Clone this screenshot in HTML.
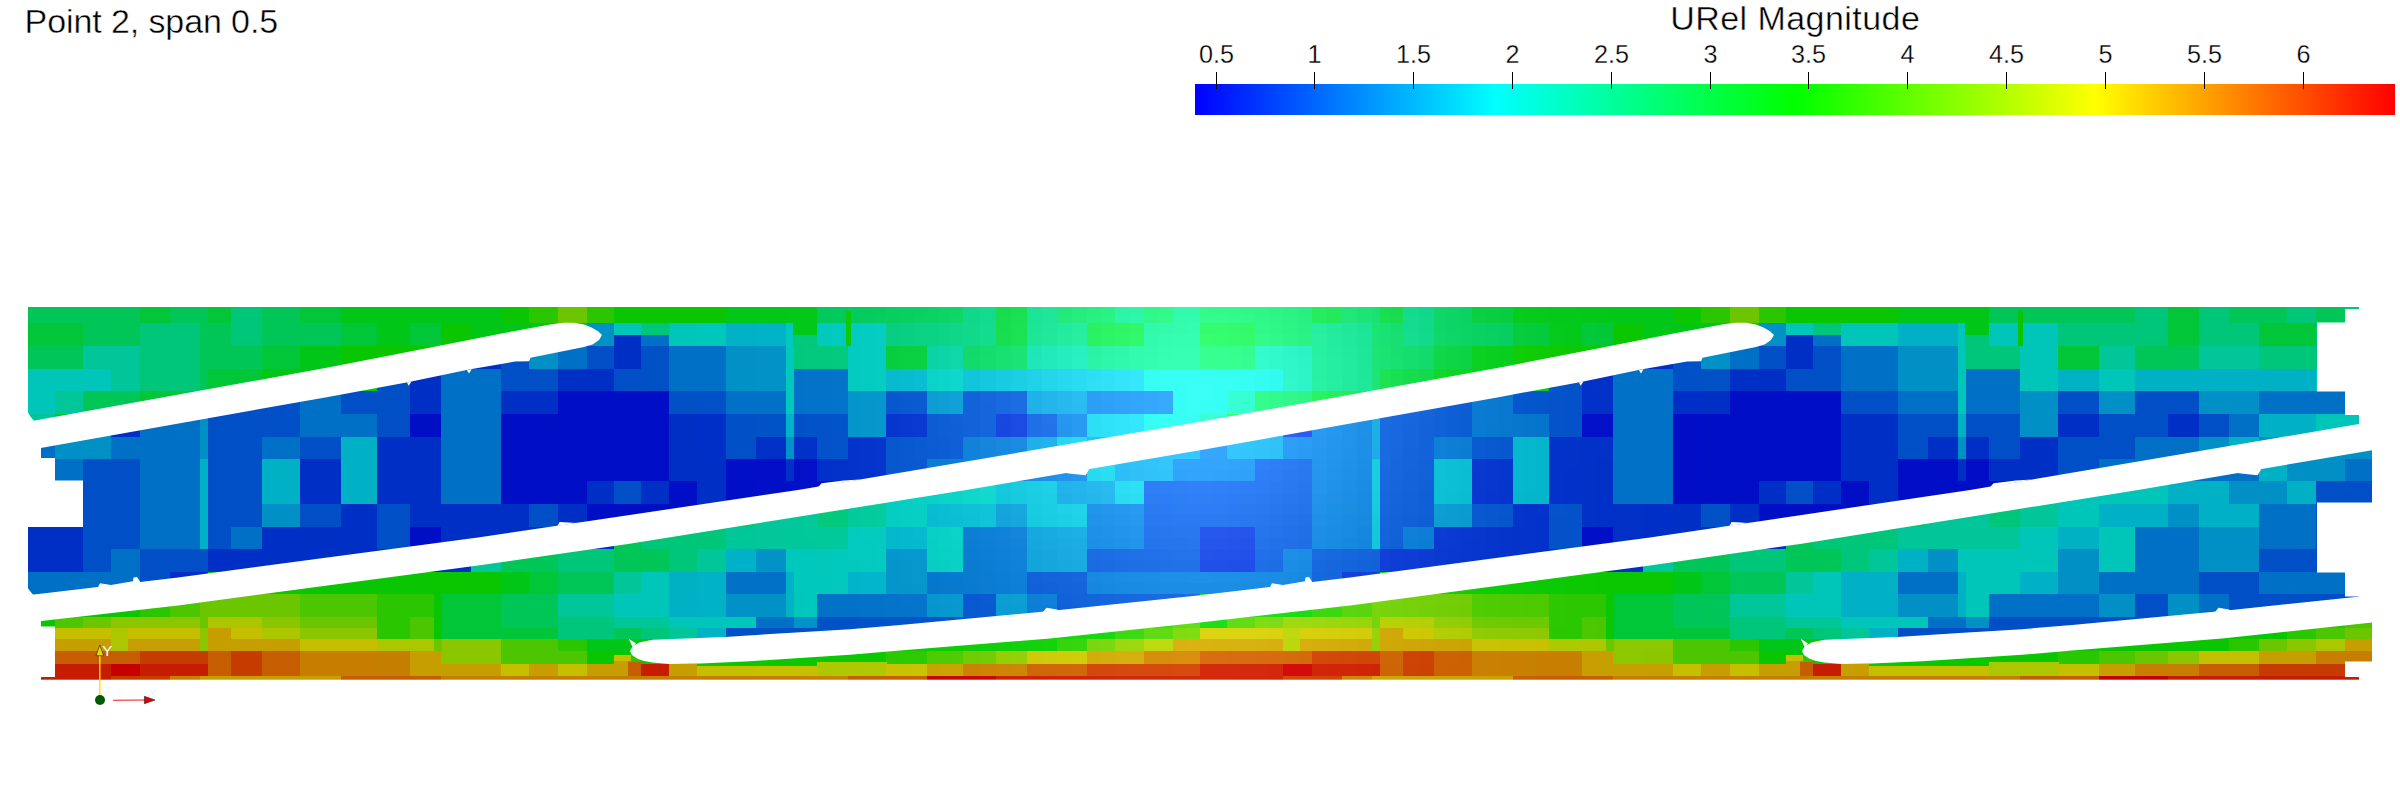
<!DOCTYPE html>
<html><head><meta charset="utf-8"><title>URel Magnitude</title>
<style>
html,body{margin:0;padding:0;background:#fff;}
body{width:2400px;height:800px;overflow:hidden;font-family:"Liberation Sans",sans-serif;}
svg{display:block;position:absolute;left:0;top:0;}
text{font-family:"Liberation Sans",sans-serif;}
.tk{font-size:25.2px;text-anchor:middle;fill:#000;stroke:#fff;stroke-width:0.3px;paint-order:fill stroke;}
.ttl{font-size:34px;fill:#000;letter-spacing:0.45px;stroke:#fff;stroke-width:0.45px;paint-order:fill stroke;}
.ax{font-family:"Liberation Sans",sans-serif;}
</style></head><body>
<svg width="2400" height="800" viewBox="0 0 2400 800">
<rect x="0" y="0" width="2400" height="800" fill="#fff"/>
<g shape-rendering="crispEdges">
<rect x="28.0" y="307.0" width="27.9" height="16.1" fill="#00c658"/>
<rect x="55.3" y="307.0" width="28.2" height="16.1" fill="#00c658"/>
<rect x="82.9" y="307.0" width="28.7" height="16.1" fill="#00c658"/>
<rect x="111.0" y="307.0" width="29.9" height="16.1" fill="#00c658"/>
<rect x="140.3" y="307.0" width="29.9" height="16.1" fill="#00c638"/>
<rect x="169.6" y="307.0" width="31.1" height="16.1" fill="#00c658"/>
<rect x="200.1" y="307.0" width="7.9" height="16.1" fill="#00c658"/>
<rect x="207.5" y="307.0" width="23.8" height="16.1" fill="#00c638"/>
<rect x="230.7" y="307.0" width="32.3" height="16.1" fill="#00c679"/>
<rect x="262.4" y="307.0" width="38.4" height="16.1" fill="#00c658"/>
<rect x="300.2" y="307.0" width="40.9" height="16.1" fill="#00c638"/>
<rect x="340.5" y="307.0" width="37.2" height="16.1" fill="#00c617"/>
<rect x="377.2" y="307.0" width="33.6" height="16.1" fill="#00c617"/>
<rect x="410.1" y="307.0" width="31.1" height="16.1" fill="#00c617"/>
<rect x="440.6" y="307.0" width="31.1" height="16.1" fill="#00c617"/>
<rect x="471.2" y="307.0" width="29.9" height="16.1" fill="#00c617"/>
<rect x="500.5" y="307.0" width="28.7" height="16.1" fill="#09c600"/>
<rect x="528.5" y="307.0" width="29.9" height="16.1" fill="#2ac600"/>
<rect x="557.8" y="307.0" width="29.9" height="16.1" fill="#6bc600"/>
<rect x="587.1" y="307.0" width="27.5" height="16.1" fill="#2ac600"/>
<rect x="614.0" y="307.0" width="27.9" height="16.1" fill="#09c600"/>
<rect x="641.3" y="307.0" width="28.2" height="16.1" fill="#0ac600"/>
<rect x="668.9" y="307.0" width="28.7" height="16.1" fill="#0ac600"/>
<rect x="697.0" y="307.0" width="29.9" height="16.1" fill="#0ac600"/>
<rect x="726.3" y="307.0" width="29.9" height="16.1" fill="#01c718"/>
<rect x="755.6" y="307.0" width="31.1" height="16.1" fill="#01c718"/>
<rect x="786.1" y="307.0" width="7.9" height="8.3" fill="#01c819"/>
<rect x="786.1" y="314.8" width="7.9" height="8.3" fill="#01c819"/>
<rect x="793.5" y="307.0" width="12.2" height="8.3" fill="#02c819"/>
<rect x="793.5" y="314.8" width="12.2" height="8.3" fill="#02c819"/>
<rect x="805.1" y="307.0" width="12.2" height="8.3" fill="#02c819"/>
<rect x="805.1" y="314.8" width="12.2" height="8.3" fill="#02c919"/>
<rect x="816.7" y="307.0" width="16.5" height="8.3" fill="#02c95b"/>
<rect x="816.7" y="314.8" width="16.5" height="8.3" fill="#02c95b"/>
<rect x="832.5" y="307.0" width="16.5" height="8.3" fill="#03ca5c"/>
<rect x="832.5" y="314.8" width="16.5" height="8.3" fill="#03ca5c"/>
<rect x="848.4" y="307.0" width="13.2" height="8.3" fill="#04cb5d"/>
<rect x="848.4" y="314.8" width="13.2" height="8.3" fill="#04cb5d"/>
<rect x="861.0" y="307.0" width="13.2" height="8.3" fill="#05cb5d"/>
<rect x="861.0" y="314.8" width="13.2" height="8.3" fill="#05cc5d"/>
<rect x="873.6" y="307.0" width="13.2" height="8.3" fill="#05cc5e"/>
<rect x="873.6" y="314.8" width="13.2" height="8.3" fill="#06cd5e"/>
<rect x="886.2" y="307.0" width="14.0" height="8.3" fill="#06ce5f"/>
<rect x="886.2" y="314.8" width="14.0" height="8.3" fill="#07ce5f"/>
<rect x="899.7" y="307.0" width="14.0" height="8.3" fill="#08cf61"/>
<rect x="899.7" y="314.8" width="14.0" height="8.3" fill="#08cf61"/>
<rect x="913.1" y="307.0" width="14.0" height="8.3" fill="#09d062"/>
<rect x="913.1" y="314.8" width="14.0" height="8.3" fill="#09d162"/>
<rect x="926.5" y="307.0" width="12.8" height="8.3" fill="#0bd264"/>
<rect x="926.5" y="314.8" width="12.8" height="8.3" fill="#0bd264"/>
<rect x="938.7" y="307.0" width="12.8" height="8.3" fill="#0cd465"/>
<rect x="938.7" y="314.8" width="12.8" height="8.3" fill="#0cd465"/>
<rect x="950.9" y="307.0" width="12.8" height="8.3" fill="#0ed567"/>
<rect x="950.9" y="314.8" width="12.8" height="8.3" fill="#0ed667"/>
<rect x="963.2" y="307.0" width="17.1" height="8.3" fill="#10d88a"/>
<rect x="963.2" y="314.8" width="17.1" height="8.3" fill="#10d88a"/>
<rect x="979.6" y="307.0" width="17.1" height="8.3" fill="#13da8d"/>
<rect x="979.6" y="314.8" width="17.1" height="8.3" fill="#13db8d"/>
<rect x="996.1" y="307.0" width="15.9" height="8.3" fill="#16dd4e"/>
<rect x="996.1" y="314.8" width="15.9" height="8.3" fill="#16de4e"/>
<rect x="1011.4" y="307.0" width="15.9" height="8.3" fill="#19e051"/>
<rect x="1011.4" y="314.8" width="15.9" height="8.3" fill="#19e151"/>
<rect x="1026.6" y="307.0" width="15.9" height="8.3" fill="#1ce396"/>
<rect x="1026.6" y="314.8" width="15.9" height="8.3" fill="#1ce496"/>
<rect x="1041.9" y="307.0" width="15.9" height="8.3" fill="#1fe699"/>
<rect x="1041.9" y="314.8" width="15.9" height="8.3" fill="#1fe799"/>
<rect x="1057.2" y="307.0" width="15.2" height="8.3" fill="#22e97b"/>
<rect x="1057.2" y="314.8" width="15.2" height="8.3" fill="#22ea7c"/>
<rect x="1071.8" y="307.0" width="15.2" height="8.3" fill="#24ec7e"/>
<rect x="1071.8" y="314.8" width="15.2" height="8.3" fill="#25ed7e"/>
<rect x="1086.5" y="307.0" width="14.6" height="8.3" fill="#27ef80"/>
<rect x="1086.5" y="314.8" width="14.6" height="8.3" fill="#28f081"/>
<rect x="1100.5" y="307.0" width="14.6" height="8.3" fill="#29f183"/>
<rect x="1100.5" y="314.8" width="14.6" height="8.3" fill="#2af284"/>
<rect x="1114.5" y="307.0" width="15.2" height="8.3" fill="#2cf4a6"/>
<rect x="1114.5" y="314.8" width="15.2" height="8.3" fill="#2df5a7"/>
<rect x="1129.2" y="307.0" width="15.2" height="8.3" fill="#2ef6a8"/>
<rect x="1129.2" y="314.8" width="15.2" height="8.3" fill="#2ff7a9"/>
<rect x="1143.8" y="307.0" width="15.2" height="8.3" fill="#2ff789"/>
<rect x="1143.8" y="314.8" width="15.2" height="8.3" fill="#30f98a"/>
<rect x="1158.5" y="307.0" width="15.2" height="8.3" fill="#31f98a"/>
<rect x="1158.5" y="314.8" width="15.2" height="8.3" fill="#32fa8b"/>
<rect x="1173.1" y="307.0" width="14.0" height="8.3" fill="#31faac"/>
<rect x="1173.1" y="314.8" width="14.0" height="8.3" fill="#33fbad"/>
<rect x="1186.6" y="307.0" width="14.0" height="8.3" fill="#32faac"/>
<rect x="1186.6" y="314.8" width="14.0" height="8.3" fill="#33fbad"/>
<rect x="28.0" y="322.5" width="27.9" height="24.1" fill="#00c638"/>
<rect x="55.3" y="322.5" width="28.2" height="24.1" fill="#00c638"/>
<rect x="82.9" y="322.5" width="28.7" height="24.1" fill="#00c658"/>
<rect x="111.0" y="322.5" width="29.9" height="24.1" fill="#00c658"/>
<rect x="140.3" y="322.5" width="29.9" height="24.1" fill="#00c679"/>
<rect x="169.6" y="322.5" width="31.1" height="24.1" fill="#00c679"/>
<rect x="200.1" y="322.5" width="7.9" height="24.1" fill="#00c658"/>
<rect x="207.5" y="322.5" width="23.8" height="24.1" fill="#00c658"/>
<rect x="230.7" y="322.5" width="32.3" height="24.1" fill="#00c679"/>
<rect x="262.4" y="322.5" width="38.4" height="24.1" fill="#00c658"/>
<rect x="300.2" y="322.5" width="40.9" height="24.1" fill="#00c658"/>
<rect x="340.5" y="322.5" width="37.2" height="24.1" fill="#00c638"/>
<rect x="377.2" y="322.5" width="33.6" height="24.1" fill="#00c617"/>
<rect x="410.1" y="322.5" width="31.1" height="24.1" fill="#00c638"/>
<rect x="440.6" y="322.5" width="31.1" height="24.1" fill="#09c600"/>
<rect x="471.2" y="322.5" width="29.9" height="24.1" fill="#00c617"/>
<rect x="500.5" y="322.5" width="28.7" height="24.1" fill="#00c617"/>
<rect x="528.5" y="322.5" width="29.9" height="24.1" fill="#00c617"/>
<rect x="557.8" y="322.5" width="29.9" height="24.1" fill="#00c617"/>
<rect x="587.1" y="322.5" width="27.5" height="24.1" fill="#0091c6"/>
<rect x="614.0" y="322.5" width="27.9" height="24.1" fill="#0091c6"/>
<rect x="641.3" y="322.5" width="28.2" height="24.1" fill="#0091c6"/>
<rect x="668.9" y="322.5" width="28.7" height="24.1" fill="#00c6ba"/>
<rect x="697.0" y="322.5" width="29.9" height="24.1" fill="#00c7bb"/>
<rect x="726.3" y="322.5" width="29.9" height="24.1" fill="#01b2c7"/>
<rect x="755.6" y="322.5" width="31.1" height="24.1" fill="#01b3c7"/>
<rect x="786.1" y="322.5" width="7.9" height="12.3" fill="#01c8bc"/>
<rect x="786.1" y="334.2" width="7.9" height="12.3" fill="#01c8bc"/>
<rect x="793.5" y="322.5" width="12.2" height="12.3" fill="#02c83a"/>
<rect x="793.5" y="334.2" width="12.2" height="12.3" fill="#02c83a"/>
<rect x="805.1" y="322.5" width="12.2" height="12.3" fill="#02c93a"/>
<rect x="805.1" y="334.2" width="12.2" height="12.3" fill="#02c93a"/>
<rect x="816.7" y="322.5" width="16.5" height="12.3" fill="#02c9bd"/>
<rect x="816.7" y="334.2" width="16.5" height="12.3" fill="#03c9bd"/>
<rect x="832.5" y="322.5" width="16.5" height="12.3" fill="#03cabe"/>
<rect x="832.5" y="334.2" width="16.5" height="12.3" fill="#03cabe"/>
<rect x="848.4" y="322.5" width="13.2" height="12.3" fill="#04cbbf"/>
<rect x="848.4" y="334.2" width="13.2" height="12.3" fill="#04cbbf"/>
<rect x="861.0" y="322.5" width="13.2" height="12.3" fill="#05ccc0"/>
<rect x="861.0" y="334.2" width="13.2" height="12.3" fill="#05ccc0"/>
<rect x="873.6" y="322.5" width="13.2" height="12.3" fill="#06cdc1"/>
<rect x="873.6" y="334.2" width="13.2" height="12.3" fill="#06cdc1"/>
<rect x="886.2" y="322.5" width="14.0" height="12.3" fill="#07ce80"/>
<rect x="886.2" y="334.2" width="14.0" height="12.3" fill="#07ce81"/>
<rect x="899.7" y="322.5" width="14.0" height="12.3" fill="#08cf82"/>
<rect x="899.7" y="334.2" width="14.0" height="12.3" fill="#08cf82"/>
<rect x="913.1" y="322.5" width="14.0" height="12.3" fill="#0ad183"/>
<rect x="913.1" y="334.2" width="14.0" height="12.3" fill="#0ad184"/>
<rect x="926.5" y="322.5" width="12.8" height="12.3" fill="#0bd285"/>
<rect x="926.5" y="334.2" width="12.8" height="12.3" fill="#0bd385"/>
<rect x="938.7" y="322.5" width="12.8" height="12.3" fill="#0dd487"/>
<rect x="938.7" y="334.2" width="12.8" height="12.3" fill="#0dd487"/>
<rect x="950.9" y="322.5" width="12.8" height="12.3" fill="#0fd688"/>
<rect x="950.9" y="334.2" width="12.8" height="12.3" fill="#0fd689"/>
<rect x="963.2" y="322.5" width="17.1" height="12.3" fill="#11d88b"/>
<rect x="963.2" y="334.2" width="17.1" height="12.3" fill="#11d98b"/>
<rect x="979.6" y="322.5" width="17.1" height="12.3" fill="#14db8e"/>
<rect x="979.6" y="334.2" width="17.1" height="12.3" fill="#14dc8e"/>
<rect x="996.1" y="322.5" width="15.9" height="12.3" fill="#17de4f"/>
<rect x="996.1" y="334.2" width="15.9" height="12.3" fill="#17df50"/>
<rect x="1011.4" y="322.5" width="15.9" height="12.3" fill="#1ae252"/>
<rect x="1011.4" y="334.2" width="15.9" height="12.3" fill="#1be253"/>
<rect x="1026.6" y="322.5" width="15.9" height="12.3" fill="#1de597"/>
<rect x="1026.6" y="334.2" width="15.9" height="12.3" fill="#1ee598"/>
<rect x="1041.9" y="322.5" width="15.9" height="12.3" fill="#20e89a"/>
<rect x="1041.9" y="334.2" width="15.9" height="12.3" fill="#21e99b"/>
<rect x="1057.2" y="322.5" width="15.2" height="12.3" fill="#23eb9d"/>
<rect x="1057.2" y="334.2" width="15.2" height="12.3" fill="#24ec9e"/>
<rect x="1071.8" y="322.5" width="15.2" height="12.3" fill="#26eea0"/>
<rect x="1071.8" y="334.2" width="15.2" height="12.3" fill="#27efa1"/>
<rect x="1086.5" y="322.5" width="14.6" height="12.3" fill="#29f161"/>
<rect x="1086.5" y="334.2" width="14.6" height="12.3" fill="#2af262"/>
<rect x="1100.5" y="322.5" width="14.6" height="12.3" fill="#2cf464"/>
<rect x="1100.5" y="334.2" width="14.6" height="12.3" fill="#2df565"/>
<rect x="1114.5" y="322.5" width="15.2" height="12.3" fill="#2ef666"/>
<rect x="1114.5" y="334.2" width="15.2" height="12.3" fill="#2ff768"/>
<rect x="1129.2" y="322.5" width="15.2" height="12.3" fill="#30f868"/>
<rect x="1129.2" y="334.2" width="15.2" height="12.3" fill="#31f96a"/>
<rect x="1143.8" y="322.5" width="15.2" height="12.3" fill="#32faac"/>
<rect x="1143.8" y="334.2" width="15.2" height="12.3" fill="#33fbad"/>
<rect x="1158.5" y="322.5" width="15.2" height="12.3" fill="#33fbad"/>
<rect x="1158.5" y="334.2" width="15.2" height="12.3" fill="#35fdaf"/>
<rect x="1173.1" y="322.5" width="14.0" height="12.3" fill="#34fcae"/>
<rect x="1173.1" y="334.2" width="14.0" height="12.3" fill="#35feb0"/>
<rect x="1186.6" y="322.5" width="14.0" height="12.3" fill="#34fdaf"/>
<rect x="1186.6" y="334.2" width="14.0" height="12.3" fill="#36feb0"/>
<rect x="28.0" y="346.0" width="27.9" height="23.6" fill="#00c658"/>
<rect x="55.3" y="346.0" width="28.2" height="23.6" fill="#00c658"/>
<rect x="82.9" y="346.0" width="28.7" height="23.6" fill="#00c699"/>
<rect x="111.0" y="346.0" width="29.9" height="23.6" fill="#00c699"/>
<rect x="140.3" y="346.0" width="29.9" height="23.6" fill="#00c679"/>
<rect x="169.6" y="346.0" width="31.1" height="23.6" fill="#00c679"/>
<rect x="200.1" y="346.0" width="7.9" height="23.6" fill="#00c658"/>
<rect x="207.5" y="346.0" width="23.8" height="23.6" fill="#00c658"/>
<rect x="230.7" y="346.0" width="32.3" height="23.6" fill="#00c658"/>
<rect x="262.4" y="346.0" width="38.4" height="23.6" fill="#00c638"/>
<rect x="300.2" y="346.0" width="40.9" height="23.6" fill="#00c617"/>
<rect x="340.5" y="346.0" width="37.2" height="23.6" fill="#09c600"/>
<rect x="377.2" y="346.0" width="33.6" height="23.6" fill="#09c600"/>
<rect x="410.1" y="346.0" width="31.1" height="23.6" fill="#09c600"/>
<rect x="440.6" y="346.0" width="31.1" height="23.6" fill="#09c600"/>
<rect x="471.2" y="346.0" width="29.9" height="23.6" fill="#002fc6"/>
<rect x="500.5" y="346.0" width="28.7" height="23.6" fill="#004fc6"/>
<rect x="528.5" y="346.0" width="29.9" height="23.6" fill="#0090c6"/>
<rect x="557.8" y="346.0" width="29.9" height="23.6" fill="#0070c6"/>
<rect x="587.1" y="346.0" width="27.5" height="23.6" fill="#004fc6"/>
<rect x="614.0" y="346.0" width="27.9" height="23.6" fill="#002fc6"/>
<rect x="641.3" y="346.0" width="28.2" height="23.6" fill="#0050c6"/>
<rect x="668.9" y="346.0" width="28.7" height="23.6" fill="#0070c6"/>
<rect x="697.0" y="346.0" width="29.9" height="23.6" fill="#0070c7"/>
<rect x="726.3" y="346.0" width="29.9" height="23.6" fill="#0191c7"/>
<rect x="755.6" y="346.0" width="31.1" height="23.6" fill="#0192c7"/>
<rect x="786.1" y="346.0" width="7.9" height="12.1" fill="#01c8bc"/>
<rect x="786.1" y="357.5" width="7.9" height="12.1" fill="#01c8bc"/>
<rect x="793.5" y="346.0" width="12.2" height="12.1" fill="#02c87b"/>
<rect x="793.5" y="357.5" width="12.2" height="12.1" fill="#02c87b"/>
<rect x="805.1" y="346.0" width="12.2" height="12.1" fill="#02c97b"/>
<rect x="805.1" y="357.5" width="12.2" height="12.1" fill="#02c97b"/>
<rect x="816.7" y="346.0" width="16.5" height="12.1" fill="#03c97c"/>
<rect x="816.7" y="357.5" width="16.5" height="12.1" fill="#03c97c"/>
<rect x="832.5" y="346.0" width="16.5" height="12.1" fill="#03ca7d"/>
<rect x="832.5" y="357.5" width="16.5" height="12.1" fill="#03ca7d"/>
<rect x="848.4" y="346.0" width="13.2" height="12.1" fill="#04cbbf"/>
<rect x="848.4" y="357.5" width="13.2" height="12.1" fill="#04cbbf"/>
<rect x="861.0" y="346.0" width="13.2" height="12.1" fill="#05ccc0"/>
<rect x="861.0" y="357.5" width="13.2" height="12.1" fill="#05ccc0"/>
<rect x="873.6" y="346.0" width="13.2" height="12.1" fill="#06cdc1"/>
<rect x="873.6" y="357.5" width="13.2" height="12.1" fill="#06cdc1"/>
<rect x="886.2" y="346.0" width="14.0" height="12.1" fill="#07ce3f"/>
<rect x="886.2" y="357.5" width="14.0" height="12.1" fill="#07ce3f"/>
<rect x="899.7" y="346.0" width="14.0" height="12.1" fill="#09d041"/>
<rect x="899.7" y="357.5" width="14.0" height="12.1" fill="#09d041"/>
<rect x="913.1" y="346.0" width="14.0" height="12.1" fill="#0ad142"/>
<rect x="913.1" y="357.5" width="14.0" height="12.1" fill="#0ad142"/>
<rect x="926.5" y="346.0" width="12.8" height="12.1" fill="#0cd3a6"/>
<rect x="926.5" y="357.5" width="12.8" height="12.1" fill="#0cd3a6"/>
<rect x="938.7" y="346.0" width="12.8" height="12.1" fill="#0dd5a8"/>
<rect x="938.7" y="357.5" width="12.8" height="12.1" fill="#0ed5a8"/>
<rect x="950.9" y="346.0" width="12.8" height="12.1" fill="#0fd7aa"/>
<rect x="950.9" y="357.5" width="12.8" height="12.1" fill="#10d7aa"/>
<rect x="963.2" y="346.0" width="17.1" height="12.1" fill="#12d96b"/>
<rect x="963.2" y="357.5" width="17.1" height="12.1" fill="#12da6b"/>
<rect x="979.6" y="346.0" width="17.1" height="12.1" fill="#15dc6e"/>
<rect x="979.6" y="357.5" width="17.1" height="12.1" fill="#15dd6e"/>
<rect x="996.1" y="346.0" width="15.9" height="12.1" fill="#18e071"/>
<rect x="996.1" y="357.5" width="15.9" height="12.1" fill="#18e071"/>
<rect x="1011.4" y="346.0" width="15.9" height="12.1" fill="#1be374"/>
<rect x="1011.4" y="357.5" width="15.9" height="12.1" fill="#1ce375"/>
<rect x="1026.6" y="346.0" width="15.9" height="12.1" fill="#1ee6b9"/>
<rect x="1026.6" y="357.5" width="15.9" height="12.1" fill="#1fe7ba"/>
<rect x="1041.9" y="346.0" width="15.9" height="12.1" fill="#22eabd"/>
<rect x="1041.9" y="357.5" width="15.9" height="12.1" fill="#22eabd"/>
<rect x="1057.2" y="346.0" width="15.2" height="12.1" fill="#25edc0"/>
<rect x="1057.2" y="357.5" width="15.2" height="12.1" fill="#26edc1"/>
<rect x="1071.8" y="346.0" width="15.2" height="12.1" fill="#28f0c3"/>
<rect x="1071.8" y="357.5" width="15.2" height="12.1" fill="#29f1c4"/>
<rect x="1086.5" y="346.0" width="14.6" height="12.1" fill="#2bf3a5"/>
<rect x="1086.5" y="357.5" width="14.6" height="12.1" fill="#2cf4a6"/>
<rect x="1100.5" y="346.0" width="14.6" height="12.1" fill="#2ef6a8"/>
<rect x="1100.5" y="357.5" width="14.6" height="12.1" fill="#2ef7a9"/>
<rect x="1114.5" y="346.0" width="15.2" height="12.1" fill="#30f8aa"/>
<rect x="1114.5" y="357.5" width="15.2" height="12.1" fill="#31f9ab"/>
<rect x="1129.2" y="346.0" width="15.2" height="12.1" fill="#32fbad"/>
<rect x="1129.2" y="357.5" width="15.2" height="12.1" fill="#33fbae"/>
<rect x="1143.8" y="346.0" width="15.2" height="12.1" fill="#34fcaf"/>
<rect x="1143.8" y="357.5" width="15.2" height="12.1" fill="#35fdaf"/>
<rect x="1158.5" y="346.0" width="15.2" height="12.1" fill="#36feb0"/>
<rect x="1158.5" y="357.5" width="15.2" height="12.1" fill="#37ffb1"/>
<rect x="1173.1" y="346.0" width="14.0" height="12.1" fill="#37ffb1"/>
<rect x="1173.1" y="357.5" width="14.0" height="12.1" fill="#37ffb2"/>
<rect x="1186.6" y="346.0" width="14.0" height="12.1" fill="#37ffb1"/>
<rect x="1186.6" y="357.5" width="14.0" height="12.1" fill="#38ffb2"/>
<rect x="28.0" y="369.0" width="27.9" height="22.6" fill="#00c6ba"/>
<rect x="55.3" y="369.0" width="28.2" height="22.6" fill="#00c6ba"/>
<rect x="82.9" y="369.0" width="28.7" height="22.6" fill="#00c6ba"/>
<rect x="111.0" y="369.0" width="29.9" height="22.6" fill="#00c699"/>
<rect x="140.3" y="369.0" width="29.9" height="22.6" fill="#00c679"/>
<rect x="169.6" y="369.0" width="31.1" height="22.6" fill="#00c679"/>
<rect x="200.1" y="369.0" width="7.9" height="22.6" fill="#00c658"/>
<rect x="207.5" y="369.0" width="23.8" height="22.6" fill="#00c638"/>
<rect x="230.7" y="369.0" width="32.3" height="22.6" fill="#00c638"/>
<rect x="262.4" y="369.0" width="38.4" height="22.6" fill="#00c617"/>
<rect x="300.2" y="369.0" width="40.9" height="22.6" fill="#00c617"/>
<rect x="340.5" y="369.0" width="37.2" height="22.6" fill="#00c617"/>
<rect x="377.2" y="369.0" width="33.6" height="22.6" fill="#004fc6"/>
<rect x="410.1" y="369.0" width="31.1" height="22.6" fill="#002fc6"/>
<rect x="440.6" y="369.0" width="31.1" height="22.6" fill="#0070c6"/>
<rect x="471.2" y="369.0" width="29.9" height="22.6" fill="#0070c6"/>
<rect x="500.5" y="369.0" width="28.7" height="22.6" fill="#004fc6"/>
<rect x="528.5" y="369.0" width="29.9" height="22.6" fill="#004fc6"/>
<rect x="557.8" y="369.0" width="29.9" height="22.6" fill="#002fc6"/>
<rect x="587.1" y="369.0" width="27.5" height="22.6" fill="#002fc6"/>
<rect x="614.0" y="369.0" width="27.9" height="22.6" fill="#004fc6"/>
<rect x="641.3" y="369.0" width="28.2" height="22.6" fill="#0050c6"/>
<rect x="668.9" y="369.0" width="28.7" height="22.6" fill="#0070c6"/>
<rect x="697.0" y="369.0" width="29.9" height="22.6" fill="#0070c7"/>
<rect x="726.3" y="369.0" width="29.9" height="22.6" fill="#0191c7"/>
<rect x="755.6" y="369.0" width="31.1" height="22.6" fill="#0192c7"/>
<rect x="786.1" y="369.0" width="7.9" height="11.6" fill="#01c8bc"/>
<rect x="786.1" y="380.0" width="7.9" height="11.6" fill="#01c8bc"/>
<rect x="793.5" y="369.0" width="12.2" height="11.6" fill="#0272c8"/>
<rect x="793.5" y="380.0" width="12.2" height="11.6" fill="#0272c8"/>
<rect x="805.1" y="369.0" width="12.2" height="11.6" fill="#0273c9"/>
<rect x="805.1" y="380.0" width="12.2" height="11.6" fill="#0273c9"/>
<rect x="816.7" y="369.0" width="16.5" height="11.6" fill="#0373c9"/>
<rect x="816.7" y="380.0" width="16.5" height="11.6" fill="#0373c9"/>
<rect x="832.5" y="369.0" width="16.5" height="11.6" fill="#0374ca"/>
<rect x="832.5" y="380.0" width="16.5" height="11.6" fill="#0374ca"/>
<rect x="848.4" y="369.0" width="13.2" height="11.6" fill="#04cbbf"/>
<rect x="848.4" y="380.0" width="13.2" height="11.6" fill="#04cbbf"/>
<rect x="861.0" y="369.0" width="13.2" height="11.6" fill="#05ccc0"/>
<rect x="861.0" y="380.0" width="13.2" height="11.6" fill="#05ccc0"/>
<rect x="873.6" y="369.0" width="13.2" height="11.6" fill="#06cdc1"/>
<rect x="873.6" y="380.0" width="13.2" height="11.6" fill="#06cdc1"/>
<rect x="886.2" y="369.0" width="14.0" height="11.6" fill="#07bace"/>
<rect x="886.2" y="380.0" width="14.0" height="11.6" fill="#07bace"/>
<rect x="899.7" y="369.0" width="14.0" height="11.6" fill="#09bbd0"/>
<rect x="899.7" y="380.0" width="14.0" height="11.6" fill="#09bbd0"/>
<rect x="913.1" y="369.0" width="14.0" height="11.6" fill="#0abdd2"/>
<rect x="913.1" y="380.0" width="14.0" height="11.6" fill="#0abdd2"/>
<rect x="926.5" y="369.0" width="12.8" height="11.6" fill="#0cd3c7"/>
<rect x="926.5" y="380.0" width="12.8" height="11.6" fill="#0cd3c7"/>
<rect x="938.7" y="369.0" width="12.8" height="11.6" fill="#0ed5c9"/>
<rect x="938.7" y="380.0" width="12.8" height="11.6" fill="#0ed5c9"/>
<rect x="950.9" y="369.0" width="12.8" height="11.6" fill="#10d7cb"/>
<rect x="950.9" y="380.0" width="12.8" height="11.6" fill="#10d7cb"/>
<rect x="963.2" y="369.0" width="17.1" height="11.6" fill="#12c5da"/>
<rect x="963.2" y="380.0" width="17.1" height="11.6" fill="#12c5da"/>
<rect x="979.6" y="369.0" width="17.1" height="11.6" fill="#15c8dd"/>
<rect x="979.6" y="380.0" width="17.1" height="11.6" fill="#15c8dd"/>
<rect x="996.1" y="369.0" width="15.9" height="11.6" fill="#19cbe0"/>
<rect x="996.1" y="380.0" width="15.9" height="11.6" fill="#19cbe0"/>
<rect x="1011.4" y="369.0" width="15.9" height="11.6" fill="#1ccfe4"/>
<rect x="1011.4" y="380.0" width="15.9" height="11.6" fill="#1ccfe4"/>
<rect x="1026.6" y="369.0" width="15.9" height="11.6" fill="#1fd2e7"/>
<rect x="1026.6" y="380.0" width="15.9" height="11.6" fill="#1fd2e7"/>
<rect x="1041.9" y="369.0" width="15.9" height="11.6" fill="#23d6ea"/>
<rect x="1041.9" y="380.0" width="15.9" height="11.6" fill="#23d6eb"/>
<rect x="1057.2" y="369.0" width="15.2" height="11.6" fill="#26d9ee"/>
<rect x="1057.2" y="380.0" width="15.2" height="11.6" fill="#26d9ee"/>
<rect x="1071.8" y="369.0" width="15.2" height="11.6" fill="#29dcf1"/>
<rect x="1071.8" y="380.0" width="15.2" height="11.6" fill="#29dcf1"/>
<rect x="1086.5" y="369.0" width="14.6" height="11.6" fill="#2cdff4"/>
<rect x="1086.5" y="380.0" width="14.6" height="11.6" fill="#2de0f5"/>
<rect x="1100.5" y="369.0" width="14.6" height="11.6" fill="#2fe2f7"/>
<rect x="1100.5" y="380.0" width="14.6" height="11.6" fill="#2fe2f7"/>
<rect x="1114.5" y="369.0" width="15.2" height="11.6" fill="#32e5fa"/>
<rect x="1114.5" y="380.0" width="15.2" height="11.6" fill="#32e5fa"/>
<rect x="1129.2" y="369.0" width="15.2" height="11.6" fill="#34e7fc"/>
<rect x="1129.2" y="380.0" width="15.2" height="11.6" fill="#34e7fc"/>
<rect x="1143.8" y="369.0" width="15.2" height="11.6" fill="#36fef2"/>
<rect x="1143.8" y="380.0" width="15.2" height="11.6" fill="#36fef2"/>
<rect x="1158.5" y="369.0" width="15.2" height="11.6" fill="#37fff3"/>
<rect x="1158.5" y="380.0" width="15.2" height="11.6" fill="#37fff4"/>
<rect x="1173.1" y="369.0" width="14.0" height="11.6" fill="#38fff4"/>
<rect x="1173.1" y="380.0" width="14.0" height="11.6" fill="#38fff5"/>
<rect x="1186.6" y="369.0" width="14.0" height="11.6" fill="#38fff5"/>
<rect x="1186.6" y="380.0" width="14.0" height="11.6" fill="#39fff5"/>
<rect x="28.0" y="391.0" width="27.9" height="23.6" fill="#00c6ba"/>
<rect x="55.3" y="391.0" width="28.2" height="23.6" fill="#00c699"/>
<rect x="82.9" y="391.0" width="28.7" height="23.6" fill="#00c658"/>
<rect x="111.0" y="391.0" width="29.9" height="23.6" fill="#00c658"/>
<rect x="140.3" y="391.0" width="29.9" height="23.6" fill="#00c638"/>
<rect x="169.6" y="391.0" width="31.1" height="23.6" fill="#00c638"/>
<rect x="200.1" y="391.0" width="7.9" height="23.6" fill="#00c638"/>
<rect x="207.5" y="391.0" width="23.8" height="23.6" fill="#00c638"/>
<rect x="230.7" y="391.0" width="32.3" height="23.6" fill="#004fc6"/>
<rect x="262.4" y="391.0" width="38.4" height="23.6" fill="#004fc6"/>
<rect x="300.2" y="391.0" width="40.9" height="23.6" fill="#0070c6"/>
<rect x="340.5" y="391.0" width="37.2" height="23.6" fill="#004fc6"/>
<rect x="377.2" y="391.0" width="33.6" height="23.6" fill="#004fc6"/>
<rect x="410.1" y="391.0" width="31.1" height="23.6" fill="#002fc6"/>
<rect x="440.6" y="391.0" width="31.1" height="23.6" fill="#0070c6"/>
<rect x="471.2" y="391.0" width="29.9" height="23.6" fill="#0070c6"/>
<rect x="500.5" y="391.0" width="28.7" height="23.6" fill="#002fc6"/>
<rect x="528.5" y="391.0" width="29.9" height="23.6" fill="#002fc6"/>
<rect x="557.8" y="391.0" width="29.9" height="23.6" fill="#000ec6"/>
<rect x="587.1" y="391.0" width="27.5" height="23.6" fill="#000ec6"/>
<rect x="614.0" y="391.0" width="27.9" height="23.6" fill="#000ec6"/>
<rect x="641.3" y="391.0" width="28.2" height="23.6" fill="#000ec6"/>
<rect x="668.9" y="391.0" width="28.7" height="23.6" fill="#0050c6"/>
<rect x="697.0" y="391.0" width="29.9" height="23.6" fill="#0050c7"/>
<rect x="726.3" y="391.0" width="29.9" height="23.6" fill="#0171c7"/>
<rect x="755.6" y="391.0" width="31.1" height="23.6" fill="#0171c7"/>
<rect x="786.1" y="391.0" width="7.9" height="12.1" fill="#01c8bc"/>
<rect x="786.1" y="402.5" width="7.9" height="12.1" fill="#01c8bc"/>
<rect x="793.5" y="391.0" width="12.2" height="12.1" fill="#0272c8"/>
<rect x="793.5" y="402.5" width="12.2" height="12.1" fill="#0272c8"/>
<rect x="805.1" y="391.0" width="12.2" height="12.1" fill="#0273c9"/>
<rect x="805.1" y="402.5" width="12.2" height="12.1" fill="#0273c9"/>
<rect x="816.7" y="391.0" width="16.5" height="12.1" fill="#0373c9"/>
<rect x="816.7" y="402.5" width="16.5" height="12.1" fill="#0373c9"/>
<rect x="832.5" y="391.0" width="16.5" height="12.1" fill="#0374ca"/>
<rect x="832.5" y="402.5" width="16.5" height="12.1" fill="#0374ca"/>
<rect x="848.4" y="391.0" width="13.2" height="12.1" fill="#0496cb"/>
<rect x="848.4" y="402.5" width="13.2" height="12.1" fill="#0496cb"/>
<rect x="861.0" y="391.0" width="13.2" height="12.1" fill="#0596cc"/>
<rect x="861.0" y="402.5" width="13.2" height="12.1" fill="#0596cc"/>
<rect x="873.6" y="391.0" width="13.2" height="12.1" fill="#0698cd"/>
<rect x="873.6" y="402.5" width="13.2" height="12.1" fill="#0698cd"/>
<rect x="886.2" y="391.0" width="14.0" height="12.1" fill="#0757ce"/>
<rect x="886.2" y="402.5" width="14.0" height="12.1" fill="#0757ce"/>
<rect x="899.7" y="391.0" width="14.0" height="12.1" fill="#0959d0"/>
<rect x="899.7" y="402.5" width="14.0" height="12.1" fill="#0959d0"/>
<rect x="913.1" y="391.0" width="14.0" height="12.1" fill="#0a5ad2"/>
<rect x="913.1" y="402.5" width="14.0" height="12.1" fill="#0a5ad2"/>
<rect x="926.5" y="391.0" width="12.8" height="12.1" fill="#0c9ed3"/>
<rect x="926.5" y="402.5" width="12.8" height="12.1" fill="#0c9ed3"/>
<rect x="938.7" y="391.0" width="12.8" height="12.1" fill="#0ea0d5"/>
<rect x="938.7" y="402.5" width="12.8" height="12.1" fill="#0e9fd5"/>
<rect x="950.9" y="391.0" width="12.8" height="12.1" fill="#10a2d7"/>
<rect x="950.9" y="402.5" width="12.8" height="12.1" fill="#10a1d7"/>
<rect x="963.2" y="391.0" width="17.1" height="12.1" fill="#1262da"/>
<rect x="963.2" y="402.5" width="17.1" height="12.1" fill="#1262da"/>
<rect x="979.6" y="391.0" width="17.1" height="12.1" fill="#1666dd"/>
<rect x="979.6" y="402.5" width="17.1" height="12.1" fill="#1566dd"/>
<rect x="996.1" y="391.0" width="15.9" height="12.1" fill="#1969e0"/>
<rect x="996.1" y="402.5" width="15.9" height="12.1" fill="#1969e0"/>
<rect x="1011.4" y="391.0" width="15.9" height="12.1" fill="#1c6ce4"/>
<rect x="1011.4" y="402.5" width="15.9" height="12.1" fill="#1c6ce4"/>
<rect x="1026.6" y="391.0" width="15.9" height="12.1" fill="#1fb1e7"/>
<rect x="1026.6" y="402.5" width="15.9" height="12.1" fill="#1fb1e7"/>
<rect x="1041.9" y="391.0" width="15.9" height="12.1" fill="#23b5eb"/>
<rect x="1041.9" y="402.5" width="15.9" height="12.1" fill="#23b5eb"/>
<rect x="1057.2" y="391.0" width="15.2" height="12.1" fill="#26b8ee"/>
<rect x="1057.2" y="402.5" width="15.2" height="12.1" fill="#26b8ee"/>
<rect x="1071.8" y="391.0" width="15.2" height="12.1" fill="#2abcf2"/>
<rect x="1071.8" y="402.5" width="15.2" height="12.1" fill="#29bbf1"/>
<rect x="1086.5" y="391.0" width="14.6" height="12.1" fill="#2d9ef5"/>
<rect x="1086.5" y="402.5" width="14.6" height="12.1" fill="#2c9ef4"/>
<rect x="1100.5" y="391.0" width="14.6" height="12.1" fill="#2fa1f7"/>
<rect x="1100.5" y="402.5" width="14.6" height="12.1" fill="#2fa0f7"/>
<rect x="1114.5" y="391.0" width="15.2" height="12.1" fill="#32a3fa"/>
<rect x="1114.5" y="402.5" width="15.2" height="12.1" fill="#32a3fa"/>
<rect x="1129.2" y="391.0" width="15.2" height="12.1" fill="#34a5fc"/>
<rect x="1129.2" y="402.5" width="15.2" height="12.1" fill="#34a5fc"/>
<rect x="1143.8" y="391.0" width="15.2" height="12.1" fill="#36a7fe"/>
<rect x="1143.8" y="402.5" width="15.2" height="12.1" fill="#36a7fe"/>
<rect x="1158.5" y="391.0" width="15.2" height="12.1" fill="#38a9ff"/>
<rect x="1158.5" y="402.5" width="15.2" height="12.1" fill="#37a9ff"/>
<rect x="1173.1" y="391.0" width="14.0" height="12.1" fill="#38fff5"/>
<rect x="1173.1" y="402.5" width="14.0" height="12.1" fill="#38fff5"/>
<rect x="1186.6" y="391.0" width="14.0" height="12.1" fill="#39fff5"/>
<rect x="1186.6" y="402.5" width="14.0" height="12.1" fill="#39fff5"/>
<rect x="28.0" y="414.0" width="27.9" height="23.1" fill="#00c699"/>
<rect x="55.3" y="414.0" width="28.2" height="23.1" fill="#00c638"/>
<rect x="82.9" y="414.0" width="28.7" height="23.1" fill="#0090c6"/>
<rect x="111.0" y="414.0" width="29.9" height="23.1" fill="#002fc6"/>
<rect x="140.3" y="414.0" width="29.9" height="23.1" fill="#0070c6"/>
<rect x="169.6" y="414.0" width="31.1" height="23.1" fill="#0070c6"/>
<rect x="200.1" y="414.0" width="7.9" height="23.1" fill="#0090c6"/>
<rect x="207.5" y="414.0" width="23.8" height="23.1" fill="#004fc6"/>
<rect x="230.7" y="414.0" width="32.3" height="23.1" fill="#004fc6"/>
<rect x="262.4" y="414.0" width="38.4" height="23.1" fill="#004fc6"/>
<rect x="300.2" y="414.0" width="40.9" height="23.1" fill="#0070c6"/>
<rect x="340.5" y="414.0" width="37.2" height="23.1" fill="#0070c6"/>
<rect x="377.2" y="414.0" width="33.6" height="23.1" fill="#004fc6"/>
<rect x="410.1" y="414.0" width="31.1" height="23.1" fill="#000ec6"/>
<rect x="440.6" y="414.0" width="31.1" height="23.1" fill="#0070c6"/>
<rect x="471.2" y="414.0" width="29.9" height="23.1" fill="#0070c6"/>
<rect x="500.5" y="414.0" width="28.7" height="23.1" fill="#000ec6"/>
<rect x="528.5" y="414.0" width="29.9" height="23.1" fill="#000ec6"/>
<rect x="557.8" y="414.0" width="29.9" height="23.1" fill="#000ec6"/>
<rect x="587.1" y="414.0" width="27.5" height="23.1" fill="#000ec6"/>
<rect x="614.0" y="414.0" width="27.9" height="23.1" fill="#000ec6"/>
<rect x="641.3" y="414.0" width="28.2" height="23.1" fill="#000ec6"/>
<rect x="668.9" y="414.0" width="28.7" height="23.1" fill="#002fc6"/>
<rect x="697.0" y="414.0" width="29.9" height="23.1" fill="#002fc7"/>
<rect x="726.3" y="414.0" width="29.9" height="23.1" fill="#0150c7"/>
<rect x="755.6" y="414.0" width="31.1" height="23.1" fill="#0151c7"/>
<rect x="786.1" y="414.0" width="7.9" height="11.8" fill="#01b3c8"/>
<rect x="786.1" y="425.2" width="7.9" height="11.8" fill="#01b3c8"/>
<rect x="793.5" y="414.0" width="12.2" height="11.8" fill="#0251c8"/>
<rect x="793.5" y="425.2" width="12.2" height="11.8" fill="#0251c8"/>
<rect x="805.1" y="414.0" width="12.2" height="11.8" fill="#0252c9"/>
<rect x="805.1" y="425.2" width="12.2" height="11.8" fill="#0252c9"/>
<rect x="816.7" y="414.0" width="16.5" height="11.8" fill="#0352c9"/>
<rect x="816.7" y="425.2" width="16.5" height="11.8" fill="#0352c9"/>
<rect x="832.5" y="414.0" width="16.5" height="11.8" fill="#0353ca"/>
<rect x="832.5" y="425.2" width="16.5" height="11.8" fill="#0353ca"/>
<rect x="848.4" y="414.0" width="13.2" height="11.8" fill="#0496cb"/>
<rect x="848.4" y="425.2" width="13.2" height="11.8" fill="#0495cb"/>
<rect x="861.0" y="414.0" width="13.2" height="11.8" fill="#0596cc"/>
<rect x="861.0" y="425.2" width="13.2" height="11.8" fill="#0596cc"/>
<rect x="873.6" y="414.0" width="13.2" height="11.8" fill="#0697cd"/>
<rect x="873.6" y="425.2" width="13.2" height="11.8" fill="#0697cd"/>
<rect x="886.2" y="414.0" width="14.0" height="11.8" fill="#0736ce"/>
<rect x="886.2" y="425.2" width="14.0" height="11.8" fill="#0736ce"/>
<rect x="899.7" y="414.0" width="14.0" height="11.8" fill="#0938d0"/>
<rect x="899.7" y="425.2" width="14.0" height="11.8" fill="#0938d0"/>
<rect x="913.1" y="414.0" width="14.0" height="11.8" fill="#0a39d1"/>
<rect x="913.1" y="425.2" width="14.0" height="11.8" fill="#0a39d1"/>
<rect x="926.5" y="414.0" width="12.8" height="11.8" fill="#0c5cd3"/>
<rect x="926.5" y="425.2" width="12.8" height="11.8" fill="#0c5cd3"/>
<rect x="938.7" y="414.0" width="12.8" height="11.8" fill="#0e5ed5"/>
<rect x="938.7" y="425.2" width="12.8" height="11.8" fill="#0e5ed5"/>
<rect x="950.9" y="414.0" width="12.8" height="11.8" fill="#1060d7"/>
<rect x="950.9" y="425.2" width="12.8" height="11.8" fill="#105fd7"/>
<rect x="963.2" y="414.0" width="17.1" height="11.8" fill="#1262da"/>
<rect x="963.2" y="425.2" width="17.1" height="11.8" fill="#1262d9"/>
<rect x="979.6" y="414.0" width="17.1" height="11.8" fill="#1565dd"/>
<rect x="979.6" y="425.2" width="17.1" height="11.8" fill="#1565dd"/>
<rect x="996.1" y="414.0" width="15.9" height="11.8" fill="#1848e0"/>
<rect x="996.1" y="425.2" width="15.9" height="11.8" fill="#1847e0"/>
<rect x="1011.4" y="414.0" width="15.9" height="11.8" fill="#1c4be3"/>
<rect x="1011.4" y="425.2" width="15.9" height="11.8" fill="#1b4be3"/>
<rect x="1026.6" y="414.0" width="15.9" height="11.8" fill="#1f6fe7"/>
<rect x="1026.6" y="425.2" width="15.9" height="11.8" fill="#1f6fe6"/>
<rect x="1041.9" y="414.0" width="15.9" height="11.8" fill="#2373ea"/>
<rect x="1041.9" y="425.2" width="15.9" height="11.8" fill="#2272ea"/>
<rect x="1057.2" y="414.0" width="15.2" height="11.8" fill="#2697ee"/>
<rect x="1057.2" y="425.2" width="15.2" height="11.8" fill="#2596ed"/>
<rect x="1071.8" y="414.0" width="15.2" height="11.8" fill="#299af1"/>
<rect x="1071.8" y="425.2" width="15.2" height="11.8" fill="#299af1"/>
<rect x="1086.5" y="414.0" width="14.6" height="11.8" fill="#2cdff4"/>
<rect x="1086.5" y="425.2" width="14.6" height="11.8" fill="#2cdff4"/>
<rect x="1100.5" y="414.0" width="14.6" height="11.8" fill="#2fe2f7"/>
<rect x="1100.5" y="425.2" width="14.6" height="11.8" fill="#2ee1f6"/>
<rect x="1114.5" y="414.0" width="15.2" height="11.8" fill="#31e4f9"/>
<rect x="1114.5" y="425.2" width="15.2" height="11.8" fill="#31e4f9"/>
<rect x="1129.2" y="414.0" width="15.2" height="11.8" fill="#34e7fc"/>
<rect x="1129.2" y="425.2" width="15.2" height="11.8" fill="#33e6fb"/>
<rect x="1143.8" y="414.0" width="15.2" height="11.8" fill="#36fef2"/>
<rect x="1143.8" y="425.2" width="15.2" height="11.8" fill="#35fdf1"/>
<rect x="1158.5" y="414.0" width="15.2" height="11.8" fill="#37fff3"/>
<rect x="1158.5" y="425.2" width="15.2" height="11.8" fill="#36fef2"/>
<rect x="1173.1" y="414.0" width="14.0" height="11.8" fill="#38fff4"/>
<rect x="1173.1" y="425.2" width="14.0" height="11.8" fill="#37fff3"/>
<rect x="1186.6" y="414.0" width="14.0" height="11.8" fill="#38fff5"/>
<rect x="1186.6" y="425.2" width="14.0" height="11.8" fill="#38fff4"/>
<rect x="28.0" y="436.5" width="27.9" height="23.1" fill="#0070c6"/>
<rect x="55.3" y="436.5" width="28.2" height="23.1" fill="#0090c6"/>
<rect x="82.9" y="436.5" width="28.7" height="23.1" fill="#0090c6"/>
<rect x="111.0" y="436.5" width="29.9" height="23.1" fill="#0070c6"/>
<rect x="140.3" y="436.5" width="29.9" height="23.1" fill="#0070c6"/>
<rect x="169.6" y="436.5" width="31.1" height="23.1" fill="#0070c6"/>
<rect x="200.1" y="436.5" width="7.9" height="23.1" fill="#0090c6"/>
<rect x="207.5" y="436.5" width="23.8" height="23.1" fill="#004fc6"/>
<rect x="230.7" y="436.5" width="32.3" height="23.1" fill="#004fc6"/>
<rect x="262.4" y="436.5" width="38.4" height="23.1" fill="#0070c6"/>
<rect x="300.2" y="436.5" width="40.9" height="23.1" fill="#004fc6"/>
<rect x="340.5" y="436.5" width="37.2" height="23.1" fill="#00b1c6"/>
<rect x="377.2" y="436.5" width="33.6" height="23.1" fill="#002fc6"/>
<rect x="410.1" y="436.5" width="31.1" height="23.1" fill="#002fc6"/>
<rect x="440.6" y="436.5" width="31.1" height="23.1" fill="#0070c6"/>
<rect x="471.2" y="436.5" width="29.9" height="23.1" fill="#0070c6"/>
<rect x="500.5" y="436.5" width="28.7" height="23.1" fill="#000ec6"/>
<rect x="528.5" y="436.5" width="29.9" height="23.1" fill="#000ec6"/>
<rect x="557.8" y="436.5" width="29.9" height="23.1" fill="#000ec6"/>
<rect x="587.1" y="436.5" width="27.5" height="23.1" fill="#000ec6"/>
<rect x="614.0" y="436.5" width="27.9" height="23.1" fill="#000ec6"/>
<rect x="641.3" y="436.5" width="28.2" height="23.1" fill="#000ec6"/>
<rect x="668.9" y="436.5" width="28.7" height="23.1" fill="#002fc6"/>
<rect x="697.0" y="436.5" width="29.9" height="23.1" fill="#002fc7"/>
<rect x="726.3" y="436.5" width="29.9" height="23.1" fill="#0150c7"/>
<rect x="755.6" y="436.5" width="31.1" height="23.1" fill="#0130c7"/>
<rect x="786.1" y="436.5" width="7.9" height="11.8" fill="#0192c8"/>
<rect x="786.1" y="447.8" width="7.9" height="11.8" fill="#0192c8"/>
<rect x="793.5" y="436.5" width="12.2" height="11.8" fill="#0231c8"/>
<rect x="793.5" y="447.8" width="12.2" height="11.8" fill="#0231c8"/>
<rect x="805.1" y="436.5" width="12.2" height="11.8" fill="#0231c9"/>
<rect x="805.1" y="447.8" width="12.2" height="11.8" fill="#0231c9"/>
<rect x="816.7" y="436.5" width="16.5" height="11.8" fill="#0352c9"/>
<rect x="816.7" y="447.8" width="16.5" height="11.8" fill="#0352c9"/>
<rect x="832.5" y="436.5" width="16.5" height="11.8" fill="#0353ca"/>
<rect x="832.5" y="447.8" width="16.5" height="11.8" fill="#0353ca"/>
<rect x="848.4" y="436.5" width="13.2" height="11.8" fill="#0433cb"/>
<rect x="848.4" y="447.8" width="13.2" height="11.8" fill="#0433cb"/>
<rect x="861.0" y="436.5" width="13.2" height="11.8" fill="#0534cc"/>
<rect x="861.0" y="447.8" width="13.2" height="11.8" fill="#0534cc"/>
<rect x="873.6" y="436.5" width="13.2" height="11.8" fill="#0635cd"/>
<rect x="873.6" y="447.8" width="13.2" height="11.8" fill="#0635cd"/>
<rect x="886.2" y="436.5" width="14.0" height="11.8" fill="#0757ce"/>
<rect x="886.2" y="447.8" width="14.0" height="11.8" fill="#0757ce"/>
<rect x="899.7" y="436.5" width="14.0" height="11.8" fill="#0858d0"/>
<rect x="899.7" y="447.8" width="14.0" height="11.8" fill="#0858cf"/>
<rect x="913.1" y="436.5" width="14.0" height="11.8" fill="#0a5ad1"/>
<rect x="913.1" y="447.8" width="14.0" height="11.8" fill="#0a5ad1"/>
<rect x="926.5" y="436.5" width="12.8" height="11.8" fill="#0c5cd3"/>
<rect x="926.5" y="447.8" width="12.8" height="11.8" fill="#0b5bd3"/>
<rect x="938.7" y="436.5" width="12.8" height="11.8" fill="#0d5dd5"/>
<rect x="938.7" y="447.8" width="12.8" height="11.8" fill="#0d5dd4"/>
<rect x="950.9" y="436.5" width="12.8" height="11.8" fill="#0f5fd7"/>
<rect x="950.9" y="447.8" width="12.8" height="11.8" fill="#0f5fd6"/>
<rect x="963.2" y="436.5" width="17.1" height="11.8" fill="#1282d9"/>
<rect x="963.2" y="447.8" width="17.1" height="11.8" fill="#1182d9"/>
<rect x="979.6" y="436.5" width="17.1" height="11.8" fill="#1586dc"/>
<rect x="979.6" y="447.8" width="17.1" height="11.8" fill="#1485dc"/>
<rect x="996.1" y="436.5" width="15.9" height="11.8" fill="#1889df"/>
<rect x="996.1" y="447.8" width="15.9" height="11.8" fill="#1788df"/>
<rect x="1011.4" y="436.5" width="15.9" height="11.8" fill="#1b8ce3"/>
<rect x="1011.4" y="447.8" width="15.9" height="11.8" fill="#1a8be2"/>
<rect x="1026.6" y="436.5" width="15.9" height="11.8" fill="#1eb0e6"/>
<rect x="1026.6" y="447.8" width="15.9" height="11.8" fill="#1eafe5"/>
<rect x="1041.9" y="436.5" width="15.9" height="11.8" fill="#21b3e9"/>
<rect x="1041.9" y="447.8" width="15.9" height="11.8" fill="#21b3e9"/>
<rect x="1057.2" y="436.5" width="15.2" height="11.8" fill="#25d8ed"/>
<rect x="1057.2" y="447.8" width="15.2" height="11.8" fill="#24d7ec"/>
<rect x="1071.8" y="436.5" width="15.2" height="11.8" fill="#28dbf0"/>
<rect x="1071.8" y="447.8" width="15.2" height="11.8" fill="#27daef"/>
<rect x="1086.5" y="436.5" width="14.6" height="11.8" fill="#2bbdf3"/>
<rect x="1086.5" y="447.8" width="14.6" height="11.8" fill="#2abcf2"/>
<rect x="1100.5" y="436.5" width="14.6" height="11.8" fill="#2dc0f5"/>
<rect x="1100.5" y="447.8" width="14.6" height="11.8" fill="#2cbff4"/>
<rect x="1114.5" y="436.5" width="15.2" height="11.8" fill="#30e3f8"/>
<rect x="1114.5" y="447.8" width="15.2" height="11.8" fill="#2fe2f7"/>
<rect x="1129.2" y="436.5" width="15.2" height="11.8" fill="#32e5fa"/>
<rect x="1129.2" y="447.8" width="15.2" height="11.8" fill="#31e4f9"/>
<rect x="1143.8" y="436.5" width="15.2" height="11.8" fill="#34c6fc"/>
<rect x="1143.8" y="447.8" width="15.2" height="11.8" fill="#33c5fb"/>
<rect x="1158.5" y="436.5" width="15.2" height="11.8" fill="#35c7fd"/>
<rect x="1158.5" y="447.8" width="15.2" height="11.8" fill="#34c6fc"/>
<rect x="1173.1" y="436.5" width="14.0" height="11.8" fill="#36c8fe"/>
<rect x="1173.1" y="447.8" width="14.0" height="11.8" fill="#35c7fd"/>
<rect x="1186.6" y="436.5" width="14.0" height="11.8" fill="#37c9ff"/>
<rect x="1186.6" y="447.8" width="14.0" height="11.8" fill="#35c8fe"/>
<rect x="28.0" y="459.0" width="27.9" height="22.6" fill="#0070c6"/>
<rect x="55.3" y="459.0" width="28.2" height="22.6" fill="#0070c6"/>
<rect x="82.9" y="459.0" width="28.7" height="22.6" fill="#004fc6"/>
<rect x="111.0" y="459.0" width="29.9" height="22.6" fill="#004fc6"/>
<rect x="140.3" y="459.0" width="29.9" height="22.6" fill="#0070c6"/>
<rect x="169.6" y="459.0" width="31.1" height="22.6" fill="#0070c6"/>
<rect x="200.1" y="459.0" width="7.9" height="22.6" fill="#00b1c6"/>
<rect x="207.5" y="459.0" width="23.8" height="22.6" fill="#004fc6"/>
<rect x="230.7" y="459.0" width="32.3" height="22.6" fill="#004fc6"/>
<rect x="262.4" y="459.0" width="38.4" height="22.6" fill="#00b1c6"/>
<rect x="300.2" y="459.0" width="40.9" height="22.6" fill="#002fc6"/>
<rect x="340.5" y="459.0" width="37.2" height="22.6" fill="#00b1c6"/>
<rect x="377.2" y="459.0" width="33.6" height="22.6" fill="#002fc6"/>
<rect x="410.1" y="459.0" width="31.1" height="22.6" fill="#002fc6"/>
<rect x="440.6" y="459.0" width="31.1" height="22.6" fill="#0070c6"/>
<rect x="471.2" y="459.0" width="29.9" height="22.6" fill="#0070c6"/>
<rect x="500.5" y="459.0" width="28.7" height="22.6" fill="#000ec6"/>
<rect x="528.5" y="459.0" width="29.9" height="22.6" fill="#000ec6"/>
<rect x="557.8" y="459.0" width="29.9" height="22.6" fill="#000ec6"/>
<rect x="587.1" y="459.0" width="27.5" height="22.6" fill="#000ec6"/>
<rect x="614.0" y="459.0" width="27.9" height="22.6" fill="#000ec6"/>
<rect x="641.3" y="459.0" width="28.2" height="22.6" fill="#000ec6"/>
<rect x="668.9" y="459.0" width="28.7" height="22.6" fill="#002fc6"/>
<rect x="697.0" y="459.0" width="29.9" height="22.6" fill="#002fc6"/>
<rect x="726.3" y="459.0" width="29.9" height="22.6" fill="#010fc7"/>
<rect x="755.6" y="459.0" width="31.1" height="22.6" fill="#010fc7"/>
<rect x="786.1" y="459.0" width="7.9" height="11.6" fill="#0130c8"/>
<rect x="786.1" y="470.0" width="7.9" height="11.6" fill="#0130c8"/>
<rect x="793.5" y="459.0" width="12.2" height="11.6" fill="#0210c8"/>
<rect x="793.5" y="470.0" width="12.2" height="11.6" fill="#0210c8"/>
<rect x="805.1" y="459.0" width="12.2" height="11.6" fill="#0210c9"/>
<rect x="805.1" y="470.0" width="12.2" height="11.6" fill="#0210c9"/>
<rect x="816.7" y="459.0" width="16.5" height="11.6" fill="#0231c9"/>
<rect x="816.7" y="470.0" width="16.5" height="11.6" fill="#0231c9"/>
<rect x="832.5" y="459.0" width="16.5" height="11.6" fill="#0332ca"/>
<rect x="832.5" y="470.0" width="16.5" height="11.6" fill="#0332ca"/>
<rect x="848.4" y="459.0" width="13.2" height="11.6" fill="#0433cb"/>
<rect x="848.4" y="470.0" width="13.2" height="11.6" fill="#0433cb"/>
<rect x="861.0" y="459.0" width="13.2" height="11.6" fill="#0534cc"/>
<rect x="861.0" y="470.0" width="13.2" height="11.6" fill="#0534cc"/>
<rect x="873.6" y="459.0" width="13.2" height="11.6" fill="#0635cd"/>
<rect x="873.6" y="470.0" width="13.2" height="11.6" fill="#0535cc"/>
<rect x="886.2" y="459.0" width="14.0" height="11.6" fill="#0757ce"/>
<rect x="886.2" y="470.0" width="14.0" height="11.6" fill="#0756ce"/>
<rect x="899.7" y="459.0" width="14.0" height="11.6" fill="#0858cf"/>
<rect x="899.7" y="470.0" width="14.0" height="11.6" fill="#0858cf"/>
<rect x="913.1" y="459.0" width="14.0" height="11.6" fill="#0a59d1"/>
<rect x="913.1" y="470.0" width="14.0" height="11.6" fill="#0959d0"/>
<rect x="926.5" y="459.0" width="12.8" height="11.6" fill="#0b7cd2"/>
<rect x="926.5" y="470.0" width="12.8" height="11.6" fill="#0b7bd2"/>
<rect x="938.7" y="459.0" width="12.8" height="11.6" fill="#0d7dd4"/>
<rect x="938.7" y="470.0" width="12.8" height="11.6" fill="#0c7dd4"/>
<rect x="950.9" y="459.0" width="12.8" height="11.6" fill="#0f7fd6"/>
<rect x="950.9" y="470.0" width="12.8" height="11.6" fill="#0e7fd5"/>
<rect x="963.2" y="459.0" width="17.1" height="11.6" fill="#1182d8"/>
<rect x="963.2" y="470.0" width="17.1" height="11.6" fill="#1081d8"/>
<rect x="979.6" y="459.0" width="17.1" height="11.6" fill="#1485db"/>
<rect x="979.6" y="470.0" width="17.1" height="11.6" fill="#1384db"/>
<rect x="996.1" y="459.0" width="15.9" height="11.6" fill="#1788de"/>
<rect x="996.1" y="470.0" width="15.9" height="11.6" fill="#1687de"/>
<rect x="1011.4" y="459.0" width="15.9" height="11.6" fill="#1a8be1"/>
<rect x="1011.4" y="470.0" width="15.9" height="11.6" fill="#198ae1"/>
<rect x="1026.6" y="459.0" width="15.9" height="11.6" fill="#1d8ee4"/>
<rect x="1026.6" y="470.0" width="15.9" height="11.6" fill="#1c8de4"/>
<rect x="1041.9" y="459.0" width="15.9" height="11.6" fill="#2091e8"/>
<rect x="1041.9" y="470.0" width="15.9" height="11.6" fill="#1f90e7"/>
<rect x="1057.2" y="459.0" width="15.2" height="11.6" fill="#2394eb"/>
<rect x="1057.2" y="470.0" width="15.2" height="11.6" fill="#2293ea"/>
<rect x="1071.8" y="459.0" width="15.2" height="11.6" fill="#2697ee"/>
<rect x="1071.8" y="470.0" width="15.2" height="11.6" fill="#2596ed"/>
<rect x="1086.5" y="459.0" width="14.6" height="11.6" fill="#29dcf1"/>
<rect x="1086.5" y="470.0" width="14.6" height="11.6" fill="#27daef"/>
<rect x="1100.5" y="459.0" width="14.6" height="11.6" fill="#2bdef3"/>
<rect x="1100.5" y="470.0" width="14.6" height="11.6" fill="#2addf2"/>
<rect x="1114.5" y="459.0" width="15.2" height="11.6" fill="#2ec0f6"/>
<rect x="1114.5" y="470.0" width="15.2" height="11.6" fill="#2cbef4"/>
<rect x="1129.2" y="459.0" width="15.2" height="11.6" fill="#30c2f8"/>
<rect x="1129.2" y="470.0" width="15.2" height="11.6" fill="#2ec0f6"/>
<rect x="1143.8" y="459.0" width="15.2" height="11.6" fill="#31c4fa"/>
<rect x="1143.8" y="470.0" width="15.2" height="11.6" fill="#30c2f8"/>
<rect x="1158.5" y="459.0" width="15.2" height="11.6" fill="#33c5fb"/>
<rect x="1158.5" y="470.0" width="15.2" height="11.6" fill="#31c3f9"/>
<rect x="1173.1" y="459.0" width="14.0" height="11.6" fill="#34a5fc"/>
<rect x="1173.1" y="470.0" width="14.0" height="11.6" fill="#32a3fa"/>
<rect x="1186.6" y="459.0" width="14.0" height="11.6" fill="#34a5fc"/>
<rect x="1186.6" y="470.0" width="14.0" height="11.6" fill="#32a4fb"/>
<rect x="28.0" y="481.0" width="27.9" height="23.6" fill="#004fc6"/>
<rect x="55.3" y="481.0" width="28.2" height="23.6" fill="#004fc6"/>
<rect x="82.9" y="481.0" width="28.7" height="23.6" fill="#004fc6"/>
<rect x="111.0" y="481.0" width="29.9" height="23.6" fill="#004fc6"/>
<rect x="140.3" y="481.0" width="29.9" height="23.6" fill="#0070c6"/>
<rect x="169.6" y="481.0" width="31.1" height="23.6" fill="#0070c6"/>
<rect x="200.1" y="481.0" width="7.9" height="23.6" fill="#00b1c6"/>
<rect x="207.5" y="481.0" width="23.8" height="23.6" fill="#004fc6"/>
<rect x="230.7" y="481.0" width="32.3" height="23.6" fill="#004fc6"/>
<rect x="262.4" y="481.0" width="38.4" height="23.6" fill="#00b1c6"/>
<rect x="300.2" y="481.0" width="40.9" height="23.6" fill="#002fc6"/>
<rect x="340.5" y="481.0" width="37.2" height="23.6" fill="#00b1c6"/>
<rect x="377.2" y="481.0" width="33.6" height="23.6" fill="#002fc6"/>
<rect x="410.1" y="481.0" width="31.1" height="23.6" fill="#002fc6"/>
<rect x="440.6" y="481.0" width="31.1" height="23.6" fill="#0070c6"/>
<rect x="471.2" y="481.0" width="29.9" height="23.6" fill="#0070c6"/>
<rect x="500.5" y="481.0" width="28.7" height="23.6" fill="#000ec6"/>
<rect x="528.5" y="481.0" width="29.9" height="23.6" fill="#000ec6"/>
<rect x="557.8" y="481.0" width="29.9" height="23.6" fill="#000ec6"/>
<rect x="587.1" y="481.0" width="27.5" height="23.6" fill="#002fc6"/>
<rect x="614.0" y="481.0" width="27.9" height="23.6" fill="#004fc6"/>
<rect x="641.3" y="481.0" width="28.2" height="23.6" fill="#002fc6"/>
<rect x="668.9" y="481.0" width="28.7" height="23.6" fill="#000ec6"/>
<rect x="697.0" y="481.0" width="29.9" height="23.6" fill="#002fc6"/>
<rect x="726.3" y="481.0" width="29.9" height="23.6" fill="#000fc7"/>
<rect x="755.6" y="481.0" width="31.1" height="23.6" fill="#010fc7"/>
<rect x="786.1" y="481.0" width="7.9" height="12.1" fill="#0110c8"/>
<rect x="786.1" y="492.5" width="7.9" height="12.1" fill="#010fc8"/>
<rect x="793.5" y="481.0" width="12.2" height="12.1" fill="#0210c8"/>
<rect x="793.5" y="492.5" width="12.2" height="12.1" fill="#0110c8"/>
<rect x="805.1" y="481.0" width="12.2" height="12.1" fill="#0210c8"/>
<rect x="805.1" y="492.5" width="12.2" height="12.1" fill="#0210c8"/>
<rect x="816.7" y="481.0" width="16.5" height="12.1" fill="#0211c9"/>
<rect x="816.7" y="492.5" width="16.5" height="12.1" fill="#0210c9"/>
<rect x="832.5" y="481.0" width="16.5" height="12.1" fill="#0311ca"/>
<rect x="832.5" y="492.5" width="16.5" height="12.1" fill="#0311ca"/>
<rect x="848.4" y="481.0" width="13.2" height="12.1" fill="#04cbbf"/>
<rect x="848.4" y="492.5" width="13.2" height="12.1" fill="#04cabe"/>
<rect x="861.0" y="481.0" width="13.2" height="12.1" fill="#04cbbf"/>
<rect x="861.0" y="492.5" width="13.2" height="12.1" fill="#04cbbf"/>
<rect x="873.6" y="481.0" width="13.2" height="12.1" fill="#05ccc0"/>
<rect x="873.6" y="492.5" width="13.2" height="12.1" fill="#05ccc0"/>
<rect x="886.2" y="481.0" width="14.0" height="12.1" fill="#06cdc1"/>
<rect x="886.2" y="492.5" width="14.0" height="12.1" fill="#06cdc1"/>
<rect x="899.7" y="481.0" width="14.0" height="12.1" fill="#08cfc3"/>
<rect x="899.7" y="492.5" width="14.0" height="12.1" fill="#07cec2"/>
<rect x="913.1" y="481.0" width="14.0" height="12.1" fill="#09d0c4"/>
<rect x="913.1" y="492.5" width="14.0" height="12.1" fill="#09d0c4"/>
<rect x="926.5" y="481.0" width="12.8" height="12.1" fill="#0ad2c6"/>
<rect x="926.5" y="492.5" width="12.8" height="12.1" fill="#0ad1c5"/>
<rect x="938.7" y="481.0" width="12.8" height="12.1" fill="#0cd3c7"/>
<rect x="938.7" y="492.5" width="12.8" height="12.1" fill="#0bd3c7"/>
<rect x="950.9" y="481.0" width="12.8" height="12.1" fill="#0ed5c9"/>
<rect x="950.9" y="492.5" width="12.8" height="12.1" fill="#0dd4c8"/>
<rect x="963.2" y="481.0" width="17.1" height="12.1" fill="#10d7cb"/>
<rect x="963.2" y="492.5" width="17.1" height="12.1" fill="#0fd7cb"/>
<rect x="979.6" y="481.0" width="17.1" height="12.1" fill="#12dace"/>
<rect x="979.6" y="492.5" width="17.1" height="12.1" fill="#12d9cd"/>
<rect x="996.1" y="481.0" width="15.9" height="12.1" fill="#15c8dd"/>
<rect x="996.1" y="492.5" width="15.9" height="12.1" fill="#14c7dc"/>
<rect x="1011.4" y="481.0" width="15.9" height="12.1" fill="#18cbe0"/>
<rect x="1011.4" y="492.5" width="15.9" height="12.1" fill="#17cadf"/>
<rect x="1026.6" y="481.0" width="15.9" height="12.1" fill="#1bcee3"/>
<rect x="1026.6" y="492.5" width="15.9" height="12.1" fill="#1acde1"/>
<rect x="1041.9" y="481.0" width="15.9" height="12.1" fill="#1ed1e6"/>
<rect x="1041.9" y="492.5" width="15.9" height="12.1" fill="#1dcfe4"/>
<rect x="1057.2" y="481.0" width="15.2" height="12.1" fill="#21b3e9"/>
<rect x="1057.2" y="492.5" width="15.2" height="12.1" fill="#1fb1e7"/>
<rect x="1071.8" y="481.0" width="15.2" height="12.1" fill="#23b5eb"/>
<rect x="1071.8" y="492.5" width="15.2" height="12.1" fill="#22b4ea"/>
<rect x="1086.5" y="481.0" width="14.6" height="12.1" fill="#26b8ee"/>
<rect x="1086.5" y="492.5" width="14.6" height="12.1" fill="#24b7ec"/>
<rect x="1100.5" y="481.0" width="14.6" height="12.1" fill="#28bbf0"/>
<rect x="1100.5" y="492.5" width="14.6" height="12.1" fill="#27b9ef"/>
<rect x="1114.5" y="481.0" width="15.2" height="12.1" fill="#2bdef3"/>
<rect x="1114.5" y="492.5" width="15.2" height="12.1" fill="#29dcf1"/>
<rect x="1129.2" y="481.0" width="15.2" height="12.1" fill="#2de0f5"/>
<rect x="1129.2" y="492.5" width="15.2" height="12.1" fill="#2bdef3"/>
<rect x="1143.8" y="481.0" width="15.2" height="12.1" fill="#2e7ef6"/>
<rect x="1143.8" y="492.5" width="15.2" height="12.1" fill="#2c7df4"/>
<rect x="1158.5" y="481.0" width="15.2" height="12.1" fill="#2f80f8"/>
<rect x="1158.5" y="492.5" width="15.2" height="12.1" fill="#2d7ef6"/>
<rect x="1173.1" y="481.0" width="14.0" height="12.1" fill="#3080f8"/>
<rect x="1173.1" y="492.5" width="14.0" height="12.1" fill="#2e7ef6"/>
<rect x="1186.6" y="481.0" width="14.0" height="12.1" fill="#3181f9"/>
<rect x="1186.6" y="492.5" width="14.0" height="12.1" fill="#2f7ff7"/>
<rect x="28.0" y="504.0" width="27.9" height="23.1" fill="#004fc6"/>
<rect x="55.3" y="504.0" width="28.2" height="23.1" fill="#004fc6"/>
<rect x="82.9" y="504.0" width="28.7" height="23.1" fill="#004fc6"/>
<rect x="111.0" y="504.0" width="29.9" height="23.1" fill="#004fc6"/>
<rect x="140.3" y="504.0" width="29.9" height="23.1" fill="#0070c6"/>
<rect x="169.6" y="504.0" width="31.1" height="23.1" fill="#0070c6"/>
<rect x="200.1" y="504.0" width="7.9" height="23.1" fill="#00b1c6"/>
<rect x="207.5" y="504.0" width="23.8" height="23.1" fill="#004fc6"/>
<rect x="230.7" y="504.0" width="32.3" height="23.1" fill="#004fc6"/>
<rect x="262.4" y="504.0" width="38.4" height="23.1" fill="#0090c6"/>
<rect x="300.2" y="504.0" width="40.9" height="23.1" fill="#004fc6"/>
<rect x="340.5" y="504.0" width="37.2" height="23.1" fill="#002fc6"/>
<rect x="377.2" y="504.0" width="33.6" height="23.1" fill="#004fc6"/>
<rect x="410.1" y="504.0" width="31.1" height="23.1" fill="#002fc6"/>
<rect x="440.6" y="504.0" width="31.1" height="23.1" fill="#002fc6"/>
<rect x="471.2" y="504.0" width="29.9" height="23.1" fill="#002fc6"/>
<rect x="500.5" y="504.0" width="28.7" height="23.1" fill="#002fc6"/>
<rect x="528.5" y="504.0" width="29.9" height="23.1" fill="#004fc6"/>
<rect x="557.8" y="504.0" width="29.9" height="23.1" fill="#002fc6"/>
<rect x="587.1" y="504.0" width="27.5" height="23.1" fill="#000ec6"/>
<rect x="614.0" y="504.0" width="27.9" height="23.1" fill="#000ec6"/>
<rect x="641.3" y="504.0" width="28.2" height="23.1" fill="#000ec6"/>
<rect x="668.9" y="504.0" width="28.7" height="23.1" fill="#000ec6"/>
<rect x="697.0" y="504.0" width="29.9" height="23.1" fill="#000ec6"/>
<rect x="726.3" y="504.0" width="29.9" height="23.1" fill="#00c77a"/>
<rect x="755.6" y="504.0" width="31.1" height="23.1" fill="#01c79b"/>
<rect x="786.1" y="504.0" width="7.9" height="11.8" fill="#01c89b"/>
<rect x="786.1" y="515.2" width="7.9" height="11.8" fill="#01c89b"/>
<rect x="793.5" y="504.0" width="12.2" height="11.8" fill="#01c89b"/>
<rect x="793.5" y="515.2" width="12.2" height="11.8" fill="#01c89b"/>
<rect x="805.1" y="504.0" width="12.2" height="11.8" fill="#02c89c"/>
<rect x="805.1" y="515.2" width="12.2" height="11.8" fill="#02c89c"/>
<rect x="816.7" y="504.0" width="16.5" height="11.8" fill="#02c97b"/>
<rect x="816.7" y="515.2" width="16.5" height="11.8" fill="#02c97b"/>
<rect x="832.5" y="504.0" width="16.5" height="11.8" fill="#03c97c"/>
<rect x="832.5" y="515.2" width="16.5" height="11.8" fill="#03c97c"/>
<rect x="848.4" y="504.0" width="13.2" height="11.8" fill="#03ca9e"/>
<rect x="848.4" y="515.2" width="13.2" height="11.8" fill="#03ca9d"/>
<rect x="861.0" y="504.0" width="13.2" height="11.8" fill="#04cb9e"/>
<rect x="861.0" y="515.2" width="13.2" height="11.8" fill="#04cb9e"/>
<rect x="873.6" y="504.0" width="13.2" height="11.8" fill="#05cc9f"/>
<rect x="873.6" y="515.2" width="13.2" height="11.8" fill="#05cc9f"/>
<rect x="886.2" y="504.0" width="14.0" height="11.8" fill="#06cdc1"/>
<rect x="886.2" y="515.2" width="14.0" height="11.8" fill="#05cdc1"/>
<rect x="899.7" y="504.0" width="14.0" height="11.8" fill="#07cec2"/>
<rect x="899.7" y="515.2" width="14.0" height="11.8" fill="#07cec2"/>
<rect x="913.1" y="504.0" width="14.0" height="11.8" fill="#08cfc3"/>
<rect x="913.1" y="515.2" width="14.0" height="11.8" fill="#08cfc3"/>
<rect x="926.5" y="504.0" width="12.8" height="11.8" fill="#09bcd1"/>
<rect x="926.5" y="515.2" width="12.8" height="11.8" fill="#09bbd0"/>
<rect x="938.7" y="504.0" width="12.8" height="11.8" fill="#0bbdd2"/>
<rect x="938.7" y="515.2" width="12.8" height="11.8" fill="#0abdd2"/>
<rect x="950.9" y="504.0" width="12.8" height="11.8" fill="#0cbfd4"/>
<rect x="950.9" y="515.2" width="12.8" height="11.8" fill="#0cbed3"/>
<rect x="963.2" y="504.0" width="17.1" height="11.8" fill="#0ec1d6"/>
<rect x="963.2" y="515.2" width="17.1" height="11.8" fill="#0ec0d5"/>
<rect x="979.6" y="504.0" width="17.1" height="11.8" fill="#11c3d8"/>
<rect x="979.6" y="515.2" width="17.1" height="11.8" fill="#10c3d8"/>
<rect x="996.1" y="504.0" width="15.9" height="11.8" fill="#13a5db"/>
<rect x="996.1" y="515.2" width="15.9" height="11.8" fill="#12a4da"/>
<rect x="1011.4" y="504.0" width="15.9" height="11.8" fill="#16a8de"/>
<rect x="1011.4" y="515.2" width="15.9" height="11.8" fill="#15a7dd"/>
<rect x="1026.6" y="504.0" width="15.9" height="11.8" fill="#19cbe0"/>
<rect x="1026.6" y="515.2" width="15.9" height="11.8" fill="#17cadf"/>
<rect x="1041.9" y="504.0" width="15.9" height="11.8" fill="#1bcee3"/>
<rect x="1041.9" y="515.2" width="15.9" height="11.8" fill="#1acde2"/>
<rect x="1057.2" y="504.0" width="15.2" height="11.8" fill="#1ed1e6"/>
<rect x="1057.2" y="515.2" width="15.2" height="11.8" fill="#1ccfe4"/>
<rect x="1071.8" y="504.0" width="15.2" height="11.8" fill="#20d3e8"/>
<rect x="1071.8" y="515.2" width="15.2" height="11.8" fill="#1fd2e7"/>
<rect x="1086.5" y="504.0" width="14.6" height="11.8" fill="#2394eb"/>
<rect x="1086.5" y="515.2" width="14.6" height="11.8" fill="#2192e9"/>
<rect x="1100.5" y="504.0" width="14.6" height="11.8" fill="#2596ed"/>
<rect x="1100.5" y="515.2" width="14.6" height="11.8" fill="#2394eb"/>
<rect x="1114.5" y="504.0" width="15.2" height="11.8" fill="#2798ef"/>
<rect x="1114.5" y="515.2" width="15.2" height="11.8" fill="#2596ed"/>
<rect x="1129.2" y="504.0" width="15.2" height="11.8" fill="#299af1"/>
<rect x="1129.2" y="515.2" width="15.2" height="11.8" fill="#2798ef"/>
<rect x="1143.8" y="504.0" width="15.2" height="11.8" fill="#2a7bf2"/>
<rect x="1143.8" y="515.2" width="15.2" height="11.8" fill="#2878f0"/>
<rect x="1158.5" y="504.0" width="15.2" height="11.8" fill="#2b7cf4"/>
<rect x="1158.5" y="515.2" width="15.2" height="11.8" fill="#2979f1"/>
<rect x="1173.1" y="504.0" width="14.0" height="11.8" fill="#2c7cf4"/>
<rect x="1173.1" y="515.2" width="14.0" height="11.8" fill="#2a7af2"/>
<rect x="1186.6" y="504.0" width="14.0" height="11.8" fill="#2c7df5"/>
<rect x="1186.6" y="515.2" width="14.0" height="11.8" fill="#2a7af2"/>
<rect x="28.0" y="526.5" width="27.9" height="23.1" fill="#002fc6"/>
<rect x="55.3" y="526.5" width="28.2" height="23.1" fill="#002fc6"/>
<rect x="82.9" y="526.5" width="28.7" height="23.1" fill="#004fc6"/>
<rect x="111.0" y="526.5" width="29.9" height="23.1" fill="#004fc6"/>
<rect x="140.3" y="526.5" width="29.9" height="23.1" fill="#0070c6"/>
<rect x="169.6" y="526.5" width="31.1" height="23.1" fill="#0070c6"/>
<rect x="200.1" y="526.5" width="7.9" height="23.1" fill="#00b1c6"/>
<rect x="207.5" y="526.5" width="23.8" height="23.1" fill="#004fc6"/>
<rect x="230.7" y="526.5" width="32.3" height="23.1" fill="#0070c6"/>
<rect x="262.4" y="526.5" width="38.4" height="23.1" fill="#002fc6"/>
<rect x="300.2" y="526.5" width="40.9" height="23.1" fill="#002fc6"/>
<rect x="340.5" y="526.5" width="37.2" height="23.1" fill="#002fc6"/>
<rect x="377.2" y="526.5" width="33.6" height="23.1" fill="#004fc6"/>
<rect x="410.1" y="526.5" width="31.1" height="23.1" fill="#000ec6"/>
<rect x="440.6" y="526.5" width="31.1" height="23.1" fill="#002fc6"/>
<rect x="471.2" y="526.5" width="29.9" height="23.1" fill="#002fc6"/>
<rect x="500.5" y="526.5" width="28.7" height="23.1" fill="#002fc6"/>
<rect x="528.5" y="526.5" width="29.9" height="23.1" fill="#002fc6"/>
<rect x="557.8" y="526.5" width="29.9" height="23.1" fill="#002fc6"/>
<rect x="587.1" y="526.5" width="27.5" height="23.1" fill="#002fc6"/>
<rect x="614.0" y="526.5" width="27.9" height="23.1" fill="#00c658"/>
<rect x="641.3" y="526.5" width="28.2" height="23.1" fill="#00c679"/>
<rect x="668.9" y="526.5" width="28.7" height="23.1" fill="#00c679"/>
<rect x="697.0" y="526.5" width="29.9" height="23.1" fill="#00c679"/>
<rect x="726.3" y="526.5" width="29.9" height="23.1" fill="#00c79a"/>
<rect x="755.6" y="526.5" width="31.1" height="23.1" fill="#01c79b"/>
<rect x="786.1" y="526.5" width="7.9" height="11.8" fill="#01c89b"/>
<rect x="786.1" y="537.8" width="7.9" height="11.8" fill="#01c89b"/>
<rect x="793.5" y="526.5" width="12.2" height="11.8" fill="#01c89b"/>
<rect x="793.5" y="537.8" width="12.2" height="11.8" fill="#01c89b"/>
<rect x="805.1" y="526.5" width="12.2" height="11.8" fill="#02c89c"/>
<rect x="805.1" y="537.8" width="12.2" height="11.8" fill="#01c89b"/>
<rect x="816.7" y="526.5" width="16.5" height="11.8" fill="#02c99c"/>
<rect x="816.7" y="537.8" width="16.5" height="11.8" fill="#02c89c"/>
<rect x="832.5" y="526.5" width="16.5" height="11.8" fill="#02c99d"/>
<rect x="832.5" y="537.8" width="16.5" height="11.8" fill="#02c99c"/>
<rect x="848.4" y="526.5" width="13.2" height="11.8" fill="#03cabe"/>
<rect x="848.4" y="537.8" width="13.2" height="11.8" fill="#03cabe"/>
<rect x="861.0" y="526.5" width="13.2" height="11.8" fill="#04cbbf"/>
<rect x="861.0" y="537.8" width="13.2" height="11.8" fill="#03cabe"/>
<rect x="873.6" y="526.5" width="13.2" height="11.8" fill="#04cbbf"/>
<rect x="873.6" y="537.8" width="13.2" height="11.8" fill="#04cbbf"/>
<rect x="886.2" y="526.5" width="14.0" height="11.8" fill="#05b7cc"/>
<rect x="886.2" y="537.8" width="14.0" height="11.8" fill="#05b7cc"/>
<rect x="899.7" y="526.5" width="14.0" height="11.8" fill="#06b8cd"/>
<rect x="899.7" y="537.8" width="14.0" height="11.8" fill="#06b8cd"/>
<rect x="913.1" y="526.5" width="14.0" height="11.8" fill="#07bace"/>
<rect x="913.1" y="537.8" width="14.0" height="11.8" fill="#07b9ce"/>
<rect x="926.5" y="526.5" width="12.8" height="11.8" fill="#09d0c4"/>
<rect x="926.5" y="537.8" width="12.8" height="11.8" fill="#08cfc3"/>
<rect x="938.7" y="526.5" width="12.8" height="11.8" fill="#0ad1c5"/>
<rect x="938.7" y="537.8" width="12.8" height="11.8" fill="#09d1c5"/>
<rect x="950.9" y="526.5" width="12.8" height="11.8" fill="#0bd3c7"/>
<rect x="950.9" y="537.8" width="12.8" height="11.8" fill="#0ad2c6"/>
<rect x="963.2" y="526.5" width="17.1" height="11.8" fill="#0d7ed4"/>
<rect x="963.2" y="537.8" width="17.1" height="11.8" fill="#0c7dd4"/>
<rect x="979.6" y="526.5" width="17.1" height="11.8" fill="#0f80d7"/>
<rect x="979.6" y="537.8" width="17.1" height="11.8" fill="#0e7fd6"/>
<rect x="996.1" y="526.5" width="15.9" height="11.8" fill="#1182d9"/>
<rect x="996.1" y="537.8" width="15.9" height="11.8" fill="#1081d8"/>
<rect x="1011.4" y="526.5" width="15.9" height="11.8" fill="#1485db"/>
<rect x="1011.4" y="537.8" width="15.9" height="11.8" fill="#1383da"/>
<rect x="1026.6" y="526.5" width="15.9" height="11.8" fill="#16a8de"/>
<rect x="1026.6" y="537.8" width="15.9" height="11.8" fill="#15a7dd"/>
<rect x="1041.9" y="526.5" width="15.9" height="11.8" fill="#18aae0"/>
<rect x="1041.9" y="537.8" width="15.9" height="11.8" fill="#17a9df"/>
<rect x="1057.2" y="526.5" width="15.2" height="11.8" fill="#1bade3"/>
<rect x="1057.2" y="537.8" width="15.2" height="11.8" fill="#19abe1"/>
<rect x="1071.8" y="526.5" width="15.2" height="11.8" fill="#1dafe5"/>
<rect x="1071.8" y="537.8" width="15.2" height="11.8" fill="#1bade3"/>
<rect x="1086.5" y="526.5" width="14.6" height="11.8" fill="#1f90e7"/>
<rect x="1086.5" y="537.8" width="14.6" height="11.8" fill="#1d8fe5"/>
<rect x="1100.5" y="526.5" width="14.6" height="11.8" fill="#2192e9"/>
<rect x="1100.5" y="537.8" width="14.6" height="11.8" fill="#1f90e7"/>
<rect x="1114.5" y="526.5" width="15.2" height="11.8" fill="#2394eb"/>
<rect x="1114.5" y="537.8" width="15.2" height="11.8" fill="#2192e9"/>
<rect x="1129.2" y="526.5" width="15.2" height="11.8" fill="#2596ed"/>
<rect x="1129.2" y="537.8" width="15.2" height="11.8" fill="#2294eb"/>
<rect x="1143.8" y="526.5" width="15.2" height="11.8" fill="#2676ee"/>
<rect x="1143.8" y="537.8" width="15.2" height="11.8" fill="#2474ec"/>
<rect x="1158.5" y="526.5" width="15.2" height="11.8" fill="#2777ef"/>
<rect x="1158.5" y="537.8" width="15.2" height="11.8" fill="#2575ed"/>
<rect x="1173.1" y="526.5" width="14.0" height="11.8" fill="#2878f0"/>
<rect x="1173.1" y="537.8" width="14.0" height="11.8" fill="#2576ed"/>
<rect x="1186.6" y="526.5" width="14.0" height="11.8" fill="#2878f0"/>
<rect x="1186.6" y="537.8" width="14.0" height="11.8" fill="#2676ee"/>
<rect x="28.0" y="549.0" width="27.9" height="23.1" fill="#002fc6"/>
<rect x="55.3" y="549.0" width="28.2" height="23.1" fill="#002fc6"/>
<rect x="82.9" y="549.0" width="28.7" height="23.1" fill="#004fc6"/>
<rect x="111.0" y="549.0" width="29.9" height="23.1" fill="#0070c6"/>
<rect x="140.3" y="549.0" width="29.9" height="23.1" fill="#004fc6"/>
<rect x="169.6" y="549.0" width="31.1" height="23.1" fill="#004fc6"/>
<rect x="200.1" y="549.0" width="7.9" height="23.1" fill="#004fc6"/>
<rect x="207.5" y="549.0" width="23.8" height="23.1" fill="#002fc6"/>
<rect x="230.7" y="549.0" width="32.3" height="23.1" fill="#002fc6"/>
<rect x="262.4" y="549.0" width="38.4" height="23.1" fill="#002fc6"/>
<rect x="300.2" y="549.0" width="40.9" height="23.1" fill="#002fc6"/>
<rect x="340.5" y="549.0" width="37.2" height="23.1" fill="#002fc6"/>
<rect x="377.2" y="549.0" width="33.6" height="23.1" fill="#002fc6"/>
<rect x="410.1" y="549.0" width="31.1" height="23.1" fill="#002fc6"/>
<rect x="440.6" y="549.0" width="31.1" height="23.1" fill="#002fc6"/>
<rect x="471.2" y="549.0" width="29.9" height="23.1" fill="#00c699"/>
<rect x="500.5" y="549.0" width="28.7" height="23.1" fill="#00c658"/>
<rect x="528.5" y="549.0" width="29.9" height="23.1" fill="#00c658"/>
<rect x="557.8" y="549.0" width="29.9" height="23.1" fill="#00c679"/>
<rect x="587.1" y="549.0" width="27.5" height="23.1" fill="#00c679"/>
<rect x="614.0" y="549.0" width="27.9" height="23.1" fill="#00c658"/>
<rect x="641.3" y="549.0" width="28.2" height="23.1" fill="#00c658"/>
<rect x="668.9" y="549.0" width="28.7" height="23.1" fill="#00c679"/>
<rect x="697.0" y="549.0" width="29.9" height="23.1" fill="#00c69a"/>
<rect x="726.3" y="549.0" width="29.9" height="23.1" fill="#00b2c7"/>
<rect x="755.6" y="549.0" width="31.1" height="23.1" fill="#0192c7"/>
<rect x="786.1" y="549.0" width="7.9" height="11.8" fill="#01c7bc"/>
<rect x="786.1" y="560.2" width="7.9" height="11.8" fill="#01c7bc"/>
<rect x="793.5" y="549.0" width="12.2" height="11.8" fill="#01c8bc"/>
<rect x="793.5" y="560.2" width="12.2" height="11.8" fill="#01c8bc"/>
<rect x="805.1" y="549.0" width="12.2" height="11.8" fill="#01c8bc"/>
<rect x="805.1" y="560.2" width="12.2" height="11.8" fill="#01c8bc"/>
<rect x="816.7" y="549.0" width="16.5" height="11.8" fill="#02c8bc"/>
<rect x="816.7" y="560.2" width="16.5" height="11.8" fill="#02c8bc"/>
<rect x="832.5" y="549.0" width="16.5" height="11.8" fill="#02c9bd"/>
<rect x="832.5" y="560.2" width="16.5" height="11.8" fill="#02c9bd"/>
<rect x="848.4" y="549.0" width="13.2" height="11.8" fill="#03cabe"/>
<rect x="848.4" y="560.2" width="13.2" height="11.8" fill="#02c9bd"/>
<rect x="861.0" y="549.0" width="13.2" height="11.8" fill="#03cabe"/>
<rect x="861.0" y="560.2" width="13.2" height="11.8" fill="#03cabe"/>
<rect x="873.6" y="549.0" width="13.2" height="11.8" fill="#04cbbf"/>
<rect x="873.6" y="560.2" width="13.2" height="11.8" fill="#04cbbf"/>
<rect x="886.2" y="549.0" width="14.0" height="11.8" fill="#0596cc"/>
<rect x="886.2" y="560.2" width="14.0" height="11.8" fill="#0496cb"/>
<rect x="899.7" y="549.0" width="14.0" height="11.8" fill="#0597cd"/>
<rect x="899.7" y="560.2" width="14.0" height="11.8" fill="#0597cc"/>
<rect x="913.1" y="549.0" width="14.0" height="11.8" fill="#0698ce"/>
<rect x="913.1" y="560.2" width="14.0" height="11.8" fill="#0698cd"/>
<rect x="926.5" y="549.0" width="12.8" height="11.8" fill="#08cfc3"/>
<rect x="926.5" y="560.2" width="12.8" height="11.8" fill="#07cec2"/>
<rect x="938.7" y="549.0" width="12.8" height="11.8" fill="#09d0c4"/>
<rect x="938.7" y="560.2" width="12.8" height="11.8" fill="#08cfc3"/>
<rect x="950.9" y="549.0" width="12.8" height="11.8" fill="#0ad1c5"/>
<rect x="950.9" y="560.2" width="12.8" height="11.8" fill="#09d1c5"/>
<rect x="963.2" y="549.0" width="17.1" height="11.8" fill="#0b7cd3"/>
<rect x="963.2" y="560.2" width="17.1" height="11.8" fill="#0b7bd2"/>
<rect x="979.6" y="549.0" width="17.1" height="11.8" fill="#0d7ed5"/>
<rect x="979.6" y="560.2" width="17.1" height="11.8" fill="#0c7dd4"/>
<rect x="996.1" y="549.0" width="15.9" height="11.8" fill="#0f80d7"/>
<rect x="996.1" y="560.2" width="15.9" height="11.8" fill="#0e7fd6"/>
<rect x="1011.4" y="549.0" width="15.9" height="11.8" fill="#1182d9"/>
<rect x="1011.4" y="560.2" width="15.9" height="11.8" fill="#1081d8"/>
<rect x="1026.6" y="549.0" width="15.9" height="11.8" fill="#13a5db"/>
<rect x="1026.6" y="560.2" width="15.9" height="11.8" fill="#12a4da"/>
<rect x="1041.9" y="549.0" width="15.9" height="11.8" fill="#16a8dd"/>
<rect x="1041.9" y="560.2" width="15.9" height="11.8" fill="#14a6dc"/>
<rect x="1057.2" y="549.0" width="15.2" height="11.8" fill="#18aae0"/>
<rect x="1057.2" y="560.2" width="15.2" height="11.8" fill="#16a8de"/>
<rect x="1071.8" y="549.0" width="15.2" height="11.8" fill="#1aace2"/>
<rect x="1071.8" y="560.2" width="15.2" height="11.8" fill="#18aae0"/>
<rect x="1086.5" y="549.0" width="14.6" height="11.8" fill="#1c6ce4"/>
<rect x="1086.5" y="560.2" width="14.6" height="11.8" fill="#1a6ae2"/>
<rect x="1100.5" y="549.0" width="14.6" height="11.8" fill="#1d6ee5"/>
<rect x="1100.5" y="560.2" width="14.6" height="11.8" fill="#1b6ce3"/>
<rect x="1114.5" y="549.0" width="15.2" height="11.8" fill="#1f6fe7"/>
<rect x="1114.5" y="560.2" width="15.2" height="11.8" fill="#1d6de5"/>
<rect x="1129.2" y="549.0" width="15.2" height="11.8" fill="#2071e8"/>
<rect x="1129.2" y="560.2" width="15.2" height="11.8" fill="#1e6ee6"/>
<rect x="1143.8" y="549.0" width="15.2" height="11.8" fill="#2172ea"/>
<rect x="1143.8" y="560.2" width="15.2" height="11.8" fill="#1f6fe7"/>
<rect x="1158.5" y="549.0" width="15.2" height="11.8" fill="#2273ea"/>
<rect x="1158.5" y="560.2" width="15.2" height="11.8" fill="#2070e8"/>
<rect x="1173.1" y="549.0" width="14.0" height="11.8" fill="#2373eb"/>
<rect x="1173.1" y="560.2" width="14.0" height="11.8" fill="#2171e9"/>
<rect x="1186.6" y="549.0" width="14.0" height="11.8" fill="#2373eb"/>
<rect x="1186.6" y="560.2" width="14.0" height="11.8" fill="#2171e9"/>
<rect x="28.0" y="571.5" width="27.9" height="23.1" fill="#0070c6"/>
<rect x="55.3" y="571.5" width="28.2" height="23.1" fill="#0070c6"/>
<rect x="82.9" y="571.5" width="28.7" height="23.1" fill="#0070c6"/>
<rect x="111.0" y="571.5" width="29.9" height="23.1" fill="#0070c6"/>
<rect x="140.3" y="571.5" width="29.9" height="23.1" fill="#004fc6"/>
<rect x="169.6" y="571.5" width="31.1" height="23.1" fill="#002fc6"/>
<rect x="200.1" y="571.5" width="7.9" height="23.1" fill="#002fc6"/>
<rect x="207.5" y="571.5" width="23.8" height="23.1" fill="#09c600"/>
<rect x="230.7" y="571.5" width="32.3" height="23.1" fill="#09c600"/>
<rect x="262.4" y="571.5" width="38.4" height="23.1" fill="#09c600"/>
<rect x="300.2" y="571.5" width="40.9" height="23.1" fill="#09c600"/>
<rect x="340.5" y="571.5" width="37.2" height="23.1" fill="#09c600"/>
<rect x="377.2" y="571.5" width="33.6" height="23.1" fill="#09c600"/>
<rect x="410.1" y="571.5" width="31.1" height="23.1" fill="#09c600"/>
<rect x="440.6" y="571.5" width="31.1" height="23.1" fill="#09c600"/>
<rect x="471.2" y="571.5" width="29.9" height="23.1" fill="#09c600"/>
<rect x="500.5" y="571.5" width="28.7" height="23.1" fill="#00c617"/>
<rect x="528.5" y="571.5" width="29.9" height="23.1" fill="#00c638"/>
<rect x="557.8" y="571.5" width="29.9" height="23.1" fill="#00c658"/>
<rect x="587.1" y="571.5" width="27.5" height="23.1" fill="#00c658"/>
<rect x="614.0" y="571.5" width="27.9" height="23.1" fill="#00c69a"/>
<rect x="641.3" y="571.5" width="28.2" height="23.1" fill="#00c6ba"/>
<rect x="668.9" y="571.5" width="28.7" height="23.1" fill="#00b1c6"/>
<rect x="697.0" y="571.5" width="29.9" height="23.1" fill="#00b2c6"/>
<rect x="726.3" y="571.5" width="29.9" height="23.1" fill="#0071c7"/>
<rect x="755.6" y="571.5" width="31.1" height="23.1" fill="#0171c7"/>
<rect x="786.1" y="571.5" width="7.9" height="11.8" fill="#01b2c7"/>
<rect x="786.1" y="582.8" width="7.9" height="11.8" fill="#01b2c7"/>
<rect x="793.5" y="571.5" width="12.2" height="11.8" fill="#01c8bc"/>
<rect x="793.5" y="582.8" width="12.2" height="11.8" fill="#01c7bc"/>
<rect x="805.1" y="571.5" width="12.2" height="11.8" fill="#01c8bc"/>
<rect x="805.1" y="582.8" width="12.2" height="11.8" fill="#01c8bc"/>
<rect x="816.7" y="571.5" width="16.5" height="11.8" fill="#01c8bc"/>
<rect x="816.7" y="582.8" width="16.5" height="11.8" fill="#01c8bc"/>
<rect x="832.5" y="571.5" width="16.5" height="11.8" fill="#02c9bd"/>
<rect x="832.5" y="582.8" width="16.5" height="11.8" fill="#02c8bd"/>
<rect x="848.4" y="571.5" width="13.2" height="11.8" fill="#02b4c9"/>
<rect x="848.4" y="582.8" width="13.2" height="11.8" fill="#02b4c9"/>
<rect x="861.0" y="571.5" width="13.2" height="11.8" fill="#03b5ca"/>
<rect x="861.0" y="582.8" width="13.2" height="11.8" fill="#03b5c9"/>
<rect x="873.6" y="571.5" width="13.2" height="11.8" fill="#03b5ca"/>
<rect x="873.6" y="582.8" width="13.2" height="11.8" fill="#03b5ca"/>
<rect x="886.2" y="571.5" width="14.0" height="11.8" fill="#0495cb"/>
<rect x="886.2" y="582.8" width="14.0" height="11.8" fill="#0495cb"/>
<rect x="899.7" y="571.5" width="14.0" height="11.8" fill="#0596cc"/>
<rect x="899.7" y="582.8" width="14.0" height="11.8" fill="#0496cb"/>
<rect x="913.1" y="571.5" width="14.0" height="11.8" fill="#0697cd"/>
<rect x="913.1" y="582.8" width="14.0" height="11.8" fill="#0597cc"/>
<rect x="926.5" y="571.5" width="12.8" height="11.8" fill="#0677ce"/>
<rect x="926.5" y="582.8" width="12.8" height="11.8" fill="#0677cd"/>
<rect x="938.7" y="571.5" width="12.8" height="11.8" fill="#0778cf"/>
<rect x="938.7" y="582.8" width="12.8" height="11.8" fill="#0778ce"/>
<rect x="950.9" y="571.5" width="12.8" height="11.8" fill="#0879d0"/>
<rect x="950.9" y="582.8" width="12.8" height="11.8" fill="#0879cf"/>
<rect x="963.2" y="571.5" width="17.1" height="11.8" fill="#0a7bd1"/>
<rect x="963.2" y="582.8" width="17.1" height="11.8" fill="#097ad1"/>
<rect x="979.6" y="571.5" width="17.1" height="11.8" fill="#0c7cd3"/>
<rect x="979.6" y="582.8" width="17.1" height="11.8" fill="#0b7cd2"/>
<rect x="996.1" y="571.5" width="15.9" height="11.8" fill="#0d7ed5"/>
<rect x="996.1" y="582.8" width="15.9" height="11.8" fill="#0c7dd4"/>
<rect x="1011.4" y="571.5" width="15.9" height="11.8" fill="#0f80d7"/>
<rect x="1011.4" y="582.8" width="15.9" height="11.8" fill="#0e7fd6"/>
<rect x="1026.6" y="571.5" width="15.9" height="11.8" fill="#1161d9"/>
<rect x="1026.6" y="582.8" width="15.9" height="11.8" fill="#1060d7"/>
<rect x="1041.9" y="571.5" width="15.9" height="11.8" fill="#1363da"/>
<rect x="1041.9" y="582.8" width="15.9" height="11.8" fill="#1161d9"/>
<rect x="1057.2" y="571.5" width="15.2" height="11.8" fill="#1465dc"/>
<rect x="1057.2" y="582.8" width="15.2" height="11.8" fill="#1363db"/>
<rect x="1071.8" y="571.5" width="15.2" height="11.8" fill="#1666de"/>
<rect x="1071.8" y="582.8" width="15.2" height="11.8" fill="#1465dc"/>
<rect x="1086.5" y="571.5" width="14.6" height="11.8" fill="#1889e0"/>
<rect x="1086.5" y="582.8" width="14.6" height="11.8" fill="#1687de"/>
<rect x="1100.5" y="571.5" width="14.6" height="11.8" fill="#198ae1"/>
<rect x="1100.5" y="582.8" width="14.6" height="11.8" fill="#1789df"/>
<rect x="1114.5" y="571.5" width="15.2" height="11.8" fill="#1b8ce3"/>
<rect x="1114.5" y="582.8" width="15.2" height="11.8" fill="#198ae1"/>
<rect x="1129.2" y="571.5" width="15.2" height="11.8" fill="#1c8de4"/>
<rect x="1129.2" y="582.8" width="15.2" height="11.8" fill="#1a8be2"/>
<rect x="1143.8" y="571.5" width="15.2" height="11.8" fill="#1d8ee5"/>
<rect x="1143.8" y="582.8" width="15.2" height="11.8" fill="#1b8ce3"/>
<rect x="1158.5" y="571.5" width="15.2" height="11.8" fill="#1e8fe6"/>
<rect x="1158.5" y="582.8" width="15.2" height="11.8" fill="#1b8de4"/>
<rect x="1173.1" y="571.5" width="14.0" height="11.8" fill="#1e8fe6"/>
<rect x="1173.1" y="582.8" width="14.0" height="11.8" fill="#1c8de4"/>
<rect x="1186.6" y="571.5" width="14.0" height="11.8" fill="#1e90e7"/>
<rect x="1186.6" y="582.8" width="14.0" height="11.8" fill="#1c8de4"/>
<rect x="28.0" y="594.0" width="27.9" height="23.6" fill="#09c600"/>
<rect x="55.3" y="594.0" width="28.2" height="23.6" fill="#09c600"/>
<rect x="82.9" y="594.0" width="28.7" height="23.6" fill="#09c600"/>
<rect x="111.0" y="594.0" width="29.9" height="23.6" fill="#09c600"/>
<rect x="140.3" y="594.0" width="29.9" height="23.6" fill="#2ac600"/>
<rect x="169.6" y="594.0" width="31.1" height="23.6" fill="#4bc600"/>
<rect x="200.1" y="594.0" width="7.9" height="23.6" fill="#6bc600"/>
<rect x="207.5" y="594.0" width="23.8" height="23.6" fill="#6bc600"/>
<rect x="230.7" y="594.0" width="32.3" height="23.6" fill="#6bc600"/>
<rect x="262.4" y="594.0" width="38.4" height="23.6" fill="#6bc600"/>
<rect x="300.2" y="594.0" width="40.9" height="23.6" fill="#4bc600"/>
<rect x="340.5" y="594.0" width="37.2" height="23.6" fill="#4bc600"/>
<rect x="377.2" y="594.0" width="33.6" height="23.6" fill="#2ac600"/>
<rect x="410.1" y="594.0" width="31.1" height="23.6" fill="#2ac600"/>
<rect x="440.6" y="594.0" width="31.1" height="23.6" fill="#00c638"/>
<rect x="471.2" y="594.0" width="29.9" height="23.6" fill="#00c638"/>
<rect x="500.5" y="594.0" width="28.7" height="23.6" fill="#00c658"/>
<rect x="528.5" y="594.0" width="29.9" height="23.6" fill="#00c658"/>
<rect x="557.8" y="594.0" width="29.9" height="23.6" fill="#00c699"/>
<rect x="587.1" y="594.0" width="27.5" height="23.6" fill="#00c699"/>
<rect x="614.0" y="594.0" width="27.9" height="23.6" fill="#00c6ba"/>
<rect x="641.3" y="594.0" width="28.2" height="23.6" fill="#00c6ba"/>
<rect x="668.9" y="594.0" width="28.7" height="23.6" fill="#00b1c6"/>
<rect x="697.0" y="594.0" width="29.9" height="23.6" fill="#00b2c6"/>
<rect x="726.3" y="594.0" width="29.9" height="23.6" fill="#0091c7"/>
<rect x="755.6" y="594.0" width="31.1" height="23.6" fill="#0091c7"/>
<rect x="786.1" y="594.0" width="7.9" height="12.1" fill="#01b2c7"/>
<rect x="786.1" y="605.5" width="7.9" height="12.1" fill="#01b2c7"/>
<rect x="793.5" y="594.0" width="12.2" height="12.1" fill="#01c7bb"/>
<rect x="793.5" y="605.5" width="12.2" height="12.1" fill="#01c7bb"/>
<rect x="805.1" y="594.0" width="12.2" height="12.1" fill="#01c8bc"/>
<rect x="805.1" y="605.5" width="12.2" height="12.1" fill="#01c8bc"/>
<rect x="816.7" y="594.0" width="16.5" height="12.1" fill="#0172c8"/>
<rect x="816.7" y="605.5" width="16.5" height="12.1" fill="#0172c8"/>
<rect x="832.5" y="594.0" width="16.5" height="12.1" fill="#0272c8"/>
<rect x="832.5" y="605.5" width="16.5" height="12.1" fill="#0172c8"/>
<rect x="848.4" y="594.0" width="13.2" height="12.1" fill="#0272c9"/>
<rect x="848.4" y="605.5" width="13.2" height="12.1" fill="#0272c9"/>
<rect x="861.0" y="594.0" width="13.2" height="12.1" fill="#0273c9"/>
<rect x="861.0" y="605.5" width="13.2" height="12.1" fill="#0273c9"/>
<rect x="873.6" y="594.0" width="13.2" height="12.1" fill="#0373ca"/>
<rect x="873.6" y="605.5" width="13.2" height="12.1" fill="#0373ca"/>
<rect x="886.2" y="594.0" width="14.0" height="12.1" fill="#0374ca"/>
<rect x="886.2" y="605.5" width="14.0" height="12.1" fill="#0374ca"/>
<rect x="899.7" y="594.0" width="14.0" height="12.1" fill="#0475cb"/>
<rect x="899.7" y="605.5" width="14.0" height="12.1" fill="#0474cb"/>
<rect x="913.1" y="594.0" width="14.0" height="12.1" fill="#0575cc"/>
<rect x="913.1" y="605.5" width="14.0" height="12.1" fill="#0475cb"/>
<rect x="926.5" y="594.0" width="12.8" height="12.1" fill="#0597cd"/>
<rect x="926.5" y="605.5" width="12.8" height="12.1" fill="#0597cc"/>
<rect x="938.7" y="594.0" width="12.8" height="12.1" fill="#0698ce"/>
<rect x="938.7" y="605.5" width="12.8" height="12.1" fill="#0697cd"/>
<rect x="950.9" y="594.0" width="12.8" height="12.1" fill="#0799cf"/>
<rect x="950.9" y="605.5" width="12.8" height="12.1" fill="#0798ce"/>
<rect x="963.2" y="594.0" width="17.1" height="12.1" fill="#0858d0"/>
<rect x="963.2" y="605.5" width="17.1" height="12.1" fill="#0858cf"/>
<rect x="979.6" y="594.0" width="17.1" height="12.1" fill="#0a5ad1"/>
<rect x="979.6" y="605.5" width="17.1" height="12.1" fill="#0959d0"/>
<rect x="996.1" y="594.0" width="15.9" height="12.1" fill="#0b9dd3"/>
<rect x="996.1" y="605.5" width="15.9" height="12.1" fill="#0a9cd2"/>
<rect x="1011.4" y="594.0" width="15.9" height="12.1" fill="#0d9fd4"/>
<rect x="1011.4" y="605.5" width="15.9" height="12.1" fill="#0c9dd3"/>
<rect x="1026.6" y="594.0" width="15.9" height="12.1" fill="#0e7fd6"/>
<rect x="1026.6" y="605.5" width="15.9" height="12.1" fill="#0d7ed5"/>
<rect x="1041.9" y="594.0" width="15.9" height="12.1" fill="#1081d8"/>
<rect x="1041.9" y="605.5" width="15.9" height="12.1" fill="#0e7fd6"/>
<rect x="1057.2" y="594.0" width="15.2" height="12.1" fill="#1162d9"/>
<rect x="1057.2" y="605.5" width="15.2" height="12.1" fill="#1060d8"/>
<rect x="1071.8" y="594.0" width="15.2" height="12.1" fill="#1363db"/>
<rect x="1071.8" y="605.5" width="15.2" height="12.1" fill="#1161d9"/>
<rect x="1086.5" y="594.0" width="14.6" height="12.1" fill="#1464dc"/>
<rect x="1086.5" y="605.5" width="14.6" height="12.1" fill="#1263da"/>
<rect x="1100.5" y="594.0" width="14.6" height="12.1" fill="#1566dd"/>
<rect x="1100.5" y="605.5" width="14.6" height="12.1" fill="#1464dc"/>
<rect x="1114.5" y="594.0" width="15.2" height="12.1" fill="#1767df"/>
<rect x="1114.5" y="605.5" width="15.2" height="12.1" fill="#1565dd"/>
<rect x="1129.2" y="594.0" width="15.2" height="12.1" fill="#1868e0"/>
<rect x="1129.2" y="605.5" width="15.2" height="12.1" fill="#1666de"/>
<rect x="1143.8" y="594.0" width="15.2" height="12.1" fill="#1969e1"/>
<rect x="1143.8" y="605.5" width="15.2" height="12.1" fill="#1667df"/>
<rect x="1158.5" y="594.0" width="15.2" height="12.1" fill="#1969e1"/>
<rect x="1158.5" y="605.5" width="15.2" height="12.1" fill="#1767df"/>
<rect x="1173.1" y="594.0" width="14.0" height="12.1" fill="#1a6ae2"/>
<rect x="1173.1" y="605.5" width="14.0" height="12.1" fill="#1768e0"/>
<rect x="1186.6" y="594.0" width="14.0" height="12.1" fill="#1a6ae2"/>
<rect x="1186.6" y="605.5" width="14.0" height="12.1" fill="#1868e0"/>
<rect x="28.0" y="617.0" width="27.9" height="11.1" fill="#09c600"/>
<rect x="55.3" y="617.0" width="28.2" height="11.1" fill="#4bc600"/>
<rect x="82.9" y="617.0" width="28.7" height="11.1" fill="#6bc600"/>
<rect x="111.0" y="617.0" width="29.9" height="11.1" fill="#8cc600"/>
<rect x="140.3" y="617.0" width="29.9" height="11.1" fill="#8cc600"/>
<rect x="169.6" y="617.0" width="31.1" height="11.1" fill="#8cc600"/>
<rect x="200.1" y="617.0" width="7.9" height="11.1" fill="#6bc600"/>
<rect x="207.5" y="617.0" width="23.8" height="11.1" fill="#acc600"/>
<rect x="230.7" y="617.0" width="32.3" height="11.1" fill="#acc600"/>
<rect x="262.4" y="617.0" width="38.4" height="11.1" fill="#8cc600"/>
<rect x="300.2" y="617.0" width="40.9" height="11.1" fill="#6bc600"/>
<rect x="340.5" y="617.0" width="37.2" height="11.1" fill="#6bc600"/>
<rect x="377.2" y="617.0" width="33.6" height="11.1" fill="#2ac600"/>
<rect x="410.1" y="617.0" width="31.1" height="11.1" fill="#4bc600"/>
<rect x="440.6" y="617.0" width="31.1" height="11.1" fill="#00c638"/>
<rect x="471.2" y="617.0" width="29.9" height="11.1" fill="#00c638"/>
<rect x="500.5" y="617.0" width="28.7" height="11.1" fill="#00c658"/>
<rect x="528.5" y="617.0" width="29.9" height="11.1" fill="#00c658"/>
<rect x="557.8" y="617.0" width="29.9" height="11.1" fill="#00c679"/>
<rect x="587.1" y="617.0" width="27.5" height="11.1" fill="#00c679"/>
<rect x="614.0" y="617.0" width="27.9" height="11.1" fill="#00c69a"/>
<rect x="641.3" y="617.0" width="28.2" height="11.1" fill="#00c69a"/>
<rect x="668.9" y="617.0" width="28.7" height="11.1" fill="#00c6ba"/>
<rect x="697.0" y="617.0" width="29.9" height="11.1" fill="#00c6ba"/>
<rect x="726.3" y="617.0" width="29.9" height="11.1" fill="#00c7bb"/>
<rect x="755.6" y="617.0" width="31.1" height="11.1" fill="#0071c7"/>
<rect x="786.1" y="617.0" width="7.9" height="11.1" fill="#0171c7"/>
<rect x="793.5" y="617.0" width="12.2" height="11.1" fill="#0192c7"/>
<rect x="805.1" y="617.0" width="12.2" height="11.1" fill="#0192c7"/>
<rect x="816.7" y="617.0" width="16.5" height="11.1" fill="#0151c8"/>
<rect x="832.5" y="617.0" width="16.5" height="11.1" fill="#0151c8"/>
<rect x="848.4" y="617.0" width="13.2" height="11.1" fill="#0251c8"/>
<rect x="861.0" y="617.0" width="13.2" height="11.1" fill="#0252c9"/>
<rect x="873.6" y="617.0" width="13.2" height="11.1" fill="#0252c9"/>
<rect x="886.2" y="617.0" width="14.0" height="11.1" fill="#0353ca"/>
<rect x="899.7" y="617.0" width="14.0" height="11.1" fill="#0353ca"/>
<rect x="913.1" y="617.0" width="14.0" height="11.1" fill="#0454cb"/>
<rect x="926.5" y="617.0" width="12.8" height="11.1" fill="#0554cc"/>
<rect x="938.7" y="617.0" width="12.8" height="11.1" fill="#0555cd"/>
<rect x="950.9" y="617.0" width="12.8" height="11.1" fill="#0656cd"/>
<rect x="963.2" y="617.0" width="17.1" height="11.1" fill="#0757ce"/>
<rect x="979.6" y="617.0" width="17.1" height="11.1" fill="#0858d0"/>
<rect x="996.1" y="617.0" width="15.9" height="11.1" fill="#0959d1"/>
<rect x="1011.4" y="617.0" width="15.9" height="11.1" fill="#0b5bd2"/>
<rect x="1026.6" y="617.0" width="15.9" height="11.1" fill="#0c5cd4"/>
<rect x="1041.9" y="617.0" width="15.9" height="11.1" fill="#0d5dd5"/>
<rect x="1057.2" y="617.0" width="15.2" height="11.1" fill="#0e5fd6"/>
<rect x="1071.8" y="617.0" width="15.2" height="11.1" fill="#1060d8"/>
<rect x="1086.5" y="617.0" width="14.6" height="11.1" fill="#1161d9"/>
<rect x="1100.5" y="617.0" width="14.6" height="11.1" fill="#1262da"/>
<rect x="1114.5" y="617.0" width="15.2" height="11.1" fill="#1363db"/>
<rect x="1129.2" y="617.0" width="15.2" height="11.1" fill="#1464dc"/>
<rect x="1143.8" y="617.0" width="15.2" height="11.1" fill="#3fdd14"/>
<rect x="1158.5" y="617.0" width="15.2" height="11.1" fill="#3fdd15"/>
<rect x="1173.1" y="617.0" width="14.0" height="11.1" fill="#61dd15"/>
<rect x="1186.6" y="617.0" width="14.0" height="11.1" fill="#61de15"/>
<rect x="28.0" y="627.5" width="27.9" height="12.3" fill="#c6bf00"/>
<rect x="55.3" y="627.5" width="28.2" height="12.3" fill="#c6bf00"/>
<rect x="82.9" y="627.5" width="28.7" height="12.3" fill="#c6bf00"/>
<rect x="111.0" y="627.5" width="29.9" height="12.3" fill="#acc600"/>
<rect x="140.3" y="627.5" width="29.9" height="12.3" fill="#c6bf00"/>
<rect x="169.6" y="627.5" width="31.1" height="12.3" fill="#c6bf00"/>
<rect x="200.1" y="627.5" width="7.9" height="12.3" fill="#8cc600"/>
<rect x="207.5" y="627.5" width="23.8" height="12.3" fill="#c69e00"/>
<rect x="230.7" y="627.5" width="32.3" height="12.3" fill="#c6bf00"/>
<rect x="262.4" y="627.5" width="38.4" height="12.3" fill="#acc600"/>
<rect x="300.2" y="627.5" width="40.9" height="12.3" fill="#8cc600"/>
<rect x="340.5" y="627.5" width="37.2" height="12.3" fill="#8cc600"/>
<rect x="377.2" y="627.5" width="33.6" height="12.3" fill="#2ac600"/>
<rect x="410.1" y="627.5" width="31.1" height="12.3" fill="#4bc600"/>
<rect x="440.6" y="627.5" width="31.1" height="12.3" fill="#00c638"/>
<rect x="471.2" y="627.5" width="29.9" height="12.3" fill="#00c638"/>
<rect x="500.5" y="627.5" width="28.7" height="12.3" fill="#00c638"/>
<rect x="528.5" y="627.5" width="29.9" height="12.3" fill="#00c638"/>
<rect x="557.8" y="627.5" width="29.9" height="12.3" fill="#00c679"/>
<rect x="587.1" y="627.5" width="27.5" height="12.3" fill="#00c679"/>
<rect x="614.0" y="627.5" width="27.9" height="12.3" fill="#00c658"/>
<rect x="641.3" y="627.5" width="28.2" height="12.3" fill="#00c679"/>
<rect x="668.9" y="627.5" width="28.7" height="12.3" fill="#00c69a"/>
<rect x="697.0" y="627.5" width="29.9" height="12.3" fill="#00b2c6"/>
<rect x="726.3" y="627.5" width="29.9" height="12.3" fill="#0050c7"/>
<rect x="755.6" y="627.5" width="31.1" height="12.3" fill="#0050c7"/>
<rect x="786.1" y="627.5" width="7.9" height="12.3" fill="#0150c7"/>
<rect x="793.5" y="627.5" width="12.2" height="12.3" fill="#0150c7"/>
<rect x="805.1" y="627.5" width="12.2" height="12.3" fill="#0150c7"/>
<rect x="816.7" y="627.5" width="16.5" height="12.3" fill="#0151c8"/>
<rect x="832.5" y="627.5" width="16.5" height="12.3" fill="#0151c8"/>
<rect x="848.4" y="627.5" width="13.2" height="12.3" fill="#0151c8"/>
<rect x="861.0" y="627.5" width="13.2" height="12.3" fill="#0252c9"/>
<rect x="873.6" y="627.5" width="13.2" height="12.3" fill="#0252c9"/>
<rect x="886.2" y="627.5" width="14.0" height="12.3" fill="#0352ca"/>
<rect x="899.7" y="627.5" width="14.0" height="12.3" fill="#0353ca"/>
<rect x="913.1" y="627.5" width="14.0" height="12.3" fill="#0453cb"/>
<rect x="926.5" y="627.5" width="12.8" height="12.3" fill="#0454cb"/>
<rect x="938.7" y="627.5" width="12.8" height="12.3" fill="#0555cc"/>
<rect x="950.9" y="627.5" width="12.8" height="12.3" fill="#0555cd"/>
<rect x="963.2" y="627.5" width="17.1" height="12.3" fill="#0656ce"/>
<rect x="979.6" y="627.5" width="17.1" height="12.3" fill="#0757cf"/>
<rect x="996.1" y="627.5" width="15.9" height="12.3" fill="#0859d0"/>
<rect x="1011.4" y="627.5" width="15.9" height="12.3" fill="#0a5ad1"/>
<rect x="1026.6" y="627.5" width="15.9" height="12.3" fill="#14d30b"/>
<rect x="1041.9" y="627.5" width="15.9" height="12.3" fill="#15d40c"/>
<rect x="1057.2" y="627.5" width="15.2" height="12.3" fill="#17d50d"/>
<rect x="1071.8" y="627.5" width="15.2" height="12.3" fill="#18d60e"/>
<rect x="1086.5" y="627.5" width="14.6" height="12.3" fill="#19d70f"/>
<rect x="1100.5" y="627.5" width="14.6" height="12.3" fill="#1ad810"/>
<rect x="1114.5" y="627.5" width="15.2" height="12.3" fill="#3cd911"/>
<rect x="1129.2" y="627.5" width="15.2" height="12.3" fill="#3cda12"/>
<rect x="1143.8" y="627.5" width="15.2" height="12.3" fill="#5edb12"/>
<rect x="1158.5" y="627.5" width="15.2" height="12.3" fill="#5edb13"/>
<rect x="1173.1" y="627.5" width="14.0" height="12.3" fill="#80db13"/>
<rect x="1186.6" y="627.5" width="14.0" height="12.3" fill="#80dc13"/>
<rect x="28.0" y="639.2" width="27.9" height="12.4" fill="#c69e00"/>
<rect x="55.3" y="639.2" width="28.2" height="12.4" fill="#c69e00"/>
<rect x="82.9" y="639.2" width="28.7" height="12.4" fill="#c69e00"/>
<rect x="111.0" y="639.2" width="29.9" height="12.4" fill="#acc600"/>
<rect x="140.3" y="639.2" width="29.9" height="12.4" fill="#c69e00"/>
<rect x="169.6" y="639.2" width="31.1" height="12.4" fill="#c69e00"/>
<rect x="200.1" y="639.2" width="7.9" height="12.4" fill="#8cc600"/>
<rect x="207.5" y="639.2" width="23.8" height="12.4" fill="#c69e00"/>
<rect x="230.7" y="639.2" width="32.3" height="12.4" fill="#c69e00"/>
<rect x="262.4" y="639.2" width="38.4" height="12.4" fill="#c69e00"/>
<rect x="300.2" y="639.2" width="40.9" height="12.4" fill="#c6bf00"/>
<rect x="340.5" y="639.2" width="37.2" height="12.4" fill="#c6bf00"/>
<rect x="377.2" y="639.2" width="33.6" height="12.4" fill="#acc600"/>
<rect x="410.1" y="639.2" width="31.1" height="12.4" fill="#acc600"/>
<rect x="440.6" y="639.2" width="31.1" height="12.4" fill="#8cc600"/>
<rect x="471.2" y="639.2" width="29.9" height="12.4" fill="#8cc600"/>
<rect x="500.5" y="639.2" width="28.7" height="12.4" fill="#4bc600"/>
<rect x="528.5" y="639.2" width="29.9" height="12.4" fill="#4bc600"/>
<rect x="557.8" y="639.2" width="29.9" height="12.4" fill="#2ac600"/>
<rect x="587.1" y="639.2" width="27.5" height="12.4" fill="#00c617"/>
<rect x="614.0" y="639.2" width="27.9" height="12.4" fill="#00c617"/>
<rect x="641.3" y="639.2" width="28.2" height="12.4" fill="#09c600"/>
<rect x="668.9" y="639.2" width="28.7" height="12.4" fill="#0ac600"/>
<rect x="697.0" y="639.2" width="29.9" height="12.4" fill="#0ac600"/>
<rect x="726.3" y="639.2" width="29.9" height="12.4" fill="#0ac600"/>
<rect x="755.6" y="639.2" width="31.1" height="12.4" fill="#0ac700"/>
<rect x="786.1" y="639.2" width="7.9" height="12.4" fill="#0ac700"/>
<rect x="793.5" y="639.2" width="12.2" height="12.4" fill="#0ac701"/>
<rect x="805.1" y="639.2" width="12.2" height="12.4" fill="#0ac701"/>
<rect x="816.7" y="639.2" width="16.5" height="12.4" fill="#0ac801"/>
<rect x="832.5" y="639.2" width="16.5" height="12.4" fill="#0bc801"/>
<rect x="848.4" y="639.2" width="13.2" height="12.4" fill="#0bc801"/>
<rect x="861.0" y="639.2" width="13.2" height="12.4" fill="#0bc802"/>
<rect x="873.6" y="639.2" width="13.2" height="12.4" fill="#0bc902"/>
<rect x="886.2" y="639.2" width="14.0" height="12.4" fill="#0cc902"/>
<rect x="899.7" y="639.2" width="14.0" height="12.4" fill="#0cca03"/>
<rect x="913.1" y="639.2" width="14.0" height="12.4" fill="#0dca03"/>
<rect x="926.5" y="639.2" width="12.8" height="12.4" fill="#0dcb04"/>
<rect x="938.7" y="639.2" width="12.8" height="12.4" fill="#0ecc04"/>
<rect x="950.9" y="639.2" width="12.8" height="12.4" fill="#0ecc05"/>
<rect x="963.2" y="639.2" width="17.1" height="12.4" fill="#0fcd06"/>
<rect x="979.6" y="639.2" width="17.1" height="12.4" fill="#10ce07"/>
<rect x="996.1" y="639.2" width="15.9" height="12.4" fill="#11cf08"/>
<rect x="1011.4" y="639.2" width="15.9" height="12.4" fill="#12d009"/>
<rect x="1026.6" y="639.2" width="15.9" height="12.4" fill="#13d10a"/>
<rect x="1041.9" y="639.2" width="15.9" height="12.4" fill="#14d30b"/>
<rect x="1057.2" y="639.2" width="15.2" height="12.4" fill="#36d40c"/>
<rect x="1071.8" y="639.2" width="15.2" height="12.4" fill="#37d50d"/>
<rect x="1086.5" y="639.2" width="14.6" height="12.4" fill="#7ad60e"/>
<rect x="1100.5" y="639.2" width="14.6" height="12.4" fill="#7bd70f"/>
<rect x="1114.5" y="639.2" width="15.2" height="12.4" fill="#9dd70f"/>
<rect x="1129.2" y="639.2" width="15.2" height="12.4" fill="#9dd810"/>
<rect x="1143.8" y="639.2" width="15.2" height="12.4" fill="#bfd911"/>
<rect x="1158.5" y="639.2" width="15.2" height="12.4" fill="#bfd911"/>
<rect x="1173.1" y="639.2" width="14.0" height="12.4" fill="#d9b111"/>
<rect x="1186.6" y="639.2" width="14.0" height="12.4" fill="#dab211"/>
<rect x="28.0" y="651.0" width="27.9" height="13.1" fill="#c65d00"/>
<rect x="55.3" y="651.0" width="28.2" height="13.1" fill="#c65d00"/>
<rect x="82.9" y="651.0" width="28.7" height="13.1" fill="#c65d00"/>
<rect x="111.0" y="651.0" width="29.9" height="13.1" fill="#c65d00"/>
<rect x="140.3" y="651.0" width="29.9" height="13.1" fill="#c63c00"/>
<rect x="169.6" y="651.0" width="31.1" height="13.1" fill="#c63c00"/>
<rect x="200.1" y="651.0" width="7.9" height="13.1" fill="#c63c00"/>
<rect x="207.5" y="651.0" width="23.8" height="13.1" fill="#c65d00"/>
<rect x="230.7" y="651.0" width="32.3" height="13.1" fill="#c63c00"/>
<rect x="262.4" y="651.0" width="38.4" height="13.1" fill="#c65d00"/>
<rect x="300.2" y="651.0" width="40.9" height="13.1" fill="#c67d00"/>
<rect x="340.5" y="651.0" width="37.2" height="13.1" fill="#c67d00"/>
<rect x="377.2" y="651.0" width="33.6" height="13.1" fill="#c67e00"/>
<rect x="410.1" y="651.0" width="31.1" height="13.1" fill="#c69e00"/>
<rect x="440.6" y="651.0" width="31.1" height="13.1" fill="#8cc600"/>
<rect x="471.2" y="651.0" width="29.9" height="13.1" fill="#8cc600"/>
<rect x="500.5" y="651.0" width="28.7" height="13.1" fill="#4bc600"/>
<rect x="528.5" y="651.0" width="29.9" height="13.1" fill="#4bc600"/>
<rect x="557.8" y="651.0" width="29.9" height="13.1" fill="#4bc600"/>
<rect x="587.1" y="651.0" width="27.5" height="13.1" fill="#09c600"/>
<rect x="614.0" y="651.0" width="27.9" height="13.1" fill="#2ac600"/>
<rect x="641.3" y="651.0" width="28.2" height="13.1" fill="#09c600"/>
<rect x="668.9" y="651.0" width="28.7" height="13.1" fill="#0ac600"/>
<rect x="697.0" y="651.0" width="29.9" height="13.1" fill="#0ac600"/>
<rect x="726.3" y="651.0" width="29.9" height="13.1" fill="#0ac600"/>
<rect x="755.6" y="651.0" width="31.1" height="13.1" fill="#0ac700"/>
<rect x="786.1" y="651.0" width="7.9" height="13.1" fill="#0ac700"/>
<rect x="793.5" y="651.0" width="12.2" height="13.1" fill="#0ac700"/>
<rect x="805.1" y="651.0" width="12.2" height="13.1" fill="#0ac701"/>
<rect x="816.7" y="651.0" width="16.5" height="13.1" fill="#0ac701"/>
<rect x="832.5" y="651.0" width="16.5" height="13.1" fill="#0ac801"/>
<rect x="848.4" y="651.0" width="13.2" height="13.1" fill="#0bc801"/>
<rect x="861.0" y="651.0" width="13.2" height="13.1" fill="#0bc801"/>
<rect x="873.6" y="651.0" width="13.2" height="13.1" fill="#0bc902"/>
<rect x="886.2" y="651.0" width="14.0" height="13.1" fill="#2cc902"/>
<rect x="899.7" y="651.0" width="14.0" height="13.1" fill="#2dca02"/>
<rect x="913.1" y="651.0" width="14.0" height="13.1" fill="#2dca03"/>
<rect x="926.5" y="651.0" width="12.8" height="13.1" fill="#4ecb03"/>
<rect x="938.7" y="651.0" width="12.8" height="13.1" fill="#4fcb04"/>
<rect x="950.9" y="651.0" width="12.8" height="13.1" fill="#50cc04"/>
<rect x="963.2" y="651.0" width="17.1" height="13.1" fill="#71cc05"/>
<rect x="979.6" y="651.0" width="17.1" height="13.1" fill="#72cd06"/>
<rect x="996.1" y="651.0" width="15.9" height="13.1" fill="#94ce07"/>
<rect x="1011.4" y="651.0" width="15.9" height="13.1" fill="#95cf08"/>
<rect x="1026.6" y="651.0" width="15.9" height="13.1" fill="#d0c909"/>
<rect x="1041.9" y="651.0" width="15.9" height="13.1" fill="#d1ca0a"/>
<rect x="1057.2" y="651.0" width="15.2" height="13.1" fill="#d2cb0a"/>
<rect x="1071.8" y="651.0" width="15.2" height="13.1" fill="#d3cc0b"/>
<rect x="1086.5" y="651.0" width="14.6" height="13.1" fill="#d4ac0c"/>
<rect x="1100.5" y="651.0" width="14.6" height="13.1" fill="#d5ad0d"/>
<rect x="1114.5" y="651.0" width="15.2" height="13.1" fill="#d6ae0e"/>
<rect x="1129.2" y="651.0" width="15.2" height="13.1" fill="#d6ae0e"/>
<rect x="1143.8" y="651.0" width="15.2" height="13.1" fill="#d78e0f"/>
<rect x="1158.5" y="651.0" width="15.2" height="13.1" fill="#d78e0f"/>
<rect x="1173.1" y="651.0" width="14.0" height="13.1" fill="#d88e0f"/>
<rect x="1186.6" y="651.0" width="14.0" height="13.1" fill="#d88f10"/>
<rect x="28.0" y="663.5" width="27.9" height="12.7" fill="#c61c00"/>
<rect x="55.3" y="663.5" width="28.2" height="12.7" fill="#c61c00"/>
<rect x="82.9" y="663.5" width="28.7" height="12.7" fill="#c61c00"/>
<rect x="111.0" y="663.5" width="29.9" height="12.7" fill="#c60000"/>
<rect x="140.3" y="663.5" width="29.9" height="12.7" fill="#c61c00"/>
<rect x="169.6" y="663.5" width="31.1" height="12.7" fill="#c61c00"/>
<rect x="200.1" y="663.5" width="7.9" height="12.7" fill="#c61c00"/>
<rect x="207.5" y="663.5" width="23.8" height="12.7" fill="#c65d00"/>
<rect x="230.7" y="663.5" width="32.3" height="12.7" fill="#c63c00"/>
<rect x="262.4" y="663.5" width="38.4" height="12.7" fill="#c65d00"/>
<rect x="300.2" y="663.5" width="40.9" height="12.7" fill="#c67d00"/>
<rect x="340.5" y="663.5" width="37.2" height="12.7" fill="#c67d00"/>
<rect x="377.2" y="663.5" width="33.6" height="12.7" fill="#c67e00"/>
<rect x="410.1" y="663.5" width="31.1" height="12.7" fill="#c69e00"/>
<rect x="440.6" y="663.5" width="31.1" height="12.7" fill="#c69e00"/>
<rect x="471.2" y="663.5" width="29.9" height="12.7" fill="#c69e00"/>
<rect x="500.5" y="663.5" width="28.7" height="12.7" fill="#c6bf00"/>
<rect x="528.5" y="663.5" width="29.9" height="12.7" fill="#c69e00"/>
<rect x="557.8" y="663.5" width="29.9" height="12.7" fill="#c6bf00"/>
<rect x="587.1" y="663.5" width="27.5" height="12.7" fill="#c69e00"/>
<rect x="614.0" y="663.5" width="27.9" height="12.7" fill="#c67e00"/>
<rect x="641.3" y="663.5" width="28.2" height="12.7" fill="#c61c00"/>
<rect x="668.9" y="663.5" width="28.7" height="12.7" fill="#c69e00"/>
<rect x="697.0" y="663.5" width="29.9" height="12.7" fill="#c6bf00"/>
<rect x="726.3" y="663.5" width="29.9" height="12.7" fill="#c6bf00"/>
<rect x="755.6" y="663.5" width="31.1" height="12.7" fill="#c7c000"/>
<rect x="786.1" y="663.5" width="7.9" height="12.7" fill="#c7c000"/>
<rect x="793.5" y="663.5" width="12.2" height="12.7" fill="#c7c000"/>
<rect x="805.1" y="663.5" width="12.2" height="12.7" fill="#c7c001"/>
<rect x="816.7" y="663.5" width="16.5" height="12.7" fill="#aec701"/>
<rect x="832.5" y="663.5" width="16.5" height="12.7" fill="#aec801"/>
<rect x="848.4" y="663.5" width="13.2" height="12.7" fill="#aec801"/>
<rect x="861.0" y="663.5" width="13.2" height="12.7" fill="#afc801"/>
<rect x="873.6" y="663.5" width="13.2" height="12.7" fill="#afc801"/>
<rect x="886.2" y="663.5" width="14.0" height="12.7" fill="#c9c202"/>
<rect x="899.7" y="663.5" width="14.0" height="12.7" fill="#c9c202"/>
<rect x="913.1" y="663.5" width="14.0" height="12.7" fill="#cac303"/>
<rect x="926.5" y="663.5" width="12.8" height="12.7" fill="#caa203"/>
<rect x="938.7" y="663.5" width="12.8" height="12.7" fill="#cba303"/>
<rect x="950.9" y="663.5" width="12.8" height="12.7" fill="#cba304"/>
<rect x="963.2" y="663.5" width="17.1" height="12.7" fill="#cc8304"/>
<rect x="979.6" y="663.5" width="17.1" height="12.7" fill="#cd8405"/>
<rect x="996.1" y="663.5" width="15.9" height="12.7" fill="#ce8506"/>
<rect x="1011.4" y="663.5" width="15.9" height="12.7" fill="#ce8607"/>
<rect x="1026.6" y="663.5" width="15.9" height="12.7" fill="#cf6608"/>
<rect x="1041.9" y="663.5" width="15.9" height="12.7" fill="#d06608"/>
<rect x="1057.2" y="663.5" width="15.2" height="12.7" fill="#d16709"/>
<rect x="1071.8" y="663.5" width="15.2" height="12.7" fill="#d2680a"/>
<rect x="1086.5" y="663.5" width="14.6" height="12.7" fill="#d3480b"/>
<rect x="1100.5" y="663.5" width="14.6" height="12.7" fill="#d3490b"/>
<rect x="1114.5" y="663.5" width="15.2" height="12.7" fill="#d4490c"/>
<rect x="1129.2" y="663.5" width="15.2" height="12.7" fill="#d54a0d"/>
<rect x="1143.8" y="663.5" width="15.2" height="12.7" fill="#d54a0d"/>
<rect x="1158.5" y="663.5" width="15.2" height="12.7" fill="#d64b0d"/>
<rect x="1173.1" y="663.5" width="14.0" height="12.7" fill="#d64b0e"/>
<rect x="1186.6" y="663.5" width="14.0" height="12.7" fill="#d64b0e"/>
<rect x="28.0" y="675.6" width="27.9" height="5.0" fill="#c61c00"/>
<rect x="55.3" y="675.6" width="28.2" height="5.0" fill="#c61c00"/>
<rect x="82.9" y="675.6" width="28.7" height="5.0" fill="#c61c00"/>
<rect x="111.0" y="675.6" width="29.9" height="5.0" fill="#c63c00"/>
<rect x="140.3" y="675.6" width="29.9" height="5.0" fill="#c63c00"/>
<rect x="169.6" y="675.6" width="31.1" height="5.0" fill="#c67d00"/>
<rect x="200.1" y="675.6" width="7.9" height="5.0" fill="#c69e00"/>
<rect x="207.5" y="675.6" width="23.8" height="5.0" fill="#c69e00"/>
<rect x="230.7" y="675.6" width="32.3" height="5.0" fill="#c69e00"/>
<rect x="262.4" y="675.6" width="38.4" height="5.0" fill="#c69e00"/>
<rect x="300.2" y="675.6" width="40.9" height="5.0" fill="#c69e00"/>
<rect x="340.5" y="675.6" width="37.2" height="5.0" fill="#c65d00"/>
<rect x="377.2" y="675.6" width="33.6" height="5.0" fill="#c65d00"/>
<rect x="410.1" y="675.6" width="31.1" height="5.0" fill="#c65d00"/>
<rect x="440.6" y="675.6" width="31.1" height="5.0" fill="#c67e00"/>
<rect x="471.2" y="675.6" width="29.9" height="5.0" fill="#c67e00"/>
<rect x="500.5" y="675.6" width="28.7" height="5.0" fill="#c67e00"/>
<rect x="528.5" y="675.6" width="29.9" height="5.0" fill="#c67e00"/>
<rect x="557.8" y="675.6" width="29.9" height="5.0" fill="#c67e00"/>
<rect x="587.1" y="675.6" width="27.5" height="5.0" fill="#c67e00"/>
<rect x="614.0" y="675.6" width="27.9" height="5.0" fill="#c67e00"/>
<rect x="641.3" y="675.6" width="28.2" height="5.0" fill="#c67e00"/>
<rect x="668.9" y="675.6" width="28.7" height="5.0" fill="#c67e00"/>
<rect x="697.0" y="675.6" width="29.9" height="5.0" fill="#c67e00"/>
<rect x="726.3" y="675.6" width="29.9" height="5.0" fill="#c67e00"/>
<rect x="755.6" y="675.6" width="31.1" height="5.0" fill="#c77e00"/>
<rect x="786.1" y="675.6" width="7.9" height="5.0" fill="#c77e00"/>
<rect x="793.5" y="675.6" width="12.2" height="5.0" fill="#c77e00"/>
<rect x="805.1" y="675.6" width="12.2" height="5.0" fill="#c77f00"/>
<rect x="816.7" y="675.6" width="16.5" height="5.0" fill="#c77f01"/>
<rect x="832.5" y="675.6" width="16.5" height="5.0" fill="#c87f01"/>
<rect x="848.4" y="675.6" width="13.2" height="5.0" fill="#c85e01"/>
<rect x="861.0" y="675.6" width="13.2" height="5.0" fill="#c85f01"/>
<rect x="873.6" y="675.6" width="13.2" height="5.0" fill="#c85f01"/>
<rect x="886.2" y="675.6" width="14.0" height="5.0" fill="#c95f02"/>
<rect x="899.7" y="675.6" width="14.0" height="5.0" fill="#c96002"/>
<rect x="913.1" y="675.6" width="14.0" height="5.0" fill="#c96002"/>
<rect x="926.5" y="675.6" width="12.8" height="5.0" fill="#ca0303"/>
<rect x="938.7" y="675.6" width="12.8" height="5.0" fill="#ca0303"/>
<rect x="950.9" y="675.6" width="12.8" height="5.0" fill="#cb0404"/>
<rect x="963.2" y="675.6" width="17.1" height="5.0" fill="#cc0404"/>
<rect x="979.6" y="675.6" width="17.1" height="5.0" fill="#cc0505"/>
<rect x="996.1" y="675.6" width="15.9" height="5.0" fill="#cd2205"/>
<rect x="1011.4" y="675.6" width="15.9" height="5.0" fill="#ce2206"/>
<rect x="1026.6" y="675.6" width="15.9" height="5.0" fill="#cf2307"/>
<rect x="1041.9" y="675.6" width="15.9" height="5.0" fill="#d02408"/>
<rect x="1057.2" y="675.6" width="15.2" height="5.0" fill="#d02508"/>
<rect x="1071.8" y="675.6" width="15.2" height="5.0" fill="#d12509"/>
<rect x="1086.5" y="675.6" width="14.6" height="5.0" fill="#d2260a"/>
<rect x="1100.5" y="675.6" width="14.6" height="5.0" fill="#d2270a"/>
<rect x="1114.5" y="675.6" width="15.2" height="5.0" fill="#d3270b"/>
<rect x="1129.2" y="675.6" width="15.2" height="5.0" fill="#d4280c"/>
<rect x="1143.8" y="675.6" width="15.2" height="5.0" fill="#d4280c"/>
<rect x="1158.5" y="675.6" width="15.2" height="5.0" fill="#d4280c"/>
<rect x="1173.1" y="675.6" width="14.0" height="5.0" fill="#d5290c"/>
<rect x="1186.6" y="675.6" width="14.0" height="5.0" fill="#d5290d"/>
<rect x="433.6" y="594.0" width="8.4" height="45.2" fill="#09c600"/>
<rect x="433.6" y="639.2" width="8.4" height="11.8" fill="#6bc600"/>
<rect x="793.4" y="322.5" width="23.4" height="12.0" fill="#02c819"/>
<rect x="793.4" y="334.5" width="23.4" height="11.5" fill="#02c87b"/>
<rect x="845.7" y="311.0" width="4.8" height="34.5" fill="#0dca04"/>
<rect x="614.0" y="322.5" width="27.4" height="12.0" fill="#00c6ba"/>
<rect x="614.0" y="334.5" width="27.4" height="11.5" fill="#002fc6"/>
<rect x="641.3" y="322.5" width="27.7" height="12.0" fill="#00c679"/>
<rect x="641.3" y="334.5" width="27.7" height="11.5" fill="#0070c6"/>
<rect x="128.1" y="627.5" width="12.5" height="11.7" fill="#c6bf00"/>
<rect x="128.1" y="639.2" width="12.5" height="11.8" fill="#c69e00"/>
<rect x="817.0" y="661.5" width="70.0" height="2.1" fill="#aec801"/>
<rect x="697.0" y="663.4" width="120.0" height="2.8" fill="#0ac700"/>
<rect x="614.0" y="651.0" width="17.0" height="4.0" fill="#09c600"/>
<rect x="614.0" y="655.0" width="17.0" height="5.6" fill="#c6bf00"/>
<rect x="614.0" y="660.6" width="14.0" height="14.9" fill="#c69e00"/>
<rect x="628.0" y="662.0" width="13.4" height="13.5" fill="#c65d00"/>
<rect x="1200.0" y="307.0" width="14.3" height="8.3" fill="#32fa8b"/>
<rect x="1200.0" y="314.8" width="14.3" height="8.3" fill="#33fb8c"/>
<rect x="1213.7" y="307.0" width="14.3" height="8.3" fill="#31fa8b"/>
<rect x="1213.7" y="314.8" width="14.3" height="8.3" fill="#33fb8c"/>
<rect x="1227.3" y="307.0" width="14.4" height="8.3" fill="#31f98a"/>
<rect x="1227.3" y="314.8" width="14.4" height="8.3" fill="#32fa8b"/>
<rect x="1241.1" y="307.0" width="14.4" height="8.3" fill="#2ff889"/>
<rect x="1241.1" y="314.8" width="14.4" height="8.3" fill="#31f98a"/>
<rect x="1254.9" y="307.0" width="14.6" height="8.3" fill="#2ef687"/>
<rect x="1254.9" y="314.8" width="14.6" height="8.3" fill="#2ff788"/>
<rect x="1269.0" y="307.0" width="14.6" height="8.3" fill="#2cf485"/>
<rect x="1269.0" y="314.8" width="14.6" height="8.3" fill="#2df586"/>
<rect x="1283.0" y="307.0" width="15.2" height="8.3" fill="#2af283"/>
<rect x="1283.0" y="314.8" width="15.2" height="8.3" fill="#2bf384"/>
<rect x="1297.7" y="307.0" width="15.2" height="8.3" fill="#27ef81"/>
<rect x="1297.7" y="314.8" width="15.2" height="8.3" fill="#28f081"/>
<rect x="1312.3" y="307.0" width="15.2" height="8.3" fill="#25ed5d"/>
<rect x="1312.3" y="314.8" width="15.2" height="8.3" fill="#25ed5e"/>
<rect x="1327.0" y="307.0" width="15.2" height="8.3" fill="#22ea5a"/>
<rect x="1327.0" y="314.8" width="15.2" height="8.3" fill="#23ea5b"/>
<rect x="1341.6" y="307.0" width="15.9" height="8.3" fill="#1fe778"/>
<rect x="1341.6" y="314.8" width="15.9" height="8.3" fill="#20e779"/>
<rect x="1356.9" y="307.0" width="15.9" height="8.3" fill="#1ce475"/>
<rect x="1356.9" y="314.8" width="15.9" height="8.3" fill="#1ce476"/>
<rect x="1372.1" y="307.0" width="7.9" height="8.3" fill="#1ae173"/>
<rect x="1372.1" y="314.8" width="7.9" height="8.3" fill="#1ae273"/>
<rect x="1379.5" y="307.0" width="12.2" height="8.3" fill="#18df50"/>
<rect x="1379.5" y="314.8" width="12.2" height="8.3" fill="#18e051"/>
<rect x="1391.1" y="307.0" width="12.2" height="8.3" fill="#16dd4e"/>
<rect x="1391.1" y="314.8" width="12.2" height="8.3" fill="#16de4e"/>
<rect x="1402.7" y="307.0" width="16.5" height="8.3" fill="#13db8d"/>
<rect x="1402.7" y="314.8" width="16.5" height="8.3" fill="#14db8d"/>
<rect x="1418.5" y="307.0" width="16.5" height="8.3" fill="#10d88a"/>
<rect x="1418.5" y="314.8" width="16.5" height="8.3" fill="#11d88b"/>
<rect x="1434.4" y="307.0" width="13.2" height="8.3" fill="#0ed667"/>
<rect x="1434.4" y="314.8" width="13.2" height="8.3" fill="#0fd668"/>
<rect x="1447.0" y="307.0" width="13.2" height="8.3" fill="#0cd465"/>
<rect x="1447.0" y="314.8" width="13.2" height="8.3" fill="#0dd466"/>
<rect x="1459.6" y="307.0" width="13.2" height="8.3" fill="#0bd264"/>
<rect x="1459.6" y="314.8" width="13.2" height="8.3" fill="#0bd264"/>
<rect x="1472.2" y="307.0" width="14.0" height="8.3" fill="#09d041"/>
<rect x="1472.2" y="314.8" width="14.0" height="8.3" fill="#09d142"/>
<rect x="1485.7" y="307.0" width="14.0" height="8.3" fill="#08cf40"/>
<rect x="1485.7" y="314.8" width="14.0" height="8.3" fill="#08cf40"/>
<rect x="1499.1" y="307.0" width="14.0" height="8.3" fill="#07ce3f"/>
<rect x="1499.1" y="314.8" width="14.0" height="8.3" fill="#07ce3f"/>
<rect x="1512.5" y="307.0" width="12.8" height="8.3" fill="#06cd1d"/>
<rect x="1512.5" y="314.8" width="12.8" height="8.3" fill="#06cd1d"/>
<rect x="1524.7" y="307.0" width="12.8" height="8.3" fill="#05cc1c"/>
<rect x="1524.7" y="314.8" width="12.8" height="8.3" fill="#05cc1c"/>
<rect x="1536.9" y="307.0" width="12.8" height="8.3" fill="#04cb1b"/>
<rect x="1536.9" y="314.8" width="12.8" height="8.3" fill="#04cb1b"/>
<rect x="1549.2" y="307.0" width="17.1" height="8.3" fill="#03ca1a"/>
<rect x="1549.2" y="314.8" width="17.1" height="8.3" fill="#03ca1a"/>
<rect x="1565.6" y="307.0" width="17.1" height="8.3" fill="#02c91a"/>
<rect x="1565.6" y="314.8" width="17.1" height="8.3" fill="#02c91a"/>
<rect x="1582.1" y="307.0" width="15.9" height="8.3" fill="#02c819"/>
<rect x="1582.1" y="314.8" width="15.9" height="8.3" fill="#02c919"/>
<rect x="1597.4" y="307.0" width="15.9" height="8.3" fill="#01c819"/>
<rect x="1597.4" y="314.8" width="15.9" height="8.3" fill="#01c819"/>
<rect x="1612.6" y="307.0" width="31.1" height="16.1" fill="#01c718"/>
<rect x="1643.2" y="307.0" width="29.9" height="16.1" fill="#01c718"/>
<rect x="1672.5" y="307.0" width="28.7" height="16.1" fill="#0ac700"/>
<rect x="1700.5" y="307.0" width="29.9" height="16.1" fill="#2ac600"/>
<rect x="1729.8" y="307.0" width="29.9" height="16.1" fill="#6bc600"/>
<rect x="1759.1" y="307.0" width="27.5" height="16.1" fill="#2ac600"/>
<rect x="1786.0" y="307.0" width="27.9" height="16.1" fill="#09c600"/>
<rect x="1813.3" y="307.0" width="28.2" height="16.1" fill="#09c600"/>
<rect x="1840.9" y="307.0" width="28.7" height="16.1" fill="#09c600"/>
<rect x="1869.0" y="307.0" width="29.9" height="16.1" fill="#09c600"/>
<rect x="1898.3" y="307.0" width="29.9" height="16.1" fill="#00c617"/>
<rect x="1927.6" y="307.0" width="31.1" height="16.1" fill="#00c617"/>
<rect x="1958.1" y="307.0" width="7.9" height="16.1" fill="#00c617"/>
<rect x="1965.5" y="307.0" width="23.8" height="16.1" fill="#00c617"/>
<rect x="1988.7" y="307.0" width="32.3" height="16.1" fill="#00c658"/>
<rect x="2020.4" y="307.0" width="38.4" height="16.1" fill="#00c658"/>
<rect x="2058.2" y="307.0" width="40.9" height="16.1" fill="#00c658"/>
<rect x="2098.5" y="307.0" width="37.2" height="16.1" fill="#00c658"/>
<rect x="2135.2" y="307.0" width="33.6" height="16.1" fill="#00c679"/>
<rect x="2168.1" y="307.0" width="31.1" height="16.1" fill="#00c638"/>
<rect x="2198.6" y="307.0" width="31.1" height="16.1" fill="#00c679"/>
<rect x="2229.2" y="307.0" width="29.9" height="16.1" fill="#00c658"/>
<rect x="2258.5" y="307.0" width="28.7" height="16.1" fill="#00c658"/>
<rect x="2286.5" y="307.0" width="29.9" height="16.1" fill="#00c679"/>
<rect x="2315.8" y="307.0" width="29.9" height="16.1" fill="#00c658"/>
<rect x="2345.1" y="307.0" width="27.5" height="16.1" fill="#00c679"/>
<rect x="1200.0" y="322.5" width="14.3" height="12.3" fill="#34fd6d"/>
<rect x="1200.0" y="334.2" width="14.3" height="12.3" fill="#36fe6e"/>
<rect x="1213.7" y="322.5" width="14.3" height="12.3" fill="#34fc6c"/>
<rect x="1213.7" y="334.2" width="14.3" height="12.3" fill="#35fe6e"/>
<rect x="1227.3" y="322.5" width="14.4" height="12.3" fill="#33fb6b"/>
<rect x="1227.3" y="334.2" width="14.4" height="12.3" fill="#34fd6d"/>
<rect x="1241.1" y="322.5" width="14.4" height="12.3" fill="#32fa6a"/>
<rect x="1241.1" y="334.2" width="14.4" height="12.3" fill="#33fb6c"/>
<rect x="1254.9" y="322.5" width="14.6" height="12.3" fill="#30f88a"/>
<rect x="1254.9" y="334.2" width="14.6" height="12.3" fill="#32fa8b"/>
<rect x="1269.0" y="322.5" width="14.6" height="12.3" fill="#2ef688"/>
<rect x="1269.0" y="334.2" width="14.6" height="12.3" fill="#30f889"/>
<rect x="1283.0" y="322.5" width="15.2" height="12.3" fill="#2cf485"/>
<rect x="1283.0" y="334.2" width="15.2" height="12.3" fill="#2df586"/>
<rect x="1297.7" y="322.5" width="15.2" height="12.3" fill="#29f183"/>
<rect x="1297.7" y="334.2" width="15.2" height="12.3" fill="#2af284"/>
<rect x="1312.3" y="322.5" width="15.2" height="12.3" fill="#26eea1"/>
<rect x="1312.3" y="334.2" width="15.2" height="12.3" fill="#28efa2"/>
<rect x="1327.0" y="322.5" width="15.2" height="12.3" fill="#23eb9e"/>
<rect x="1327.0" y="334.2" width="15.2" height="12.3" fill="#24ec9f"/>
<rect x="1341.6" y="322.5" width="15.9" height="12.3" fill="#20e89a"/>
<rect x="1341.6" y="334.2" width="15.9" height="12.3" fill="#21e99b"/>
<rect x="1356.9" y="322.5" width="15.9" height="12.3" fill="#1de597"/>
<rect x="1356.9" y="334.2" width="15.9" height="12.3" fill="#1ee698"/>
<rect x="1372.1" y="322.5" width="7.9" height="12.3" fill="#1be374"/>
<rect x="1372.1" y="334.2" width="7.9" height="12.3" fill="#1ce375"/>
<rect x="1379.5" y="322.5" width="12.2" height="12.3" fill="#19e172"/>
<rect x="1379.5" y="334.2" width="12.2" height="12.3" fill="#1ae173"/>
<rect x="1391.1" y="322.5" width="12.2" height="12.3" fill="#17de70"/>
<rect x="1391.1" y="334.2" width="12.2" height="12.3" fill="#17df70"/>
<rect x="1402.7" y="322.5" width="16.5" height="12.3" fill="#14dc8e"/>
<rect x="1402.7" y="334.2" width="16.5" height="12.3" fill="#15dc8f"/>
<rect x="1418.5" y="322.5" width="16.5" height="12.3" fill="#11d98b"/>
<rect x="1418.5" y="334.2" width="16.5" height="12.3" fill="#12d98c"/>
<rect x="1434.4" y="322.5" width="13.2" height="12.3" fill="#0fd668"/>
<rect x="1434.4" y="334.2" width="13.2" height="12.3" fill="#0fd768"/>
<rect x="1447.0" y="322.5" width="13.2" height="12.3" fill="#0dd466"/>
<rect x="1447.0" y="334.2" width="13.2" height="12.3" fill="#0dd566"/>
<rect x="1459.6" y="322.5" width="13.2" height="12.3" fill="#0bd364"/>
<rect x="1459.6" y="334.2" width="13.2" height="12.3" fill="#0cd365"/>
<rect x="1472.2" y="322.5" width="14.0" height="12.3" fill="#0ad163"/>
<rect x="1472.2" y="334.2" width="14.0" height="12.3" fill="#0ad163"/>
<rect x="1485.7" y="322.5" width="14.0" height="12.3" fill="#08cf61"/>
<rect x="1485.7" y="334.2" width="14.0" height="12.3" fill="#08d061"/>
<rect x="1499.1" y="322.5" width="14.0" height="12.3" fill="#07ce60"/>
<rect x="1499.1" y="334.2" width="14.0" height="12.3" fill="#07ce60"/>
<rect x="1512.5" y="322.5" width="12.8" height="12.3" fill="#06cd3e"/>
<rect x="1512.5" y="334.2" width="12.8" height="12.3" fill="#06cd3e"/>
<rect x="1524.7" y="322.5" width="12.8" height="12.3" fill="#05cc3d"/>
<rect x="1524.7" y="334.2" width="12.8" height="12.3" fill="#05cc3d"/>
<rect x="1536.9" y="322.5" width="12.8" height="12.3" fill="#04cb3c"/>
<rect x="1536.9" y="334.2" width="12.8" height="12.3" fill="#04cb3c"/>
<rect x="1549.2" y="322.5" width="17.1" height="12.3" fill="#03ca1b"/>
<rect x="1549.2" y="334.2" width="17.1" height="12.3" fill="#03ca1b"/>
<rect x="1565.6" y="322.5" width="17.1" height="12.3" fill="#03c91a"/>
<rect x="1565.6" y="334.2" width="17.1" height="12.3" fill="#03c91a"/>
<rect x="1582.1" y="322.5" width="15.9" height="12.3" fill="#02c93a"/>
<rect x="1582.1" y="334.2" width="15.9" height="12.3" fill="#02c93a"/>
<rect x="1597.4" y="322.5" width="15.9" height="12.3" fill="#02c839"/>
<rect x="1597.4" y="334.2" width="15.9" height="12.3" fill="#02c839"/>
<rect x="1612.6" y="322.5" width="31.1" height="24.1" fill="#0ac701"/>
<rect x="1643.2" y="322.5" width="29.9" height="24.1" fill="#01c718"/>
<rect x="1672.5" y="322.5" width="28.7" height="24.1" fill="#00c717"/>
<rect x="1700.5" y="322.5" width="29.9" height="24.1" fill="#00c617"/>
<rect x="1729.8" y="322.5" width="29.9" height="24.1" fill="#00c617"/>
<rect x="1759.1" y="322.5" width="27.5" height="24.1" fill="#0091c6"/>
<rect x="1786.0" y="322.5" width="27.9" height="24.1" fill="#0091c6"/>
<rect x="1813.3" y="322.5" width="28.2" height="24.1" fill="#0091c6"/>
<rect x="1840.9" y="322.5" width="28.7" height="24.1" fill="#00c6ba"/>
<rect x="1869.0" y="322.5" width="29.9" height="24.1" fill="#00c6ba"/>
<rect x="1898.3" y="322.5" width="29.9" height="24.1" fill="#00b1c6"/>
<rect x="1927.6" y="322.5" width="31.1" height="24.1" fill="#00b1c6"/>
<rect x="1958.1" y="322.5" width="7.9" height="24.1" fill="#00c6ba"/>
<rect x="1965.5" y="322.5" width="23.8" height="24.1" fill="#00c638"/>
<rect x="1988.7" y="322.5" width="32.3" height="24.1" fill="#00c6ba"/>
<rect x="2020.4" y="322.5" width="38.4" height="24.1" fill="#00c6ba"/>
<rect x="2058.2" y="322.5" width="40.9" height="24.1" fill="#00c679"/>
<rect x="2098.5" y="322.5" width="37.2" height="24.1" fill="#00c679"/>
<rect x="2135.2" y="322.5" width="33.6" height="24.1" fill="#00c679"/>
<rect x="2168.1" y="322.5" width="31.1" height="24.1" fill="#00c638"/>
<rect x="2198.6" y="322.5" width="31.1" height="24.1" fill="#00c679"/>
<rect x="2229.2" y="322.5" width="29.9" height="24.1" fill="#00c679"/>
<rect x="2258.5" y="322.5" width="28.7" height="24.1" fill="#00c638"/>
<rect x="2286.5" y="322.5" width="29.9" height="24.1" fill="#00c638"/>
<rect x="2315.8" y="322.5" width="29.9" height="24.1" fill="#00c679"/>
<rect x="2345.1" y="322.5" width="27.5" height="24.1" fill="#00c679"/>
<rect x="1200.0" y="346.0" width="14.3" height="12.1" fill="#37ff90"/>
<rect x="1200.0" y="357.5" width="14.3" height="12.1" fill="#38ff91"/>
<rect x="1213.7" y="346.0" width="14.3" height="12.1" fill="#37ff90"/>
<rect x="1213.7" y="357.5" width="14.3" height="12.1" fill="#37ff91"/>
<rect x="1227.3" y="346.0" width="14.4" height="12.1" fill="#36fe8f"/>
<rect x="1227.3" y="357.5" width="14.4" height="12.1" fill="#37ff90"/>
<rect x="1241.1" y="346.0" width="14.4" height="12.1" fill="#34fc8e"/>
<rect x="1241.1" y="357.5" width="14.4" height="12.1" fill="#35fd8f"/>
<rect x="1254.9" y="346.0" width="14.6" height="12.1" fill="#33fbce"/>
<rect x="1254.9" y="357.5" width="14.6" height="12.1" fill="#33fccf"/>
<rect x="1269.0" y="346.0" width="14.6" height="12.1" fill="#31f9cc"/>
<rect x="1269.0" y="357.5" width="14.6" height="12.1" fill="#31f9cd"/>
<rect x="1283.0" y="346.0" width="15.2" height="12.1" fill="#2ef6c9"/>
<rect x="1283.0" y="357.5" width="15.2" height="12.1" fill="#2ff7ca"/>
<rect x="1297.7" y="346.0" width="15.2" height="12.1" fill="#2bf3c6"/>
<rect x="1297.7" y="357.5" width="15.2" height="12.1" fill="#2cf4c7"/>
<rect x="1312.3" y="346.0" width="15.2" height="12.1" fill="#28f0a3"/>
<rect x="1312.3" y="357.5" width="15.2" height="12.1" fill="#29f1a3"/>
<rect x="1327.0" y="346.0" width="15.2" height="12.1" fill="#25ed9f"/>
<rect x="1327.0" y="357.5" width="15.2" height="12.1" fill="#26eea0"/>
<rect x="1341.6" y="346.0" width="15.9" height="12.1" fill="#22ea9c"/>
<rect x="1341.6" y="357.5" width="15.9" height="12.1" fill="#23ea9d"/>
<rect x="1356.9" y="346.0" width="15.9" height="12.1" fill="#1fe699"/>
<rect x="1356.9" y="357.5" width="15.9" height="12.1" fill="#1fe799"/>
<rect x="1372.1" y="346.0" width="7.9" height="12.1" fill="#1ce475"/>
<rect x="1372.1" y="357.5" width="7.9" height="12.1" fill="#1de476"/>
<rect x="1379.5" y="346.0" width="12.2" height="12.1" fill="#1ae273"/>
<rect x="1379.5" y="357.5" width="12.2" height="12.1" fill="#1be274"/>
<rect x="1391.1" y="346.0" width="12.2" height="12.1" fill="#18df71"/>
<rect x="1391.1" y="357.5" width="12.2" height="12.1" fill="#18e071"/>
<rect x="1402.7" y="346.0" width="16.5" height="12.1" fill="#15dd6e"/>
<rect x="1402.7" y="357.5" width="16.5" height="12.1" fill="#15dd6e"/>
<rect x="1418.5" y="346.0" width="16.5" height="12.1" fill="#12da6b"/>
<rect x="1418.5" y="357.5" width="16.5" height="12.1" fill="#12da6b"/>
<rect x="1434.4" y="346.0" width="13.2" height="12.1" fill="#10d748"/>
<rect x="1434.4" y="357.5" width="13.2" height="12.1" fill="#10d748"/>
<rect x="1447.0" y="346.0" width="13.2" height="12.1" fill="#0ed546"/>
<rect x="1447.0" y="357.5" width="13.2" height="12.1" fill="#0ed546"/>
<rect x="1459.6" y="346.0" width="13.2" height="12.1" fill="#0cd344"/>
<rect x="1459.6" y="357.5" width="13.2" height="12.1" fill="#0cd344"/>
<rect x="1472.2" y="346.0" width="14.0" height="12.1" fill="#0ad122"/>
<rect x="1472.2" y="357.5" width="14.0" height="12.1" fill="#0ad222"/>
<rect x="1485.7" y="346.0" width="14.0" height="12.1" fill="#09d020"/>
<rect x="1485.7" y="357.5" width="14.0" height="12.1" fill="#09d020"/>
<rect x="1499.1" y="346.0" width="14.0" height="12.1" fill="#07ce1f"/>
<rect x="1499.1" y="357.5" width="14.0" height="12.1" fill="#07ce1f"/>
<rect x="1512.5" y="346.0" width="12.8" height="12.1" fill="#10cd06"/>
<rect x="1512.5" y="357.5" width="12.8" height="12.1" fill="#10cd06"/>
<rect x="1524.7" y="346.0" width="12.8" height="12.1" fill="#0fcc05"/>
<rect x="1524.7" y="357.5" width="12.8" height="12.1" fill="#0fcc05"/>
<rect x="1536.9" y="346.0" width="12.8" height="12.1" fill="#0ecb04"/>
<rect x="1536.9" y="357.5" width="12.8" height="12.1" fill="#0ecb04"/>
<rect x="1549.2" y="346.0" width="17.1" height="12.1" fill="#0dca03"/>
<rect x="1549.2" y="357.5" width="17.1" height="12.1" fill="#0dca04"/>
<rect x="1565.6" y="346.0" width="17.1" height="12.1" fill="#0cc903"/>
<rect x="1565.6" y="357.5" width="17.1" height="12.1" fill="#0cc903"/>
<rect x="1582.1" y="346.0" width="15.9" height="12.1" fill="#0cc902"/>
<rect x="1582.1" y="357.5" width="15.9" height="12.1" fill="#0cc902"/>
<rect x="1597.4" y="346.0" width="15.9" height="12.1" fill="#0bc802"/>
<rect x="1597.4" y="357.5" width="15.9" height="12.1" fill="#0bc802"/>
<rect x="1612.6" y="346.0" width="31.1" height="23.6" fill="#0bc701"/>
<rect x="1643.2" y="346.0" width="29.9" height="23.6" fill="#012fc7"/>
<rect x="1672.5" y="346.0" width="28.7" height="23.6" fill="#0050c7"/>
<rect x="1700.5" y="346.0" width="29.9" height="23.6" fill="#0091c6"/>
<rect x="1729.8" y="346.0" width="29.9" height="23.6" fill="#0070c6"/>
<rect x="1759.1" y="346.0" width="27.5" height="23.6" fill="#004fc6"/>
<rect x="1786.0" y="346.0" width="27.9" height="23.6" fill="#002fc6"/>
<rect x="1813.3" y="346.0" width="28.2" height="23.6" fill="#004fc6"/>
<rect x="1840.9" y="346.0" width="28.7" height="23.6" fill="#0070c6"/>
<rect x="1869.0" y="346.0" width="29.9" height="23.6" fill="#0070c6"/>
<rect x="1898.3" y="346.0" width="29.9" height="23.6" fill="#0090c6"/>
<rect x="1927.6" y="346.0" width="31.1" height="23.6" fill="#0090c6"/>
<rect x="1958.1" y="346.0" width="7.9" height="23.6" fill="#00c6ba"/>
<rect x="1965.5" y="346.0" width="23.8" height="23.6" fill="#00c679"/>
<rect x="1988.7" y="346.0" width="32.3" height="23.6" fill="#00c679"/>
<rect x="2020.4" y="346.0" width="38.4" height="23.6" fill="#00c6ba"/>
<rect x="2058.2" y="346.0" width="40.9" height="23.6" fill="#00c638"/>
<rect x="2098.5" y="346.0" width="37.2" height="23.6" fill="#00c699"/>
<rect x="2135.2" y="346.0" width="33.6" height="23.6" fill="#00c658"/>
<rect x="2168.1" y="346.0" width="31.1" height="23.6" fill="#00c658"/>
<rect x="2198.6" y="346.0" width="31.1" height="23.6" fill="#00c699"/>
<rect x="2229.2" y="346.0" width="29.9" height="23.6" fill="#00c699"/>
<rect x="2258.5" y="346.0" width="28.7" height="23.6" fill="#00c679"/>
<rect x="2286.5" y="346.0" width="29.9" height="23.6" fill="#00c679"/>
<rect x="2315.8" y="346.0" width="29.9" height="23.6" fill="#00c679"/>
<rect x="2345.1" y="346.0" width="27.5" height="23.6" fill="#00c679"/>
<rect x="1200.0" y="369.0" width="14.3" height="11.6" fill="#38fff5"/>
<rect x="1200.0" y="380.0" width="14.3" height="11.6" fill="#39fff5"/>
<rect x="1213.7" y="369.0" width="14.3" height="11.6" fill="#38fff4"/>
<rect x="1213.7" y="380.0" width="14.3" height="11.6" fill="#38fff5"/>
<rect x="1227.3" y="369.0" width="14.4" height="11.6" fill="#37fff3"/>
<rect x="1227.3" y="380.0" width="14.4" height="11.6" fill="#37fff4"/>
<rect x="1241.1" y="369.0" width="14.4" height="11.6" fill="#36fef2"/>
<rect x="1241.1" y="380.0" width="14.4" height="11.6" fill="#36fef2"/>
<rect x="1254.9" y="369.0" width="14.6" height="11.6" fill="#34fcf0"/>
<rect x="1254.9" y="380.0" width="14.6" height="11.6" fill="#34fcf1"/>
<rect x="1269.0" y="369.0" width="14.6" height="11.6" fill="#32faee"/>
<rect x="1269.0" y="380.0" width="14.6" height="11.6" fill="#32faee"/>
<rect x="1283.0" y="369.0" width="15.2" height="11.6" fill="#2ff7cb"/>
<rect x="1283.0" y="380.0" width="15.2" height="11.6" fill="#30f8cb"/>
<rect x="1297.7" y="369.0" width="15.2" height="11.6" fill="#2df5c8"/>
<rect x="1297.7" y="380.0" width="15.2" height="11.6" fill="#2df5c8"/>
<rect x="1312.3" y="369.0" width="15.2" height="11.6" fill="#29f1a4"/>
<rect x="1312.3" y="380.0" width="15.2" height="11.6" fill="#2af2a4"/>
<rect x="1327.0" y="369.0" width="15.2" height="11.6" fill="#26eea0"/>
<rect x="1327.0" y="380.0" width="15.2" height="11.6" fill="#27eea1"/>
<rect x="1341.6" y="369.0" width="15.9" height="11.6" fill="#23eb9d"/>
<rect x="1341.6" y="380.0" width="15.9" height="11.6" fill="#23eb9d"/>
<rect x="1356.9" y="369.0" width="15.9" height="11.6" fill="#1fe79a"/>
<rect x="1356.9" y="380.0" width="15.9" height="11.6" fill="#20e79a"/>
<rect x="1372.1" y="369.0" width="7.9" height="11.6" fill="#1de576"/>
<rect x="1372.1" y="380.0" width="7.9" height="11.6" fill="#1de576"/>
<rect x="1379.5" y="369.0" width="12.2" height="11.6" fill="#1be353"/>
<rect x="1379.5" y="380.0" width="12.2" height="11.6" fill="#1be353"/>
<rect x="1391.1" y="369.0" width="12.2" height="11.6" fill="#18e051"/>
<rect x="1391.1" y="380.0" width="12.2" height="11.6" fill="#19e051"/>
<rect x="1402.7" y="369.0" width="16.5" height="11.6" fill="#16dd4e"/>
<rect x="1402.7" y="380.0" width="16.5" height="11.6" fill="#16dd4e"/>
<rect x="1418.5" y="369.0" width="16.5" height="11.6" fill="#13da4b"/>
<rect x="1418.5" y="380.0" width="16.5" height="11.6" fill="#13da4b"/>
<rect x="1434.4" y="369.0" width="13.2" height="11.6" fill="#10d827"/>
<rect x="1434.4" y="380.0" width="13.2" height="11.6" fill="#10d828"/>
<rect x="1447.0" y="369.0" width="13.2" height="11.6" fill="#0ed525"/>
<rect x="1447.0" y="380.0" width="13.2" height="11.6" fill="#0ed626"/>
<rect x="1459.6" y="369.0" width="13.2" height="11.6" fill="#0cd424"/>
<rect x="1459.6" y="380.0" width="13.2" height="11.6" fill="#0cd424"/>
<rect x="1472.2" y="369.0" width="14.0" height="11.6" fill="#0bd222"/>
<rect x="1472.2" y="380.0" width="14.0" height="11.6" fill="#0bd222"/>
<rect x="1485.7" y="369.0" width="14.0" height="11.6" fill="#09d020"/>
<rect x="1485.7" y="380.0" width="14.0" height="11.6" fill="#09d020"/>
<rect x="1499.1" y="369.0" width="14.0" height="11.6" fill="#07cf1f"/>
<rect x="1499.1" y="380.0" width="14.0" height="11.6" fill="#08cf1f"/>
<rect x="1512.5" y="369.0" width="12.8" height="11.6" fill="#06cd1e"/>
<rect x="1512.5" y="380.0" width="12.8" height="11.6" fill="#06cd1e"/>
<rect x="1524.7" y="369.0" width="12.8" height="11.6" fill="#05cc1d"/>
<rect x="1524.7" y="380.0" width="12.8" height="11.6" fill="#05cc1d"/>
<rect x="1536.9" y="369.0" width="12.8" height="11.6" fill="#04cb1c"/>
<rect x="1536.9" y="380.0" width="12.8" height="11.6" fill="#04cb1c"/>
<rect x="1549.2" y="369.0" width="17.1" height="11.6" fill="#0453ca"/>
<rect x="1549.2" y="380.0" width="17.1" height="11.6" fill="#0453ca"/>
<rect x="1565.6" y="369.0" width="17.1" height="11.6" fill="#0352c9"/>
<rect x="1565.6" y="380.0" width="17.1" height="11.6" fill="#0352c9"/>
<rect x="1582.1" y="369.0" width="15.9" height="11.6" fill="#0231c9"/>
<rect x="1582.1" y="380.0" width="15.9" height="11.6" fill="#0231c9"/>
<rect x="1597.4" y="369.0" width="15.9" height="11.6" fill="#0231c8"/>
<rect x="1597.4" y="380.0" width="15.9" height="11.6" fill="#0231c8"/>
<rect x="1612.6" y="369.0" width="31.1" height="22.6" fill="#0171c8"/>
<rect x="1643.2" y="369.0" width="29.9" height="22.6" fill="#0171c7"/>
<rect x="1672.5" y="369.0" width="28.7" height="22.6" fill="#0050c7"/>
<rect x="1700.5" y="369.0" width="29.9" height="22.6" fill="#0050c6"/>
<rect x="1729.8" y="369.0" width="29.9" height="22.6" fill="#002fc6"/>
<rect x="1759.1" y="369.0" width="27.5" height="22.6" fill="#002fc6"/>
<rect x="1786.0" y="369.0" width="27.9" height="22.6" fill="#004fc6"/>
<rect x="1813.3" y="369.0" width="28.2" height="22.6" fill="#004fc6"/>
<rect x="1840.9" y="369.0" width="28.7" height="22.6" fill="#0070c6"/>
<rect x="1869.0" y="369.0" width="29.9" height="22.6" fill="#0070c6"/>
<rect x="1898.3" y="369.0" width="29.9" height="22.6" fill="#0090c6"/>
<rect x="1927.6" y="369.0" width="31.1" height="22.6" fill="#0090c6"/>
<rect x="1958.1" y="369.0" width="7.9" height="22.6" fill="#00c6ba"/>
<rect x="1965.5" y="369.0" width="23.8" height="22.6" fill="#0070c6"/>
<rect x="1988.7" y="369.0" width="32.3" height="22.6" fill="#0070c6"/>
<rect x="2020.4" y="369.0" width="38.4" height="22.6" fill="#00c6ba"/>
<rect x="2058.2" y="369.0" width="40.9" height="22.6" fill="#00b1c6"/>
<rect x="2098.5" y="369.0" width="37.2" height="22.6" fill="#00c6ba"/>
<rect x="2135.2" y="369.0" width="33.6" height="22.6" fill="#00b1c6"/>
<rect x="2168.1" y="369.0" width="31.1" height="22.6" fill="#00b1c6"/>
<rect x="2198.6" y="369.0" width="31.1" height="22.6" fill="#00b1c6"/>
<rect x="2229.2" y="369.0" width="29.9" height="22.6" fill="#00b1c6"/>
<rect x="2258.5" y="369.0" width="28.7" height="22.6" fill="#00b1c6"/>
<rect x="2286.5" y="369.0" width="29.9" height="22.6" fill="#00b1c6"/>
<rect x="2315.8" y="369.0" width="29.9" height="22.6" fill="#00c6ba"/>
<rect x="2345.1" y="369.0" width="27.5" height="22.6" fill="#00c6ba"/>
<rect x="1200.0" y="391.0" width="14.3" height="12.1" fill="#39fff5"/>
<rect x="1200.0" y="402.5" width="14.3" height="12.1" fill="#39fff5"/>
<rect x="1213.7" y="391.0" width="14.3" height="12.1" fill="#38fff5"/>
<rect x="1213.7" y="402.5" width="14.3" height="12.1" fill="#38fff5"/>
<rect x="1227.3" y="391.0" width="14.4" height="12.1" fill="#38ffd3"/>
<rect x="1227.3" y="402.5" width="14.4" height="12.1" fill="#37ffd3"/>
<rect x="1241.1" y="391.0" width="14.4" height="12.1" fill="#36fed1"/>
<rect x="1241.1" y="402.5" width="14.4" height="12.1" fill="#36fed1"/>
<rect x="1254.9" y="391.0" width="14.6" height="12.1" fill="#34fd8e"/>
<rect x="1254.9" y="402.5" width="14.6" height="12.1" fill="#34fc8e"/>
<rect x="1269.0" y="391.0" width="14.6" height="12.1" fill="#32fa8c"/>
<rect x="1269.0" y="402.5" width="14.6" height="12.1" fill="#32fa8b"/>
<rect x="1283.0" y="391.0" width="15.2" height="12.1" fill="#30f889"/>
<rect x="1283.0" y="402.5" width="15.2" height="12.1" fill="#30f889"/>
<rect x="1297.7" y="391.0" width="15.2" height="12.1" fill="#2df586"/>
<rect x="1297.7" y="402.5" width="15.2" height="12.1" fill="#2df586"/>
<rect x="1312.3" y="391.0" width="15.2" height="12.1" fill="#2af262"/>
<rect x="1312.3" y="402.5" width="15.2" height="12.1" fill="#2af262"/>
<rect x="1327.0" y="391.0" width="15.2" height="12.1" fill="#27ee5f"/>
<rect x="1327.0" y="402.5" width="15.2" height="12.1" fill="#26ee5f"/>
<rect x="1341.6" y="391.0" width="15.9" height="12.1" fill="#23eb5b"/>
<rect x="1341.6" y="402.5" width="15.9" height="12.1" fill="#23eb5b"/>
<rect x="1356.9" y="391.0" width="15.9" height="12.1" fill="#20e858"/>
<rect x="1356.9" y="402.5" width="15.9" height="12.1" fill="#20e758"/>
<rect x="1372.1" y="391.0" width="7.9" height="12.1" fill="#1de555"/>
<rect x="1372.1" y="402.5" width="7.9" height="12.1" fill="#1de555"/>
<rect x="1379.5" y="391.0" width="12.2" height="12.1" fill="#1be353"/>
<rect x="1379.5" y="402.5" width="12.2" height="12.1" fill="#1be353"/>
<rect x="1391.1" y="391.0" width="12.2" height="12.1" fill="#19e051"/>
<rect x="1391.1" y="402.5" width="12.2" height="12.1" fill="#19e051"/>
<rect x="1402.7" y="391.0" width="16.5" height="12.1" fill="#1666dd"/>
<rect x="1402.7" y="402.5" width="16.5" height="12.1" fill="#1666dd"/>
<rect x="1418.5" y="391.0" width="16.5" height="12.1" fill="#1363da"/>
<rect x="1418.5" y="402.5" width="16.5" height="12.1" fill="#1363da"/>
<rect x="1434.4" y="391.0" width="13.2" height="12.1" fill="#1060d8"/>
<rect x="1434.4" y="402.5" width="13.2" height="12.1" fill="#1060d8"/>
<rect x="1447.0" y="391.0" width="13.2" height="12.1" fill="#0e5ed6"/>
<rect x="1447.0" y="402.5" width="13.2" height="12.1" fill="#0e5ed6"/>
<rect x="1459.6" y="391.0" width="13.2" height="12.1" fill="#0c5cd4"/>
<rect x="1459.6" y="402.5" width="13.2" height="12.1" fill="#0c5cd4"/>
<rect x="1472.2" y="391.0" width="14.0" height="12.1" fill="#0b7bd2"/>
<rect x="1472.2" y="402.5" width="14.0" height="12.1" fill="#0b7bd2"/>
<rect x="1485.7" y="391.0" width="14.0" height="12.1" fill="#097ad0"/>
<rect x="1485.7" y="402.5" width="14.0" height="12.1" fill="#097ad0"/>
<rect x="1499.1" y="391.0" width="14.0" height="12.1" fill="#0878cf"/>
<rect x="1499.1" y="402.5" width="14.0" height="12.1" fill="#0878cf"/>
<rect x="1512.5" y="391.0" width="12.8" height="12.1" fill="#0656cd"/>
<rect x="1512.5" y="402.5" width="12.8" height="12.1" fill="#0656cd"/>
<rect x="1524.7" y="391.0" width="12.8" height="12.1" fill="#0555cc"/>
<rect x="1524.7" y="402.5" width="12.8" height="12.1" fill="#0555cc"/>
<rect x="1536.9" y="391.0" width="12.8" height="12.1" fill="#0454cb"/>
<rect x="1536.9" y="402.5" width="12.8" height="12.1" fill="#0454cb"/>
<rect x="1549.2" y="391.0" width="17.1" height="12.1" fill="#0453ca"/>
<rect x="1549.2" y="402.5" width="17.1" height="12.1" fill="#0453ca"/>
<rect x="1565.6" y="391.0" width="17.1" height="12.1" fill="#0352c9"/>
<rect x="1565.6" y="402.5" width="17.1" height="12.1" fill="#0352c9"/>
<rect x="1582.1" y="391.0" width="15.9" height="12.1" fill="#0231c9"/>
<rect x="1582.1" y="402.5" width="15.9" height="12.1" fill="#0231c9"/>
<rect x="1597.4" y="391.0" width="15.9" height="12.1" fill="#0231c8"/>
<rect x="1597.4" y="402.5" width="15.9" height="12.1" fill="#0231c8"/>
<rect x="1612.6" y="391.0" width="31.1" height="23.6" fill="#0171c8"/>
<rect x="1643.2" y="391.0" width="29.9" height="23.6" fill="#0171c7"/>
<rect x="1672.5" y="391.0" width="28.7" height="23.6" fill="#002fc7"/>
<rect x="1700.5" y="391.0" width="29.9" height="23.6" fill="#002fc6"/>
<rect x="1729.8" y="391.0" width="29.9" height="23.6" fill="#000ec6"/>
<rect x="1759.1" y="391.0" width="27.5" height="23.6" fill="#000ec6"/>
<rect x="1786.0" y="391.0" width="27.9" height="23.6" fill="#000ec6"/>
<rect x="1813.3" y="391.0" width="28.2" height="23.6" fill="#000ec6"/>
<rect x="1840.9" y="391.0" width="28.7" height="23.6" fill="#004fc6"/>
<rect x="1869.0" y="391.0" width="29.9" height="23.6" fill="#004fc6"/>
<rect x="1898.3" y="391.0" width="29.9" height="23.6" fill="#0070c6"/>
<rect x="1927.6" y="391.0" width="31.1" height="23.6" fill="#0070c6"/>
<rect x="1958.1" y="391.0" width="7.9" height="23.6" fill="#00c6ba"/>
<rect x="1965.5" y="391.0" width="23.8" height="23.6" fill="#0070c6"/>
<rect x="1988.7" y="391.0" width="32.3" height="23.6" fill="#0070c6"/>
<rect x="2020.4" y="391.0" width="38.4" height="23.6" fill="#0090c6"/>
<rect x="2058.2" y="391.0" width="40.9" height="23.6" fill="#004fc6"/>
<rect x="2098.5" y="391.0" width="37.2" height="23.6" fill="#0090c6"/>
<rect x="2135.2" y="391.0" width="33.6" height="23.6" fill="#004fc6"/>
<rect x="2168.1" y="391.0" width="31.1" height="23.6" fill="#004fc6"/>
<rect x="2198.6" y="391.0" width="31.1" height="23.6" fill="#0090c6"/>
<rect x="2229.2" y="391.0" width="29.9" height="23.6" fill="#0090c6"/>
<rect x="2258.5" y="391.0" width="28.7" height="23.6" fill="#0070c6"/>
<rect x="2286.5" y="391.0" width="29.9" height="23.6" fill="#0070c6"/>
<rect x="2315.8" y="391.0" width="29.9" height="23.6" fill="#0070c6"/>
<rect x="2345.1" y="391.0" width="27.5" height="23.6" fill="#00c6ba"/>
<rect x="1200.0" y="414.0" width="14.3" height="11.8" fill="#38ffd4"/>
<rect x="1200.0" y="425.2" width="14.3" height="11.8" fill="#38ffd3"/>
<rect x="1213.7" y="414.0" width="14.3" height="11.8" fill="#38ffd3"/>
<rect x="1213.7" y="425.2" width="14.3" height="11.8" fill="#37ffd2"/>
<rect x="1227.3" y="414.0" width="14.4" height="11.8" fill="#37ff6f"/>
<rect x="1227.3" y="425.2" width="14.4" height="11.8" fill="#36fe6f"/>
<rect x="1241.1" y="414.0" width="14.4" height="11.8" fill="#36fe6e"/>
<rect x="1241.1" y="425.2" width="14.4" height="11.8" fill="#35fd6d"/>
<rect x="1254.9" y="414.0" width="14.6" height="11.8" fill="#34c6fc"/>
<rect x="1254.9" y="425.2" width="14.6" height="11.8" fill="#33c5fb"/>
<rect x="1269.0" y="414.0" width="14.6" height="11.8" fill="#32c4fa"/>
<rect x="1269.0" y="425.2" width="14.6" height="11.8" fill="#31c3f9"/>
<rect x="1283.0" y="414.0" width="15.2" height="11.8" fill="#2f5ff7"/>
<rect x="1283.0" y="425.2" width="15.2" height="11.8" fill="#2f5ef7"/>
<rect x="1297.7" y="414.0" width="15.2" height="11.8" fill="#2c5cf4"/>
<rect x="1297.7" y="425.2" width="15.2" height="11.8" fill="#2c5bf4"/>
<rect x="1312.3" y="414.0" width="15.2" height="11.8" fill="#299af1"/>
<rect x="1312.3" y="425.2" width="15.2" height="11.8" fill="#299af1"/>
<rect x="1327.0" y="414.0" width="15.2" height="11.8" fill="#2697ee"/>
<rect x="1327.0" y="425.2" width="15.2" height="11.8" fill="#2697ee"/>
<rect x="1341.6" y="414.0" width="15.9" height="11.8" fill="#2394eb"/>
<rect x="1341.6" y="425.2" width="15.9" height="11.8" fill="#2293ea"/>
<rect x="1356.9" y="414.0" width="15.9" height="11.8" fill="#1f90e7"/>
<rect x="1356.9" y="425.2" width="15.9" height="11.8" fill="#1f90e7"/>
<rect x="1372.1" y="414.0" width="7.9" height="11.8" fill="#1dafe5"/>
<rect x="1372.1" y="425.2" width="7.9" height="11.8" fill="#1daee4"/>
<rect x="1379.5" y="414.0" width="12.2" height="11.8" fill="#1b6be3"/>
<rect x="1379.5" y="425.2" width="12.2" height="11.8" fill="#1a6be2"/>
<rect x="1391.1" y="414.0" width="12.2" height="11.8" fill="#1868e0"/>
<rect x="1391.1" y="425.2" width="12.2" height="11.8" fill="#1868e0"/>
<rect x="1402.7" y="414.0" width="16.5" height="11.8" fill="#1666dd"/>
<rect x="1402.7" y="425.2" width="16.5" height="11.8" fill="#1565dd"/>
<rect x="1418.5" y="414.0" width="16.5" height="11.8" fill="#1363da"/>
<rect x="1418.5" y="425.2" width="16.5" height="11.8" fill="#1262da"/>
<rect x="1434.4" y="414.0" width="13.2" height="11.8" fill="#1060d7"/>
<rect x="1434.4" y="425.2" width="13.2" height="11.8" fill="#1060d7"/>
<rect x="1447.0" y="414.0" width="13.2" height="11.8" fill="#0e5ed5"/>
<rect x="1447.0" y="425.2" width="13.2" height="11.8" fill="#0e5ed5"/>
<rect x="1459.6" y="414.0" width="13.2" height="11.8" fill="#0c5cd3"/>
<rect x="1459.6" y="425.2" width="13.2" height="11.8" fill="#0c5cd3"/>
<rect x="1472.2" y="414.0" width="14.0" height="11.8" fill="#0a7bd2"/>
<rect x="1472.2" y="425.2" width="14.0" height="11.8" fill="#0a7bd2"/>
<rect x="1485.7" y="414.0" width="14.0" height="11.8" fill="#097ad0"/>
<rect x="1485.7" y="425.2" width="14.0" height="11.8" fill="#0979d0"/>
<rect x="1499.1" y="414.0" width="14.0" height="11.8" fill="#0778ce"/>
<rect x="1499.1" y="425.2" width="14.0" height="11.8" fill="#0778ce"/>
<rect x="1512.5" y="414.0" width="12.8" height="11.8" fill="#0677cd"/>
<rect x="1512.5" y="425.2" width="12.8" height="11.8" fill="#0677cd"/>
<rect x="1524.7" y="414.0" width="12.8" height="11.8" fill="#0576cc"/>
<rect x="1524.7" y="425.2" width="12.8" height="11.8" fill="#0576cc"/>
<rect x="1536.9" y="414.0" width="12.8" height="11.8" fill="#0475cb"/>
<rect x="1536.9" y="425.2" width="12.8" height="11.8" fill="#0475cb"/>
<rect x="1549.2" y="414.0" width="17.1" height="11.8" fill="#0453ca"/>
<rect x="1549.2" y="425.2" width="17.1" height="11.8" fill="#0453ca"/>
<rect x="1565.6" y="414.0" width="17.1" height="11.8" fill="#0352c9"/>
<rect x="1565.6" y="425.2" width="17.1" height="11.8" fill="#0352c9"/>
<rect x="1582.1" y="414.0" width="15.9" height="11.8" fill="#0210c9"/>
<rect x="1582.1" y="425.2" width="15.9" height="11.8" fill="#0210c9"/>
<rect x="1597.4" y="414.0" width="15.9" height="11.8" fill="#0210c8"/>
<rect x="1597.4" y="425.2" width="15.9" height="11.8" fill="#0210c8"/>
<rect x="1612.6" y="414.0" width="31.1" height="23.1" fill="#0171c8"/>
<rect x="1643.2" y="414.0" width="29.9" height="23.1" fill="#0171c7"/>
<rect x="1672.5" y="414.0" width="28.7" height="23.1" fill="#000fc7"/>
<rect x="1700.5" y="414.0" width="29.9" height="23.1" fill="#000ec6"/>
<rect x="1729.8" y="414.0" width="29.9" height="23.1" fill="#000ec6"/>
<rect x="1759.1" y="414.0" width="27.5" height="23.1" fill="#000ec6"/>
<rect x="1786.0" y="414.0" width="27.9" height="23.1" fill="#000ec6"/>
<rect x="1813.3" y="414.0" width="28.2" height="23.1" fill="#000ec6"/>
<rect x="1840.9" y="414.0" width="28.7" height="23.1" fill="#002fc6"/>
<rect x="1869.0" y="414.0" width="29.9" height="23.1" fill="#002fc6"/>
<rect x="1898.3" y="414.0" width="29.9" height="23.1" fill="#004fc6"/>
<rect x="1927.6" y="414.0" width="31.1" height="23.1" fill="#004fc6"/>
<rect x="1958.1" y="414.0" width="7.9" height="23.1" fill="#00b1c6"/>
<rect x="1965.5" y="414.0" width="23.8" height="23.1" fill="#004fc6"/>
<rect x="1988.7" y="414.0" width="32.3" height="23.1" fill="#004fc6"/>
<rect x="2020.4" y="414.0" width="38.4" height="23.1" fill="#0090c6"/>
<rect x="2058.2" y="414.0" width="40.9" height="23.1" fill="#002fc6"/>
<rect x="2098.5" y="414.0" width="37.2" height="23.1" fill="#004fc6"/>
<rect x="2135.2" y="414.0" width="33.6" height="23.1" fill="#004fc6"/>
<rect x="2168.1" y="414.0" width="31.1" height="23.1" fill="#002fc6"/>
<rect x="2198.6" y="414.0" width="31.1" height="23.1" fill="#004fc6"/>
<rect x="2229.2" y="414.0" width="29.9" height="23.1" fill="#0070c6"/>
<rect x="2258.5" y="414.0" width="28.7" height="23.1" fill="#00b1c6"/>
<rect x="2286.5" y="414.0" width="29.9" height="23.1" fill="#00b1c6"/>
<rect x="2315.8" y="414.0" width="29.9" height="23.1" fill="#00c6ba"/>
<rect x="2345.1" y="414.0" width="27.5" height="23.1" fill="#00c6ba"/>
<rect x="1200.0" y="436.5" width="14.3" height="11.8" fill="#37a8ff"/>
<rect x="1200.0" y="447.8" width="14.3" height="11.8" fill="#35a7fe"/>
<rect x="1213.7" y="436.5" width="14.3" height="11.8" fill="#36a7fe"/>
<rect x="1213.7" y="447.8" width="14.3" height="11.8" fill="#35a6fd"/>
<rect x="1227.3" y="436.5" width="14.4" height="11.8" fill="#35c7fd"/>
<rect x="1227.3" y="447.8" width="14.4" height="11.8" fill="#34c6fc"/>
<rect x="1241.1" y="436.5" width="14.4" height="11.8" fill="#34c6fc"/>
<rect x="1241.1" y="447.8" width="14.4" height="11.8" fill="#33c5fb"/>
<rect x="1254.9" y="436.5" width="14.6" height="11.8" fill="#32c4fa"/>
<rect x="1254.9" y="447.8" width="14.6" height="11.8" fill="#31c3f9"/>
<rect x="1269.0" y="436.5" width="14.6" height="11.8" fill="#30c2f8"/>
<rect x="1269.0" y="447.8" width="14.6" height="11.8" fill="#2fc1f7"/>
<rect x="1283.0" y="436.5" width="15.2" height="11.8" fill="#2e9ff6"/>
<rect x="1283.0" y="447.8" width="15.2" height="11.8" fill="#2d9ef5"/>
<rect x="1297.7" y="436.5" width="15.2" height="11.8" fill="#2b9cf3"/>
<rect x="1297.7" y="447.8" width="15.2" height="11.8" fill="#2a9bf2"/>
<rect x="1312.3" y="436.5" width="15.2" height="11.8" fill="#2899f0"/>
<rect x="1312.3" y="447.8" width="15.2" height="11.8" fill="#2798ef"/>
<rect x="1327.0" y="436.5" width="15.2" height="11.8" fill="#2596ed"/>
<rect x="1327.0" y="447.8" width="15.2" height="11.8" fill="#2495ec"/>
<rect x="1341.6" y="436.5" width="15.9" height="11.8" fill="#2293ea"/>
<rect x="1341.6" y="447.8" width="15.9" height="11.8" fill="#2192e9"/>
<rect x="1356.9" y="436.5" width="15.9" height="11.8" fill="#1e8fe6"/>
<rect x="1356.9" y="447.8" width="15.9" height="11.8" fill="#1e8fe6"/>
<rect x="1372.1" y="436.5" width="7.9" height="11.8" fill="#1caee4"/>
<rect x="1372.1" y="447.8" width="7.9" height="11.8" fill="#1bade3"/>
<rect x="1379.5" y="436.5" width="12.2" height="11.8" fill="#1a6ae2"/>
<rect x="1379.5" y="447.8" width="12.2" height="11.8" fill="#196ae1"/>
<rect x="1391.1" y="436.5" width="12.2" height="11.8" fill="#1868df"/>
<rect x="1391.1" y="447.8" width="12.2" height="11.8" fill="#1767df"/>
<rect x="1402.7" y="436.5" width="16.5" height="11.8" fill="#1565dc"/>
<rect x="1402.7" y="447.8" width="16.5" height="11.8" fill="#1465dc"/>
<rect x="1418.5" y="436.5" width="16.5" height="11.8" fill="#1262d9"/>
<rect x="1418.5" y="447.8" width="16.5" height="11.8" fill="#1262d9"/>
<rect x="1434.4" y="436.5" width="13.2" height="11.8" fill="#1080d7"/>
<rect x="1434.4" y="447.8" width="13.2" height="11.8" fill="#0f80d7"/>
<rect x="1447.0" y="436.5" width="13.2" height="11.8" fill="#0e7ed5"/>
<rect x="1447.0" y="447.8" width="13.2" height="11.8" fill="#0d7ed5"/>
<rect x="1459.6" y="436.5" width="13.2" height="11.8" fill="#0c7dd3"/>
<rect x="1459.6" y="447.8" width="13.2" height="11.8" fill="#0c7cd3"/>
<rect x="1472.2" y="436.5" width="14.0" height="11.8" fill="#0a5ad1"/>
<rect x="1472.2" y="447.8" width="14.0" height="11.8" fill="#0a5ad1"/>
<rect x="1485.7" y="436.5" width="14.0" height="11.8" fill="#0958d0"/>
<rect x="1485.7" y="447.8" width="14.0" height="11.8" fill="#0858d0"/>
<rect x="1499.1" y="436.5" width="14.0" height="11.8" fill="#0757ce"/>
<rect x="1499.1" y="447.8" width="14.0" height="11.8" fill="#0757ce"/>
<rect x="1512.5" y="436.5" width="12.8" height="11.8" fill="#06b8cd"/>
<rect x="1512.5" y="447.8" width="12.8" height="11.8" fill="#06b8cd"/>
<rect x="1524.7" y="436.5" width="12.8" height="11.8" fill="#05b7cc"/>
<rect x="1524.7" y="447.8" width="12.8" height="11.8" fill="#05b7cc"/>
<rect x="1536.9" y="436.5" width="12.8" height="11.8" fill="#04b6cb"/>
<rect x="1536.9" y="447.8" width="12.8" height="11.8" fill="#04b6cb"/>
<rect x="1549.2" y="436.5" width="17.1" height="11.8" fill="#0332ca"/>
<rect x="1549.2" y="447.8" width="17.1" height="11.8" fill="#0332ca"/>
<rect x="1565.6" y="436.5" width="17.1" height="11.8" fill="#0332c9"/>
<rect x="1565.6" y="447.8" width="17.1" height="11.8" fill="#0332c9"/>
<rect x="1582.1" y="436.5" width="15.9" height="11.8" fill="#0231c9"/>
<rect x="1582.1" y="447.8" width="15.9" height="11.8" fill="#0231c9"/>
<rect x="1597.4" y="436.5" width="15.9" height="11.8" fill="#0231c8"/>
<rect x="1597.4" y="447.8" width="15.9" height="11.8" fill="#0230c8"/>
<rect x="1612.6" y="436.5" width="31.1" height="23.1" fill="#0171c7"/>
<rect x="1643.2" y="436.5" width="29.9" height="23.1" fill="#0171c7"/>
<rect x="1672.5" y="436.5" width="28.7" height="23.1" fill="#000fc7"/>
<rect x="1700.5" y="436.5" width="29.9" height="23.1" fill="#000ec6"/>
<rect x="1729.8" y="436.5" width="29.9" height="23.1" fill="#000ec6"/>
<rect x="1759.1" y="436.5" width="27.5" height="23.1" fill="#000ec6"/>
<rect x="1786.0" y="436.5" width="27.9" height="23.1" fill="#000ec6"/>
<rect x="1813.3" y="436.5" width="28.2" height="23.1" fill="#000ec6"/>
<rect x="1840.9" y="436.5" width="28.7" height="23.1" fill="#002fc6"/>
<rect x="1869.0" y="436.5" width="29.9" height="23.1" fill="#002fc6"/>
<rect x="1898.3" y="436.5" width="29.9" height="23.1" fill="#004fc6"/>
<rect x="1927.6" y="436.5" width="31.1" height="23.1" fill="#002fc6"/>
<rect x="1958.1" y="436.5" width="7.9" height="23.1" fill="#0090c6"/>
<rect x="1965.5" y="436.5" width="23.8" height="23.1" fill="#002fc6"/>
<rect x="1988.7" y="436.5" width="32.3" height="23.1" fill="#004fc6"/>
<rect x="2020.4" y="436.5" width="38.4" height="23.1" fill="#002fc6"/>
<rect x="2058.2" y="436.5" width="40.9" height="23.1" fill="#004fc6"/>
<rect x="2098.5" y="436.5" width="37.2" height="23.1" fill="#004fc6"/>
<rect x="2135.2" y="436.5" width="33.6" height="23.1" fill="#0070c6"/>
<rect x="2168.1" y="436.5" width="31.1" height="23.1" fill="#0070c6"/>
<rect x="2198.6" y="436.5" width="31.1" height="23.1" fill="#0090c6"/>
<rect x="2229.2" y="436.5" width="29.9" height="23.1" fill="#00b1c6"/>
<rect x="2258.5" y="436.5" width="28.7" height="23.1" fill="#0090c6"/>
<rect x="2286.5" y="436.5" width="29.9" height="23.1" fill="#00b1c6"/>
<rect x="2315.8" y="436.5" width="29.9" height="23.1" fill="#0090c6"/>
<rect x="2345.1" y="436.5" width="27.5" height="23.1" fill="#0090c6"/>
<rect x="1200.0" y="459.0" width="14.3" height="11.6" fill="#34a5fc"/>
<rect x="1200.0" y="470.0" width="14.3" height="11.6" fill="#32a4fb"/>
<rect x="1213.7" y="459.0" width="14.3" height="11.6" fill="#34a5fc"/>
<rect x="1213.7" y="470.0" width="14.3" height="11.6" fill="#32a3fa"/>
<rect x="1227.3" y="459.0" width="14.4" height="11.6" fill="#33a4fb"/>
<rect x="1227.3" y="470.0" width="14.4" height="11.6" fill="#31a2f9"/>
<rect x="1241.1" y="459.0" width="14.4" height="11.6" fill="#31a3fa"/>
<rect x="1241.1" y="470.0" width="14.4" height="11.6" fill="#30a1f8"/>
<rect x="1254.9" y="459.0" width="14.6" height="11.6" fill="#3080f8"/>
<rect x="1254.9" y="470.0" width="14.6" height="11.6" fill="#2e7ff7"/>
<rect x="1269.0" y="459.0" width="14.6" height="11.6" fill="#2e7ef6"/>
<rect x="1269.0" y="470.0" width="14.6" height="11.6" fill="#2d7df5"/>
<rect x="1283.0" y="459.0" width="15.2" height="11.6" fill="#2c7cf4"/>
<rect x="1283.0" y="470.0" width="15.2" height="11.6" fill="#2a7bf2"/>
<rect x="1297.7" y="459.0" width="15.2" height="11.6" fill="#2979f1"/>
<rect x="1297.7" y="470.0" width="15.2" height="11.6" fill="#2878f0"/>
<rect x="1312.3" y="459.0" width="15.2" height="11.6" fill="#2697ee"/>
<rect x="1312.3" y="470.0" width="15.2" height="11.6" fill="#2596ed"/>
<rect x="1327.0" y="459.0" width="15.2" height="11.6" fill="#2394eb"/>
<rect x="1327.0" y="470.0" width="15.2" height="11.6" fill="#2293ea"/>
<rect x="1341.6" y="459.0" width="15.9" height="11.6" fill="#2091e8"/>
<rect x="1341.6" y="470.0" width="15.9" height="11.6" fill="#1f90e7"/>
<rect x="1356.9" y="459.0" width="15.9" height="11.6" fill="#1d8ee5"/>
<rect x="1356.9" y="470.0" width="15.9" height="11.6" fill="#1c8de4"/>
<rect x="1372.1" y="459.0" width="7.9" height="11.6" fill="#1bcde2"/>
<rect x="1372.1" y="470.0" width="7.9" height="11.6" fill="#1acde2"/>
<rect x="1379.5" y="459.0" width="12.2" height="11.6" fill="#1969e0"/>
<rect x="1379.5" y="470.0" width="12.2" height="11.6" fill="#1868e0"/>
<rect x="1391.1" y="459.0" width="12.2" height="11.6" fill="#1667de"/>
<rect x="1391.1" y="470.0" width="12.2" height="11.6" fill="#1666dd"/>
<rect x="1402.7" y="459.0" width="16.5" height="11.6" fill="#1464db"/>
<rect x="1402.7" y="470.0" width="16.5" height="11.6" fill="#1363db"/>
<rect x="1418.5" y="459.0" width="16.5" height="11.6" fill="#1161d9"/>
<rect x="1418.5" y="470.0" width="16.5" height="11.6" fill="#1161d8"/>
<rect x="1434.4" y="459.0" width="13.2" height="11.6" fill="#0fc1d6"/>
<rect x="1434.4" y="470.0" width="13.2" height="11.6" fill="#0ec1d6"/>
<rect x="1447.0" y="459.0" width="13.2" height="11.6" fill="#0dbfd4"/>
<rect x="1447.0" y="470.0" width="13.2" height="11.6" fill="#0dbfd4"/>
<rect x="1459.6" y="459.0" width="13.2" height="11.6" fill="#0bbed3"/>
<rect x="1459.6" y="470.0" width="13.2" height="11.6" fill="#0bbdd2"/>
<rect x="1472.2" y="459.0" width="14.0" height="11.6" fill="#0a39d1"/>
<rect x="1472.2" y="470.0" width="14.0" height="11.6" fill="#0938d1"/>
<rect x="1485.7" y="459.0" width="14.0" height="11.6" fill="#0837cf"/>
<rect x="1485.7" y="470.0" width="14.0" height="11.6" fill="#0837cf"/>
<rect x="1499.1" y="459.0" width="14.0" height="11.6" fill="#0736ce"/>
<rect x="1499.1" y="470.0" width="14.0" height="11.6" fill="#0736ce"/>
<rect x="1512.5" y="459.0" width="12.8" height="11.6" fill="#06b8cd"/>
<rect x="1512.5" y="470.0" width="12.8" height="11.6" fill="#06b8cd"/>
<rect x="1524.7" y="459.0" width="12.8" height="11.6" fill="#05b7cc"/>
<rect x="1524.7" y="470.0" width="12.8" height="11.6" fill="#05b7cc"/>
<rect x="1536.9" y="459.0" width="12.8" height="11.6" fill="#04b6cb"/>
<rect x="1536.9" y="470.0" width="12.8" height="11.6" fill="#04b6cb"/>
<rect x="1549.2" y="459.0" width="17.1" height="11.6" fill="#0332ca"/>
<rect x="1549.2" y="470.0" width="17.1" height="11.6" fill="#0332ca"/>
<rect x="1565.6" y="459.0" width="17.1" height="11.6" fill="#0332c9"/>
<rect x="1565.6" y="470.0" width="17.1" height="11.6" fill="#0231c9"/>
<rect x="1582.1" y="459.0" width="15.9" height="11.6" fill="#0231c9"/>
<rect x="1582.1" y="470.0" width="15.9" height="11.6" fill="#0231c8"/>
<rect x="1597.4" y="459.0" width="15.9" height="11.6" fill="#0130c8"/>
<rect x="1597.4" y="470.0" width="15.9" height="11.6" fill="#0130c8"/>
<rect x="1612.6" y="459.0" width="31.1" height="22.6" fill="#0171c7"/>
<rect x="1643.2" y="459.0" width="29.9" height="22.6" fill="#0171c7"/>
<rect x="1672.5" y="459.0" width="28.7" height="22.6" fill="#000fc7"/>
<rect x="1700.5" y="459.0" width="29.9" height="22.6" fill="#000ec6"/>
<rect x="1729.8" y="459.0" width="29.9" height="22.6" fill="#000ec6"/>
<rect x="1759.1" y="459.0" width="27.5" height="22.6" fill="#000ec6"/>
<rect x="1786.0" y="459.0" width="27.9" height="22.6" fill="#000ec6"/>
<rect x="1813.3" y="459.0" width="28.2" height="22.6" fill="#000ec6"/>
<rect x="1840.9" y="459.0" width="28.7" height="22.6" fill="#002fc6"/>
<rect x="1869.0" y="459.0" width="29.9" height="22.6" fill="#002fc6"/>
<rect x="1898.3" y="459.0" width="29.9" height="22.6" fill="#000ec6"/>
<rect x="1927.6" y="459.0" width="31.1" height="22.6" fill="#000ec6"/>
<rect x="1958.1" y="459.0" width="7.9" height="22.6" fill="#002fc6"/>
<rect x="1965.5" y="459.0" width="23.8" height="22.6" fill="#000ec6"/>
<rect x="1988.7" y="459.0" width="32.3" height="22.6" fill="#002fc6"/>
<rect x="2020.4" y="459.0" width="38.4" height="22.6" fill="#002fc6"/>
<rect x="2058.2" y="459.0" width="40.9" height="22.6" fill="#004fc6"/>
<rect x="2098.5" y="459.0" width="37.2" height="22.6" fill="#0070c6"/>
<rect x="2135.2" y="459.0" width="33.6" height="22.6" fill="#0070c6"/>
<rect x="2168.1" y="459.0" width="31.1" height="22.6" fill="#0070c6"/>
<rect x="2198.6" y="459.0" width="31.1" height="22.6" fill="#0070c6"/>
<rect x="2229.2" y="459.0" width="29.9" height="22.6" fill="#0070c6"/>
<rect x="2258.5" y="459.0" width="28.7" height="22.6" fill="#00b1c6"/>
<rect x="2286.5" y="459.0" width="29.9" height="22.6" fill="#0090c6"/>
<rect x="2315.8" y="459.0" width="29.9" height="22.6" fill="#0090c6"/>
<rect x="2345.1" y="459.0" width="27.5" height="22.6" fill="#0070c6"/>
<rect x="1200.0" y="481.0" width="14.3" height="12.1" fill="#3181f9"/>
<rect x="1200.0" y="492.5" width="14.3" height="12.1" fill="#2f7ff7"/>
<rect x="1213.7" y="481.0" width="14.3" height="12.1" fill="#3080f8"/>
<rect x="1213.7" y="492.5" width="14.3" height="12.1" fill="#2e7ef6"/>
<rect x="1227.3" y="481.0" width="14.4" height="12.1" fill="#2f80f8"/>
<rect x="1227.3" y="492.5" width="14.4" height="12.1" fill="#2d7ef6"/>
<rect x="1241.1" y="481.0" width="14.4" height="12.1" fill="#2e7ff6"/>
<rect x="1241.1" y="492.5" width="14.4" height="12.1" fill="#2c7df4"/>
<rect x="1254.9" y="481.0" width="14.6" height="12.1" fill="#2d7df5"/>
<rect x="1254.9" y="492.5" width="14.6" height="12.1" fill="#2b7bf3"/>
<rect x="1269.0" y="481.0" width="14.6" height="12.1" fill="#2b7bf3"/>
<rect x="1269.0" y="492.5" width="14.6" height="12.1" fill="#2979f1"/>
<rect x="1283.0" y="481.0" width="15.2" height="12.1" fill="#2979f1"/>
<rect x="1283.0" y="492.5" width="15.2" height="12.1" fill="#2777ef"/>
<rect x="1297.7" y="481.0" width="15.2" height="12.1" fill="#2677ee"/>
<rect x="1297.7" y="492.5" width="15.2" height="12.1" fill="#2575ed"/>
<rect x="1312.3" y="481.0" width="15.2" height="12.1" fill="#2495ec"/>
<rect x="1312.3" y="492.5" width="15.2" height="12.1" fill="#2293ea"/>
<rect x="1327.0" y="481.0" width="15.2" height="12.1" fill="#2192e9"/>
<rect x="1327.0" y="492.5" width="15.2" height="12.1" fill="#2091e7"/>
<rect x="1341.6" y="481.0" width="15.9" height="12.1" fill="#1e8fe6"/>
<rect x="1341.6" y="492.5" width="15.9" height="12.1" fill="#1d8ee5"/>
<rect x="1356.9" y="481.0" width="15.9" height="12.1" fill="#1b8ce3"/>
<rect x="1356.9" y="492.5" width="15.9" height="12.1" fill="#1a8be2"/>
<rect x="1372.1" y="481.0" width="7.9" height="12.1" fill="#19cce1"/>
<rect x="1372.1" y="492.5" width="7.9" height="12.1" fill="#18cbe0"/>
<rect x="1379.5" y="481.0" width="12.2" height="12.1" fill="#1767df"/>
<rect x="1379.5" y="492.5" width="12.2" height="12.1" fill="#1666de"/>
<rect x="1391.1" y="481.0" width="12.2" height="12.1" fill="#1565dd"/>
<rect x="1391.1" y="492.5" width="12.2" height="12.1" fill="#1464dc"/>
<rect x="1402.7" y="481.0" width="16.5" height="12.1" fill="#1363da"/>
<rect x="1402.7" y="492.5" width="16.5" height="12.1" fill="#1262d9"/>
<rect x="1418.5" y="481.0" width="16.5" height="12.1" fill="#1060d8"/>
<rect x="1418.5" y="492.5" width="16.5" height="12.1" fill="#0f5fd7"/>
<rect x="1434.4" y="481.0" width="13.2" height="12.1" fill="#0ec0d5"/>
<rect x="1434.4" y="492.5" width="13.2" height="12.1" fill="#0dc0d5"/>
<rect x="1447.0" y="481.0" width="13.2" height="12.1" fill="#0cbfd3"/>
<rect x="1447.0" y="492.5" width="13.2" height="12.1" fill="#0cbed3"/>
<rect x="1459.6" y="481.0" width="13.2" height="12.1" fill="#0bbdd2"/>
<rect x="1459.6" y="492.5" width="13.2" height="12.1" fill="#0abcd1"/>
<rect x="1472.2" y="481.0" width="14.0" height="12.1" fill="#0938d0"/>
<rect x="1472.2" y="492.5" width="14.0" height="12.1" fill="#0938d0"/>
<rect x="1485.7" y="481.0" width="14.0" height="12.1" fill="#0837cf"/>
<rect x="1485.7" y="492.5" width="14.0" height="12.1" fill="#0736ce"/>
<rect x="1499.1" y="481.0" width="14.0" height="12.1" fill="#0635cd"/>
<rect x="1499.1" y="492.5" width="14.0" height="12.1" fill="#0635cd"/>
<rect x="1512.5" y="481.0" width="12.8" height="12.1" fill="#05b8cc"/>
<rect x="1512.5" y="492.5" width="12.8" height="12.1" fill="#05b7cc"/>
<rect x="1524.7" y="481.0" width="12.8" height="12.1" fill="#05b7cb"/>
<rect x="1524.7" y="492.5" width="12.8" height="12.1" fill="#04b6cb"/>
<rect x="1536.9" y="481.0" width="12.8" height="12.1" fill="#04b6cb"/>
<rect x="1536.9" y="492.5" width="12.8" height="12.1" fill="#04b6cb"/>
<rect x="1549.2" y="481.0" width="17.1" height="12.1" fill="#0332ca"/>
<rect x="1549.2" y="492.5" width="17.1" height="12.1" fill="#0332ca"/>
<rect x="1565.6" y="481.0" width="17.1" height="12.1" fill="#0231c9"/>
<rect x="1565.6" y="492.5" width="17.1" height="12.1" fill="#0231c9"/>
<rect x="1582.1" y="481.0" width="15.9" height="12.1" fill="#0231c8"/>
<rect x="1582.1" y="492.5" width="15.9" height="12.1" fill="#0231c8"/>
<rect x="1597.4" y="481.0" width="15.9" height="12.1" fill="#0130c8"/>
<rect x="1597.4" y="492.5" width="15.9" height="12.1" fill="#0130c8"/>
<rect x="1612.6" y="481.0" width="31.1" height="23.6" fill="#0171c7"/>
<rect x="1643.2" y="481.0" width="29.9" height="23.6" fill="#0171c7"/>
<rect x="1672.5" y="481.0" width="28.7" height="23.6" fill="#000fc6"/>
<rect x="1700.5" y="481.0" width="29.9" height="23.6" fill="#000ec6"/>
<rect x="1729.8" y="481.0" width="29.9" height="23.6" fill="#000ec6"/>
<rect x="1759.1" y="481.0" width="27.5" height="23.6" fill="#002fc6"/>
<rect x="1786.0" y="481.0" width="27.9" height="23.6" fill="#004fc6"/>
<rect x="1813.3" y="481.0" width="28.2" height="23.6" fill="#002fc6"/>
<rect x="1840.9" y="481.0" width="28.7" height="23.6" fill="#000ec6"/>
<rect x="1869.0" y="481.0" width="29.9" height="23.6" fill="#002fc6"/>
<rect x="1898.3" y="481.0" width="29.9" height="23.6" fill="#000ec6"/>
<rect x="1927.6" y="481.0" width="31.1" height="23.6" fill="#000ec6"/>
<rect x="1958.1" y="481.0" width="7.9" height="23.6" fill="#000ec6"/>
<rect x="1965.5" y="481.0" width="23.8" height="23.6" fill="#000ec6"/>
<rect x="1988.7" y="481.0" width="32.3" height="23.6" fill="#000ec6"/>
<rect x="2020.4" y="481.0" width="38.4" height="23.6" fill="#00c6ba"/>
<rect x="2058.2" y="481.0" width="40.9" height="23.6" fill="#00c6ba"/>
<rect x="2098.5" y="481.0" width="37.2" height="23.6" fill="#00c6ba"/>
<rect x="2135.2" y="481.0" width="33.6" height="23.6" fill="#00c6ba"/>
<rect x="2168.1" y="481.0" width="31.1" height="23.6" fill="#00b1c6"/>
<rect x="2198.6" y="481.0" width="31.1" height="23.6" fill="#00b1c6"/>
<rect x="2229.2" y="481.0" width="29.9" height="23.6" fill="#0090c6"/>
<rect x="2258.5" y="481.0" width="28.7" height="23.6" fill="#0090c6"/>
<rect x="2286.5" y="481.0" width="29.9" height="23.6" fill="#00b1c6"/>
<rect x="2315.8" y="481.0" width="29.9" height="23.6" fill="#004fc6"/>
<rect x="2345.1" y="481.0" width="27.5" height="23.6" fill="#004fc6"/>
<rect x="1200.0" y="504.0" width="14.3" height="11.8" fill="#2c7df5"/>
<rect x="1200.0" y="515.2" width="14.3" height="11.8" fill="#2a7af2"/>
<rect x="1213.7" y="504.0" width="14.3" height="11.8" fill="#2c7cf4"/>
<rect x="1213.7" y="515.2" width="14.3" height="11.8" fill="#2a7af2"/>
<rect x="1227.3" y="504.0" width="14.4" height="11.8" fill="#2b7cf4"/>
<rect x="1227.3" y="515.2" width="14.4" height="11.8" fill="#2979f1"/>
<rect x="1241.1" y="504.0" width="14.4" height="11.8" fill="#2a7bf2"/>
<rect x="1241.1" y="515.2" width="14.4" height="11.8" fill="#2878f0"/>
<rect x="1254.9" y="504.0" width="14.6" height="11.8" fill="#2979f1"/>
<rect x="1254.9" y="515.2" width="14.6" height="11.8" fill="#2777ef"/>
<rect x="1269.0" y="504.0" width="14.6" height="11.8" fill="#2777ef"/>
<rect x="1269.0" y="515.2" width="14.6" height="11.8" fill="#2576ed"/>
<rect x="1283.0" y="504.0" width="15.2" height="11.8" fill="#2576ed"/>
<rect x="1283.0" y="515.2" width="15.2" height="11.8" fill="#2374eb"/>
<rect x="1297.7" y="504.0" width="15.2" height="11.8" fill="#2373eb"/>
<rect x="1297.7" y="515.2" width="15.2" height="11.8" fill="#2172e9"/>
<rect x="1312.3" y="504.0" width="15.2" height="11.8" fill="#2192e9"/>
<rect x="1312.3" y="515.2" width="15.2" height="11.8" fill="#1f90e7"/>
<rect x="1327.0" y="504.0" width="15.2" height="11.8" fill="#1e8fe6"/>
<rect x="1327.0" y="515.2" width="15.2" height="11.8" fill="#1d8ee5"/>
<rect x="1341.6" y="504.0" width="15.9" height="11.8" fill="#1b8de3"/>
<rect x="1341.6" y="515.2" width="15.9" height="11.8" fill="#1a8be2"/>
<rect x="1356.9" y="504.0" width="15.9" height="11.8" fill="#198ae1"/>
<rect x="1356.9" y="515.2" width="15.9" height="11.8" fill="#1889df"/>
<rect x="1372.1" y="504.0" width="7.9" height="11.8" fill="#17cadf"/>
<rect x="1372.1" y="515.2" width="7.9" height="11.8" fill="#16c8dd"/>
<rect x="1379.5" y="504.0" width="12.2" height="11.8" fill="#1565dd"/>
<rect x="1379.5" y="515.2" width="12.2" height="11.8" fill="#1464dc"/>
<rect x="1391.1" y="504.0" width="12.2" height="11.8" fill="#1363db"/>
<rect x="1391.1" y="515.2" width="12.2" height="11.8" fill="#1262da"/>
<rect x="1402.7" y="504.0" width="16.5" height="11.8" fill="#1161d9"/>
<rect x="1402.7" y="515.2" width="16.5" height="11.8" fill="#1060d8"/>
<rect x="1418.5" y="504.0" width="16.5" height="11.8" fill="#0f5fd6"/>
<rect x="1418.5" y="515.2" width="16.5" height="11.8" fill="#0e5ed5"/>
<rect x="1434.4" y="504.0" width="13.2" height="11.8" fill="#0d9ed4"/>
<rect x="1434.4" y="515.2" width="13.2" height="11.8" fill="#0c9ed3"/>
<rect x="1447.0" y="504.0" width="13.2" height="11.8" fill="#0b9dd2"/>
<rect x="1447.0" y="515.2" width="13.2" height="11.8" fill="#0b9cd2"/>
<rect x="1459.6" y="504.0" width="13.2" height="11.8" fill="#0a9bd1"/>
<rect x="1459.6" y="515.2" width="13.2" height="11.8" fill="#099bd0"/>
<rect x="1472.2" y="504.0" width="14.0" height="11.8" fill="#0858cf"/>
<rect x="1472.2" y="515.2" width="14.0" height="11.8" fill="#0858cf"/>
<rect x="1485.7" y="504.0" width="14.0" height="11.8" fill="#0757ce"/>
<rect x="1485.7" y="515.2" width="14.0" height="11.8" fill="#0757ce"/>
<rect x="1499.1" y="504.0" width="14.0" height="11.8" fill="#0656cd"/>
<rect x="1499.1" y="515.2" width="14.0" height="11.8" fill="#0655cd"/>
<rect x="1512.5" y="504.0" width="12.8" height="11.8" fill="#0534cc"/>
<rect x="1512.5" y="515.2" width="12.8" height="11.8" fill="#0534cc"/>
<rect x="1524.7" y="504.0" width="12.8" height="11.8" fill="#0433cb"/>
<rect x="1524.7" y="515.2" width="12.8" height="11.8" fill="#0433cb"/>
<rect x="1536.9" y="504.0" width="12.8" height="11.8" fill="#0333ca"/>
<rect x="1536.9" y="515.2" width="12.8" height="11.8" fill="#0332ca"/>
<rect x="1549.2" y="504.0" width="17.1" height="11.8" fill="#0353ca"/>
<rect x="1549.2" y="515.2" width="17.1" height="11.8" fill="#0352c9"/>
<rect x="1565.6" y="504.0" width="17.1" height="11.8" fill="#0252c9"/>
<rect x="1565.6" y="515.2" width="17.1" height="11.8" fill="#0252c9"/>
<rect x="1582.1" y="504.0" width="15.9" height="11.8" fill="#0231c8"/>
<rect x="1582.1" y="515.2" width="15.9" height="11.8" fill="#0231c8"/>
<rect x="1597.4" y="504.0" width="15.9" height="11.8" fill="#0130c8"/>
<rect x="1597.4" y="515.2" width="15.9" height="11.8" fill="#0130c8"/>
<rect x="1612.6" y="504.0" width="31.1" height="23.1" fill="#0130c7"/>
<rect x="1643.2" y="504.0" width="29.9" height="23.1" fill="#002fc7"/>
<rect x="1672.5" y="504.0" width="28.7" height="23.1" fill="#002fc6"/>
<rect x="1700.5" y="504.0" width="29.9" height="23.1" fill="#0050c6"/>
<rect x="1729.8" y="504.0" width="29.9" height="23.1" fill="#002fc6"/>
<rect x="1759.1" y="504.0" width="27.5" height="23.1" fill="#000ec6"/>
<rect x="1786.0" y="504.0" width="27.9" height="23.1" fill="#000ec6"/>
<rect x="1813.3" y="504.0" width="28.2" height="23.1" fill="#000ec6"/>
<rect x="1840.9" y="504.0" width="28.7" height="23.1" fill="#000ec6"/>
<rect x="1869.0" y="504.0" width="29.9" height="23.1" fill="#000ec6"/>
<rect x="1898.3" y="504.0" width="29.9" height="23.1" fill="#00c679"/>
<rect x="1927.6" y="504.0" width="31.1" height="23.1" fill="#00c699"/>
<rect x="1958.1" y="504.0" width="7.9" height="23.1" fill="#00c699"/>
<rect x="1965.5" y="504.0" width="23.8" height="23.1" fill="#00c699"/>
<rect x="1988.7" y="504.0" width="32.3" height="23.1" fill="#00c679"/>
<rect x="2020.4" y="504.0" width="38.4" height="23.1" fill="#00c699"/>
<rect x="2058.2" y="504.0" width="40.9" height="23.1" fill="#00c6ba"/>
<rect x="2098.5" y="504.0" width="37.2" height="23.1" fill="#00b1c6"/>
<rect x="2135.2" y="504.0" width="33.6" height="23.1" fill="#00b1c6"/>
<rect x="2168.1" y="504.0" width="31.1" height="23.1" fill="#0090c6"/>
<rect x="2198.6" y="504.0" width="31.1" height="23.1" fill="#00b1c6"/>
<rect x="2229.2" y="504.0" width="29.9" height="23.1" fill="#00b1c6"/>
<rect x="2258.5" y="504.0" width="28.7" height="23.1" fill="#0070c6"/>
<rect x="2286.5" y="504.0" width="29.9" height="23.1" fill="#0070c6"/>
<rect x="2315.8" y="504.0" width="29.9" height="23.1" fill="#004fc6"/>
<rect x="2345.1" y="504.0" width="27.5" height="23.1" fill="#004fc6"/>
<rect x="1200.0" y="526.5" width="14.3" height="11.8" fill="#2857f0"/>
<rect x="1200.0" y="537.8" width="14.3" height="11.8" fill="#2655ee"/>
<rect x="1213.7" y="526.5" width="14.3" height="11.8" fill="#2857f0"/>
<rect x="1213.7" y="537.8" width="14.3" height="11.8" fill="#2555ed"/>
<rect x="1227.3" y="526.5" width="14.4" height="11.8" fill="#2756ef"/>
<rect x="1227.3" y="537.8" width="14.4" height="11.8" fill="#2554ed"/>
<rect x="1241.1" y="526.5" width="14.4" height="11.8" fill="#2655ee"/>
<rect x="1241.1" y="537.8" width="14.4" height="11.8" fill="#2453ec"/>
<rect x="1254.9" y="526.5" width="14.6" height="11.8" fill="#2575ed"/>
<rect x="1254.9" y="537.8" width="14.6" height="11.8" fill="#2373eb"/>
<rect x="1269.0" y="526.5" width="14.6" height="11.8" fill="#2374eb"/>
<rect x="1269.0" y="537.8" width="14.6" height="11.8" fill="#2171e9"/>
<rect x="1283.0" y="526.5" width="15.2" height="11.8" fill="#2172ea"/>
<rect x="1283.0" y="537.8" width="15.2" height="11.8" fill="#2070e8"/>
<rect x="1297.7" y="526.5" width="15.2" height="11.8" fill="#1f70e7"/>
<rect x="1297.7" y="537.8" width="15.2" height="11.8" fill="#1e6ee6"/>
<rect x="1312.3" y="526.5" width="15.2" height="11.8" fill="#1d8ee5"/>
<rect x="1312.3" y="537.8" width="15.2" height="11.8" fill="#1c8de4"/>
<rect x="1327.0" y="526.5" width="15.2" height="11.8" fill="#1b8ce3"/>
<rect x="1327.0" y="537.8" width="15.2" height="11.8" fill="#198be1"/>
<rect x="1341.6" y="526.5" width="15.9" height="11.8" fill="#198ae1"/>
<rect x="1341.6" y="537.8" width="15.9" height="11.8" fill="#1788df"/>
<rect x="1356.9" y="526.5" width="15.9" height="11.8" fill="#1687de"/>
<rect x="1356.9" y="537.8" width="15.9" height="11.8" fill="#1586dd"/>
<rect x="1372.1" y="526.5" width="7.9" height="11.8" fill="#14c7dc"/>
<rect x="1372.1" y="537.8" width="7.9" height="11.8" fill="#13c6db"/>
<rect x="1379.5" y="526.5" width="12.2" height="11.8" fill="#1363db"/>
<rect x="1379.5" y="537.8" width="12.2" height="11.8" fill="#1262da"/>
<rect x="1391.1" y="526.5" width="12.2" height="11.8" fill="#1161d9"/>
<rect x="1391.1" y="537.8" width="12.2" height="11.8" fill="#1060d8"/>
<rect x="1402.7" y="526.5" width="16.5" height="11.8" fill="#0f80d7"/>
<rect x="1402.7" y="537.8" width="16.5" height="11.8" fill="#0e7fd6"/>
<rect x="1418.5" y="526.5" width="16.5" height="11.8" fill="#0d7ed5"/>
<rect x="1418.5" y="537.8" width="16.5" height="11.8" fill="#0c7dd4"/>
<rect x="1434.4" y="526.5" width="13.2" height="11.8" fill="#0b3bd3"/>
<rect x="1434.4" y="537.8" width="13.2" height="11.8" fill="#0b3ad2"/>
<rect x="1447.0" y="526.5" width="13.2" height="11.8" fill="#0a39d1"/>
<rect x="1447.0" y="537.8" width="13.2" height="11.8" fill="#0939d1"/>
<rect x="1459.6" y="526.5" width="13.2" height="11.8" fill="#0938d0"/>
<rect x="1459.6" y="537.8" width="13.2" height="11.8" fill="#0837cf"/>
<rect x="1472.2" y="526.5" width="14.0" height="11.8" fill="#0737cf"/>
<rect x="1472.2" y="537.8" width="14.0" height="11.8" fill="#0736ce"/>
<rect x="1485.7" y="526.5" width="14.0" height="11.8" fill="#0635cd"/>
<rect x="1485.7" y="537.8" width="14.0" height="11.8" fill="#0635cd"/>
<rect x="1499.1" y="526.5" width="14.0" height="11.8" fill="#0534cc"/>
<rect x="1499.1" y="537.8" width="14.0" height="11.8" fill="#0534cc"/>
<rect x="1512.5" y="526.5" width="12.8" height="11.8" fill="#0433cb"/>
<rect x="1512.5" y="537.8" width="12.8" height="11.8" fill="#0433cb"/>
<rect x="1524.7" y="526.5" width="12.8" height="11.8" fill="#0433cb"/>
<rect x="1524.7" y="537.8" width="12.8" height="11.8" fill="#0433ca"/>
<rect x="1536.9" y="526.5" width="12.8" height="11.8" fill="#0332ca"/>
<rect x="1536.9" y="537.8" width="12.8" height="11.8" fill="#0332ca"/>
<rect x="1549.2" y="526.5" width="17.1" height="11.8" fill="#0352c9"/>
<rect x="1549.2" y="537.8" width="17.1" height="11.8" fill="#0252c9"/>
<rect x="1565.6" y="526.5" width="17.1" height="11.8" fill="#0252c9"/>
<rect x="1565.6" y="537.8" width="17.1" height="11.8" fill="#0252c9"/>
<rect x="1582.1" y="526.5" width="15.9" height="11.8" fill="#0110c8"/>
<rect x="1582.1" y="537.8" width="15.9" height="11.8" fill="#0110c8"/>
<rect x="1597.4" y="526.5" width="15.9" height="11.8" fill="#010fc8"/>
<rect x="1597.4" y="537.8" width="15.9" height="11.8" fill="#010fc8"/>
<rect x="1612.6" y="526.5" width="31.1" height="23.1" fill="#0130c7"/>
<rect x="1643.2" y="526.5" width="29.9" height="23.1" fill="#002fc7"/>
<rect x="1672.5" y="526.5" width="28.7" height="23.1" fill="#002fc6"/>
<rect x="1700.5" y="526.5" width="29.9" height="23.1" fill="#002fc6"/>
<rect x="1729.8" y="526.5" width="29.9" height="23.1" fill="#002fc6"/>
<rect x="1759.1" y="526.5" width="27.5" height="23.1" fill="#002fc6"/>
<rect x="1786.0" y="526.5" width="27.9" height="23.1" fill="#00c658"/>
<rect x="1813.3" y="526.5" width="28.2" height="23.1" fill="#00c679"/>
<rect x="1840.9" y="526.5" width="28.7" height="23.1" fill="#00c679"/>
<rect x="1869.0" y="526.5" width="29.9" height="23.1" fill="#00c679"/>
<rect x="1898.3" y="526.5" width="29.9" height="23.1" fill="#00c699"/>
<rect x="1927.6" y="526.5" width="31.1" height="23.1" fill="#00c699"/>
<rect x="1958.1" y="526.5" width="7.9" height="23.1" fill="#00c699"/>
<rect x="1965.5" y="526.5" width="23.8" height="23.1" fill="#00c699"/>
<rect x="1988.7" y="526.5" width="32.3" height="23.1" fill="#00c699"/>
<rect x="2020.4" y="526.5" width="38.4" height="23.1" fill="#00c6ba"/>
<rect x="2058.2" y="526.5" width="40.9" height="23.1" fill="#00b1c6"/>
<rect x="2098.5" y="526.5" width="37.2" height="23.1" fill="#00c6ba"/>
<rect x="2135.2" y="526.5" width="33.6" height="23.1" fill="#0070c6"/>
<rect x="2168.1" y="526.5" width="31.1" height="23.1" fill="#0070c6"/>
<rect x="2198.6" y="526.5" width="31.1" height="23.1" fill="#0090c6"/>
<rect x="2229.2" y="526.5" width="29.9" height="23.1" fill="#0090c6"/>
<rect x="2258.5" y="526.5" width="28.7" height="23.1" fill="#0070c6"/>
<rect x="2286.5" y="526.5" width="29.9" height="23.1" fill="#0070c6"/>
<rect x="2315.8" y="526.5" width="29.9" height="23.1" fill="#004fc6"/>
<rect x="2345.1" y="526.5" width="27.5" height="23.1" fill="#004fc6"/>
<rect x="1200.0" y="549.0" width="14.3" height="11.8" fill="#2353eb"/>
<rect x="1200.0" y="560.2" width="14.3" height="11.8" fill="#2150e9"/>
<rect x="1213.7" y="549.0" width="14.3" height="11.8" fill="#2352eb"/>
<rect x="1213.7" y="560.2" width="14.3" height="11.8" fill="#2150e9"/>
<rect x="1227.3" y="549.0" width="14.4" height="11.8" fill="#2252ea"/>
<rect x="1227.3" y="560.2" width="14.4" height="11.8" fill="#204fe8"/>
<rect x="1241.1" y="549.0" width="14.4" height="11.8" fill="#2151ea"/>
<rect x="1241.1" y="560.2" width="14.4" height="11.8" fill="#1f4fe7"/>
<rect x="1254.9" y="549.0" width="14.6" height="11.8" fill="#2071e9"/>
<rect x="1254.9" y="560.2" width="14.6" height="11.8" fill="#1e6ee6"/>
<rect x="1269.0" y="549.0" width="14.6" height="11.8" fill="#1f6fe7"/>
<rect x="1269.0" y="560.2" width="14.6" height="11.8" fill="#1d6de5"/>
<rect x="1283.0" y="549.0" width="15.2" height="11.8" fill="#1e8fe6"/>
<rect x="1283.0" y="560.2" width="15.2" height="11.8" fill="#1c8de4"/>
<rect x="1297.7" y="549.0" width="15.2" height="11.8" fill="#1c8de4"/>
<rect x="1297.7" y="560.2" width="15.2" height="11.8" fill="#1a8be2"/>
<rect x="1312.3" y="549.0" width="15.2" height="11.8" fill="#1a6ae2"/>
<rect x="1312.3" y="560.2" width="15.2" height="11.8" fill="#1868e0"/>
<rect x="1327.0" y="549.0" width="15.2" height="11.8" fill="#1868e0"/>
<rect x="1327.0" y="560.2" width="15.2" height="11.8" fill="#1666de"/>
<rect x="1341.6" y="549.0" width="15.9" height="11.8" fill="#1666de"/>
<rect x="1341.6" y="560.2" width="15.9" height="11.8" fill="#1464dc"/>
<rect x="1356.9" y="549.0" width="15.9" height="11.8" fill="#1464db"/>
<rect x="1356.9" y="560.2" width="15.9" height="11.8" fill="#1262da"/>
<rect x="1372.1" y="549.0" width="7.9" height="11.8" fill="#1262da"/>
<rect x="1372.1" y="560.2" width="7.9" height="11.8" fill="#1161d9"/>
<rect x="1379.5" y="549.0" width="12.2" height="11.8" fill="#1140d8"/>
<rect x="1379.5" y="560.2" width="12.2" height="11.8" fill="#103fd7"/>
<rect x="1391.1" y="549.0" width="12.2" height="11.8" fill="#0f3ed7"/>
<rect x="1391.1" y="560.2" width="12.2" height="11.8" fill="#0e3dd6"/>
<rect x="1402.7" y="549.0" width="16.5" height="11.8" fill="#0d3dd5"/>
<rect x="1402.7" y="560.2" width="16.5" height="11.8" fill="#0d3cd4"/>
<rect x="1418.5" y="549.0" width="16.5" height="11.8" fill="#0c3bd3"/>
<rect x="1418.5" y="560.2" width="16.5" height="11.8" fill="#0b3ad2"/>
<rect x="1434.4" y="549.0" width="13.2" height="11.8" fill="#0a39d1"/>
<rect x="1434.4" y="560.2" width="13.2" height="11.8" fill="#0939d1"/>
<rect x="1447.0" y="549.0" width="13.2" height="11.8" fill="#0938d0"/>
<rect x="1447.0" y="560.2" width="13.2" height="11.8" fill="#0837d0"/>
<rect x="1459.6" y="549.0" width="13.2" height="11.8" fill="#0837cf"/>
<rect x="1459.6" y="560.2" width="13.2" height="11.8" fill="#0736ce"/>
<rect x="1472.2" y="549.0" width="14.0" height="11.8" fill="#0736ce"/>
<rect x="1472.2" y="560.2" width="14.0" height="11.8" fill="#0635cd"/>
<rect x="1485.7" y="549.0" width="14.0" height="11.8" fill="#0635cd"/>
<rect x="1485.7" y="560.2" width="14.0" height="11.8" fill="#0534cc"/>
<rect x="1499.1" y="549.0" width="14.0" height="11.8" fill="#0534cc"/>
<rect x="1499.1" y="560.2" width="14.0" height="11.8" fill="#0433cb"/>
<rect x="1512.5" y="549.0" width="12.8" height="11.8" fill="#0433cb"/>
<rect x="1512.5" y="560.2" width="12.8" height="11.8" fill="#0433cb"/>
<rect x="1524.7" y="549.0" width="12.8" height="11.8" fill="#0332ca"/>
<rect x="1524.7" y="560.2" width="12.8" height="11.8" fill="#0332ca"/>
<rect x="1536.9" y="549.0" width="12.8" height="11.8" fill="#0332ca"/>
<rect x="1536.9" y="560.2" width="12.8" height="11.8" fill="#0332c9"/>
<rect x="1549.2" y="549.0" width="17.1" height="11.8" fill="#0231c9"/>
<rect x="1549.2" y="560.2" width="17.1" height="11.8" fill="#0231c9"/>
<rect x="1565.6" y="549.0" width="17.1" height="11.8" fill="#0231c8"/>
<rect x="1565.6" y="560.2" width="17.1" height="11.8" fill="#0231c8"/>
<rect x="1582.1" y="549.0" width="15.9" height="11.8" fill="#0130c8"/>
<rect x="1582.1" y="560.2" width="15.9" height="11.8" fill="#0130c8"/>
<rect x="1597.4" y="549.0" width="15.9" height="11.8" fill="#0130c8"/>
<rect x="1597.4" y="560.2" width="15.9" height="11.8" fill="#0130c7"/>
<rect x="1612.6" y="549.0" width="31.1" height="23.1" fill="#0130c7"/>
<rect x="1643.2" y="549.0" width="29.9" height="23.1" fill="#00c79a"/>
<rect x="1672.5" y="549.0" width="28.7" height="23.1" fill="#00c659"/>
<rect x="1700.5" y="549.0" width="29.9" height="23.1" fill="#00c659"/>
<rect x="1729.8" y="549.0" width="29.9" height="23.1" fill="#00c679"/>
<rect x="1759.1" y="549.0" width="27.5" height="23.1" fill="#00c679"/>
<rect x="1786.0" y="549.0" width="27.9" height="23.1" fill="#00c658"/>
<rect x="1813.3" y="549.0" width="28.2" height="23.1" fill="#00c658"/>
<rect x="1840.9" y="549.0" width="28.7" height="23.1" fill="#00c679"/>
<rect x="1869.0" y="549.0" width="29.9" height="23.1" fill="#00c699"/>
<rect x="1898.3" y="549.0" width="29.9" height="23.1" fill="#00b1c6"/>
<rect x="1927.6" y="549.0" width="31.1" height="23.1" fill="#0090c6"/>
<rect x="1958.1" y="549.0" width="7.9" height="23.1" fill="#00c6ba"/>
<rect x="1965.5" y="549.0" width="23.8" height="23.1" fill="#00c6ba"/>
<rect x="1988.7" y="549.0" width="32.3" height="23.1" fill="#00c6ba"/>
<rect x="2020.4" y="549.0" width="38.4" height="23.1" fill="#00c6ba"/>
<rect x="2058.2" y="549.0" width="40.9" height="23.1" fill="#0090c6"/>
<rect x="2098.5" y="549.0" width="37.2" height="23.1" fill="#00c6ba"/>
<rect x="2135.2" y="549.0" width="33.6" height="23.1" fill="#0070c6"/>
<rect x="2168.1" y="549.0" width="31.1" height="23.1" fill="#0070c6"/>
<rect x="2198.6" y="549.0" width="31.1" height="23.1" fill="#0090c6"/>
<rect x="2229.2" y="549.0" width="29.9" height="23.1" fill="#0090c6"/>
<rect x="2258.5" y="549.0" width="28.7" height="23.1" fill="#004fc6"/>
<rect x="2286.5" y="549.0" width="29.9" height="23.1" fill="#004fc6"/>
<rect x="2315.8" y="549.0" width="29.9" height="23.1" fill="#004fc6"/>
<rect x="2345.1" y="549.0" width="27.5" height="23.1" fill="#004fc6"/>
<rect x="1200.0" y="571.5" width="14.3" height="11.8" fill="#1e90e7"/>
<rect x="1200.0" y="582.8" width="14.3" height="11.8" fill="#1c8de4"/>
<rect x="1213.7" y="571.5" width="14.3" height="11.8" fill="#1e8fe6"/>
<rect x="1213.7" y="582.8" width="14.3" height="11.8" fill="#1c8de4"/>
<rect x="1227.3" y="571.5" width="14.4" height="11.8" fill="#1e8fe6"/>
<rect x="1227.3" y="582.8" width="14.4" height="11.8" fill="#1b8de4"/>
<rect x="1241.1" y="571.5" width="14.4" height="11.8" fill="#1d8ee5"/>
<rect x="1241.1" y="582.8" width="14.4" height="11.8" fill="#1b8ce3"/>
<rect x="1254.9" y="571.5" width="14.6" height="11.8" fill="#1c8de4"/>
<rect x="1254.9" y="582.8" width="14.6" height="11.8" fill="#1a8be2"/>
<rect x="1269.0" y="571.5" width="14.6" height="11.8" fill="#1b8ce3"/>
<rect x="1269.0" y="582.8" width="14.6" height="11.8" fill="#198ae1"/>
<rect x="1283.0" y="571.5" width="15.2" height="11.8" fill="#1a8be2"/>
<rect x="1283.0" y="582.8" width="15.2" height="11.8" fill="#1889e0"/>
<rect x="1297.7" y="571.5" width="15.2" height="11.8" fill="#1889e0"/>
<rect x="1297.7" y="582.8" width="15.2" height="11.8" fill="#1687de"/>
<rect x="1312.3" y="571.5" width="15.2" height="11.8" fill="#1667de"/>
<rect x="1312.3" y="582.8" width="15.2" height="11.8" fill="#1565dd"/>
<rect x="1327.0" y="571.5" width="15.2" height="11.8" fill="#1565dd"/>
<rect x="1327.0" y="582.8" width="15.2" height="11.8" fill="#1363db"/>
<rect x="1341.6" y="571.5" width="15.9" height="11.8" fill="#1342db"/>
<rect x="1341.6" y="582.8" width="15.9" height="11.8" fill="#1141d9"/>
<rect x="1356.9" y="571.5" width="15.9" height="11.8" fill="#1140d9"/>
<rect x="1356.9" y="582.8" width="15.9" height="11.8" fill="#103fd7"/>
<rect x="1372.1" y="571.5" width="7.9" height="11.8" fill="#103fd7"/>
<rect x="1372.1" y="582.8" width="7.9" height="11.8" fill="#0e3ed6"/>
<rect x="1379.5" y="571.5" width="12.2" height="11.8" fill="#18d60e"/>
<rect x="1379.5" y="582.8" width="12.2" height="11.8" fill="#17d50d"/>
<rect x="1391.1" y="571.5" width="12.2" height="11.8" fill="#17d50d"/>
<rect x="1391.1" y="582.8" width="12.2" height="11.8" fill="#16d40c"/>
<rect x="1402.7" y="571.5" width="16.5" height="11.8" fill="#15d30c"/>
<rect x="1402.7" y="582.8" width="16.5" height="11.8" fill="#14d20b"/>
<rect x="1418.5" y="571.5" width="16.5" height="11.8" fill="#14d20a"/>
<rect x="1418.5" y="582.8" width="16.5" height="11.8" fill="#13d109"/>
<rect x="1434.4" y="571.5" width="13.2" height="11.8" fill="#12d009"/>
<rect x="1434.4" y="582.8" width="13.2" height="11.8" fill="#12cf08"/>
<rect x="1447.0" y="571.5" width="13.2" height="11.8" fill="#11cf08"/>
<rect x="1447.0" y="582.8" width="13.2" height="11.8" fill="#11ce07"/>
<rect x="1459.6" y="571.5" width="13.2" height="11.8" fill="#10ce07"/>
<rect x="1459.6" y="582.8" width="13.2" height="11.8" fill="#10cd06"/>
<rect x="1472.2" y="571.5" width="14.0" height="11.8" fill="#0fcd06"/>
<rect x="1472.2" y="582.8" width="14.0" height="11.8" fill="#0fcc05"/>
<rect x="1485.7" y="571.5" width="14.0" height="11.8" fill="#0ecc05"/>
<rect x="1485.7" y="582.8" width="14.0" height="11.8" fill="#0ecc04"/>
<rect x="1499.1" y="571.5" width="14.0" height="11.8" fill="#0ecb04"/>
<rect x="1499.1" y="582.8" width="14.0" height="11.8" fill="#0dcb04"/>
<rect x="1512.5" y="571.5" width="12.8" height="11.8" fill="#0dca03"/>
<rect x="1512.5" y="582.8" width="12.8" height="11.8" fill="#0dca03"/>
<rect x="1524.7" y="571.5" width="12.8" height="11.8" fill="#0cca03"/>
<rect x="1524.7" y="582.8" width="12.8" height="11.8" fill="#0cca03"/>
<rect x="1536.9" y="571.5" width="12.8" height="11.8" fill="#0cc902"/>
<rect x="1536.9" y="582.8" width="12.8" height="11.8" fill="#0cc902"/>
<rect x="1549.2" y="571.5" width="17.1" height="11.8" fill="#0bc902"/>
<rect x="1549.2" y="582.8" width="17.1" height="11.8" fill="#0bc902"/>
<rect x="1565.6" y="571.5" width="17.1" height="11.8" fill="#0bc801"/>
<rect x="1565.6" y="582.8" width="17.1" height="11.8" fill="#0bc801"/>
<rect x="1582.1" y="571.5" width="15.9" height="11.8" fill="#0bc801"/>
<rect x="1582.1" y="582.8" width="15.9" height="11.8" fill="#0bc801"/>
<rect x="1597.4" y="571.5" width="15.9" height="11.8" fill="#0ac701"/>
<rect x="1597.4" y="582.8" width="15.9" height="11.8" fill="#0ac701"/>
<rect x="1612.6" y="571.5" width="31.1" height="23.1" fill="#0ac701"/>
<rect x="1643.2" y="571.5" width="29.9" height="23.1" fill="#0ac700"/>
<rect x="1672.5" y="571.5" width="28.7" height="23.1" fill="#00c617"/>
<rect x="1700.5" y="571.5" width="29.9" height="23.1" fill="#00c638"/>
<rect x="1729.8" y="571.5" width="29.9" height="23.1" fill="#00c658"/>
<rect x="1759.1" y="571.5" width="27.5" height="23.1" fill="#00c658"/>
<rect x="1786.0" y="571.5" width="27.9" height="23.1" fill="#00c699"/>
<rect x="1813.3" y="571.5" width="28.2" height="23.1" fill="#00c6ba"/>
<rect x="1840.9" y="571.5" width="28.7" height="23.1" fill="#00b1c6"/>
<rect x="1869.0" y="571.5" width="29.9" height="23.1" fill="#00b1c6"/>
<rect x="1898.3" y="571.5" width="29.9" height="23.1" fill="#0070c6"/>
<rect x="1927.6" y="571.5" width="31.1" height="23.1" fill="#0070c6"/>
<rect x="1958.1" y="571.5" width="7.9" height="23.1" fill="#00b1c6"/>
<rect x="1965.5" y="571.5" width="23.8" height="23.1" fill="#00c6ba"/>
<rect x="1988.7" y="571.5" width="32.3" height="23.1" fill="#00c6ba"/>
<rect x="2020.4" y="571.5" width="38.4" height="23.1" fill="#00b1c6"/>
<rect x="2058.2" y="571.5" width="40.9" height="23.1" fill="#0090c6"/>
<rect x="2098.5" y="571.5" width="37.2" height="23.1" fill="#0070c6"/>
<rect x="2135.2" y="571.5" width="33.6" height="23.1" fill="#0070c6"/>
<rect x="2168.1" y="571.5" width="31.1" height="23.1" fill="#0070c6"/>
<rect x="2198.6" y="571.5" width="31.1" height="23.1" fill="#004fc6"/>
<rect x="2229.2" y="571.5" width="29.9" height="23.1" fill="#004fc6"/>
<rect x="2258.5" y="571.5" width="28.7" height="23.1" fill="#0070c6"/>
<rect x="2286.5" y="571.5" width="29.9" height="23.1" fill="#0070c6"/>
<rect x="2315.8" y="571.5" width="29.9" height="23.1" fill="#0070c6"/>
<rect x="2345.1" y="571.5" width="27.5" height="23.1" fill="#0070c6"/>
<rect x="1200.0" y="594.0" width="14.3" height="12.1" fill="#23e21a"/>
<rect x="1200.0" y="605.5" width="14.3" height="12.1" fill="#21e018"/>
<rect x="1213.7" y="594.0" width="14.3" height="12.1" fill="#23e21a"/>
<rect x="1213.7" y="605.5" width="14.3" height="12.1" fill="#21e017"/>
<rect x="1227.3" y="594.0" width="14.4" height="12.1" fill="#23e119"/>
<rect x="1227.3" y="605.5" width="14.4" height="12.1" fill="#21df17"/>
<rect x="1241.1" y="594.0" width="14.4" height="12.1" fill="#22e119"/>
<rect x="1241.1" y="605.5" width="14.4" height="12.1" fill="#20df16"/>
<rect x="1254.9" y="594.0" width="14.6" height="12.1" fill="#21e018"/>
<rect x="1254.9" y="605.5" width="14.6" height="12.1" fill="#1fde16"/>
<rect x="1269.0" y="594.0" width="14.6" height="12.1" fill="#20df17"/>
<rect x="1269.0" y="605.5" width="14.6" height="12.1" fill="#1edd15"/>
<rect x="1283.0" y="594.0" width="15.2" height="12.1" fill="#1fde16"/>
<rect x="1283.0" y="605.5" width="15.2" height="12.1" fill="#1ddc14"/>
<rect x="1297.7" y="594.0" width="15.2" height="12.1" fill="#1edc14"/>
<rect x="1297.7" y="605.5" width="15.2" height="12.1" fill="#1cdb13"/>
<rect x="1312.3" y="594.0" width="15.2" height="12.1" fill="#3ddb13"/>
<rect x="1312.3" y="605.5" width="15.2" height="12.1" fill="#3cd911"/>
<rect x="1327.0" y="594.0" width="15.2" height="12.1" fill="#3cd911"/>
<rect x="1327.0" y="605.5" width="15.2" height="12.1" fill="#3ad810"/>
<rect x="1341.6" y="594.0" width="15.9" height="12.1" fill="#5bd810"/>
<rect x="1341.6" y="605.5" width="15.9" height="12.1" fill="#5ad60f"/>
<rect x="1356.9" y="594.0" width="15.9" height="12.1" fill="#5ad60e"/>
<rect x="1356.9" y="605.5" width="15.9" height="12.1" fill="#58d50d"/>
<rect x="1372.1" y="594.0" width="7.9" height="12.1" fill="#79d50d"/>
<rect x="1372.1" y="605.5" width="7.9" height="12.1" fill="#78d40c"/>
<rect x="1379.5" y="594.0" width="12.2" height="12.1" fill="#78d40c"/>
<rect x="1379.5" y="605.5" width="12.2" height="12.1" fill="#77d30b"/>
<rect x="1391.1" y="594.0" width="12.2" height="12.1" fill="#77d30b"/>
<rect x="1391.1" y="605.5" width="12.2" height="12.1" fill="#76d20a"/>
<rect x="1402.7" y="594.0" width="16.5" height="12.1" fill="#76d10a"/>
<rect x="1402.7" y="605.5" width="16.5" height="12.1" fill="#75d109"/>
<rect x="1418.5" y="594.0" width="16.5" height="12.1" fill="#75d009"/>
<rect x="1418.5" y="605.5" width="16.5" height="12.1" fill="#74cf08"/>
<rect x="1434.4" y="594.0" width="13.2" height="12.1" fill="#73cf07"/>
<rect x="1434.4" y="605.5" width="13.2" height="12.1" fill="#73ce07"/>
<rect x="1447.0" y="594.0" width="13.2" height="12.1" fill="#72ce06"/>
<rect x="1447.0" y="605.5" width="13.2" height="12.1" fill="#72cd06"/>
<rect x="1459.6" y="594.0" width="13.2" height="12.1" fill="#72cd06"/>
<rect x="1459.6" y="605.5" width="13.2" height="12.1" fill="#71cc05"/>
<rect x="1472.2" y="594.0" width="14.0" height="12.1" fill="#50cc05"/>
<rect x="1472.2" y="605.5" width="14.0" height="12.1" fill="#4fcc04"/>
<rect x="1485.7" y="594.0" width="14.0" height="12.1" fill="#4fcb04"/>
<rect x="1485.7" y="605.5" width="14.0" height="12.1" fill="#4fcb04"/>
<rect x="1499.1" y="594.0" width="14.0" height="12.1" fill="#4eca03"/>
<rect x="1499.1" y="605.5" width="14.0" height="12.1" fill="#4eca03"/>
<rect x="1512.5" y="594.0" width="12.8" height="12.1" fill="#4eca03"/>
<rect x="1512.5" y="605.5" width="12.8" height="12.1" fill="#4eca03"/>
<rect x="1524.7" y="594.0" width="12.8" height="12.1" fill="#4dc902"/>
<rect x="1524.7" y="605.5" width="12.8" height="12.1" fill="#4dc902"/>
<rect x="1536.9" y="594.0" width="12.8" height="12.1" fill="#4dc902"/>
<rect x="1536.9" y="605.5" width="12.8" height="12.1" fill="#4dc902"/>
<rect x="1549.2" y="594.0" width="17.1" height="12.1" fill="#2cc802"/>
<rect x="1549.2" y="605.5" width="17.1" height="12.1" fill="#2cc801"/>
<rect x="1565.6" y="594.0" width="17.1" height="12.1" fill="#2bc801"/>
<rect x="1565.6" y="605.5" width="17.1" height="12.1" fill="#2bc801"/>
<rect x="1582.1" y="594.0" width="15.9" height="12.1" fill="#2bc801"/>
<rect x="1582.1" y="605.5" width="15.9" height="12.1" fill="#2bc701"/>
<rect x="1597.4" y="594.0" width="15.9" height="12.1" fill="#2bc701"/>
<rect x="1597.4" y="605.5" width="15.9" height="12.1" fill="#2bc701"/>
<rect x="1612.6" y="594.0" width="31.1" height="23.6" fill="#00c738"/>
<rect x="1643.2" y="594.0" width="29.9" height="23.6" fill="#00c738"/>
<rect x="1672.5" y="594.0" width="28.7" height="23.6" fill="#00c659"/>
<rect x="1700.5" y="594.0" width="29.9" height="23.6" fill="#00c658"/>
<rect x="1729.8" y="594.0" width="29.9" height="23.6" fill="#00c69a"/>
<rect x="1759.1" y="594.0" width="27.5" height="23.6" fill="#00c69a"/>
<rect x="1786.0" y="594.0" width="27.9" height="23.6" fill="#00c6ba"/>
<rect x="1813.3" y="594.0" width="28.2" height="23.6" fill="#00c6ba"/>
<rect x="1840.9" y="594.0" width="28.7" height="23.6" fill="#00b1c6"/>
<rect x="1869.0" y="594.0" width="29.9" height="23.6" fill="#00b1c6"/>
<rect x="1898.3" y="594.0" width="29.9" height="23.6" fill="#0090c6"/>
<rect x="1927.6" y="594.0" width="31.1" height="23.6" fill="#0090c6"/>
<rect x="1958.1" y="594.0" width="7.9" height="23.6" fill="#00b1c6"/>
<rect x="1965.5" y="594.0" width="23.8" height="23.6" fill="#00c6ba"/>
<rect x="1988.7" y="594.0" width="32.3" height="23.6" fill="#0070c6"/>
<rect x="2020.4" y="594.0" width="38.4" height="23.6" fill="#0070c6"/>
<rect x="2058.2" y="594.0" width="40.9" height="23.6" fill="#0070c6"/>
<rect x="2098.5" y="594.0" width="37.2" height="23.6" fill="#0090c6"/>
<rect x="2135.2" y="594.0" width="33.6" height="23.6" fill="#004fc6"/>
<rect x="2168.1" y="594.0" width="31.1" height="23.6" fill="#0090c6"/>
<rect x="2198.6" y="594.0" width="31.1" height="23.6" fill="#0070c6"/>
<rect x="2229.2" y="594.0" width="29.9" height="23.6" fill="#004fc6"/>
<rect x="2258.5" y="594.0" width="28.7" height="23.6" fill="#004fc6"/>
<rect x="2286.5" y="594.0" width="29.9" height="23.6" fill="#004fc6"/>
<rect x="2315.8" y="594.0" width="29.9" height="23.6" fill="#004fc6"/>
<rect x="2345.1" y="594.0" width="27.5" height="23.6" fill="#004fc6"/>
<rect x="1200.0" y="617.0" width="14.3" height="11.1" fill="#1fde15"/>
<rect x="1213.7" y="617.0" width="14.3" height="11.1" fill="#1fdd15"/>
<rect x="1227.3" y="617.0" width="14.4" height="11.1" fill="#60dd15"/>
<rect x="1241.1" y="617.0" width="14.4" height="11.1" fill="#60dd14"/>
<rect x="1254.9" y="617.0" width="14.6" height="11.1" fill="#80dc14"/>
<rect x="1269.0" y="617.0" width="14.6" height="11.1" fill="#7fdb13"/>
<rect x="1283.0" y="617.0" width="15.2" height="11.1" fill="#9fda12"/>
<rect x="1297.7" y="617.0" width="15.2" height="11.1" fill="#9ed911"/>
<rect x="1312.3" y="617.0" width="15.2" height="11.1" fill="#9dd810"/>
<rect x="1327.0" y="617.0" width="15.2" height="11.1" fill="#9cd60f"/>
<rect x="1341.6" y="617.0" width="15.9" height="11.1" fill="#9ad50d"/>
<rect x="1356.9" y="617.0" width="15.9" height="11.1" fill="#99d40c"/>
<rect x="1372.1" y="617.0" width="7.9" height="11.1" fill="#77d30b"/>
<rect x="1379.5" y="617.0" width="12.2" height="11.1" fill="#b8d20a"/>
<rect x="1391.1" y="617.0" width="12.2" height="11.1" fill="#b7d109"/>
<rect x="1402.7" y="617.0" width="16.5" height="11.1" fill="#b6d008"/>
<rect x="1418.5" y="617.0" width="16.5" height="11.1" fill="#b5cf07"/>
<rect x="1434.4" y="617.0" width="13.2" height="11.1" fill="#93ce06"/>
<rect x="1447.0" y="617.0" width="13.2" height="11.1" fill="#92cd05"/>
<rect x="1459.6" y="617.0" width="13.2" height="11.1" fill="#91cc05"/>
<rect x="1472.2" y="617.0" width="14.0" height="11.1" fill="#70cb04"/>
<rect x="1485.7" y="617.0" width="14.0" height="11.1" fill="#6fca03"/>
<rect x="1499.1" y="617.0" width="14.0" height="11.1" fill="#6fca03"/>
<rect x="1512.5" y="617.0" width="12.8" height="11.1" fill="#6ec902"/>
<rect x="1524.7" y="617.0" width="12.8" height="11.1" fill="#6ec902"/>
<rect x="1536.9" y="617.0" width="12.8" height="11.1" fill="#6dc902"/>
<rect x="1549.2" y="617.0" width="17.1" height="11.1" fill="#2cc801"/>
<rect x="1565.6" y="617.0" width="17.1" height="11.1" fill="#2bc801"/>
<rect x="1582.1" y="617.0" width="15.9" height="11.1" fill="#4cc701"/>
<rect x="1597.4" y="617.0" width="15.9" height="11.1" fill="#4bc701"/>
<rect x="1612.6" y="617.0" width="31.1" height="11.1" fill="#00c738"/>
<rect x="1643.2" y="617.0" width="29.9" height="11.1" fill="#00c738"/>
<rect x="1672.5" y="617.0" width="28.7" height="11.1" fill="#00c659"/>
<rect x="1700.5" y="617.0" width="29.9" height="11.1" fill="#00c658"/>
<rect x="1729.8" y="617.0" width="29.9" height="11.1" fill="#00c679"/>
<rect x="1759.1" y="617.0" width="27.5" height="11.1" fill="#00c679"/>
<rect x="1786.0" y="617.0" width="27.9" height="11.1" fill="#00c699"/>
<rect x="1813.3" y="617.0" width="28.2" height="11.1" fill="#00c699"/>
<rect x="1840.9" y="617.0" width="28.7" height="11.1" fill="#00c6ba"/>
<rect x="1869.0" y="617.0" width="29.9" height="11.1" fill="#00c6ba"/>
<rect x="1898.3" y="617.0" width="29.9" height="11.1" fill="#00c6ba"/>
<rect x="1927.6" y="617.0" width="31.1" height="11.1" fill="#0070c6"/>
<rect x="1958.1" y="617.0" width="7.9" height="11.1" fill="#0070c6"/>
<rect x="1965.5" y="617.0" width="23.8" height="11.1" fill="#0090c6"/>
<rect x="1988.7" y="617.0" width="32.3" height="11.1" fill="#004fc6"/>
<rect x="2020.4" y="617.0" width="38.4" height="11.1" fill="#004fc6"/>
<rect x="2058.2" y="617.0" width="40.9" height="11.1" fill="#004fc6"/>
<rect x="2098.5" y="617.0" width="37.2" height="11.1" fill="#004fc6"/>
<rect x="2135.2" y="617.0" width="33.6" height="11.1" fill="#004fc6"/>
<rect x="2168.1" y="617.0" width="31.1" height="11.1" fill="#004fc6"/>
<rect x="2198.6" y="617.0" width="31.1" height="11.1" fill="#004fc6"/>
<rect x="2229.2" y="617.0" width="29.9" height="11.1" fill="#004fc6"/>
<rect x="2258.5" y="617.0" width="28.7" height="11.1" fill="#004fc6"/>
<rect x="2286.5" y="617.0" width="29.9" height="11.1" fill="#004fc6"/>
<rect x="2315.8" y="617.0" width="29.9" height="11.1" fill="#2ac600"/>
<rect x="2345.1" y="617.0" width="27.5" height="11.1" fill="#4bc600"/>
<rect x="1200.0" y="627.5" width="14.3" height="12.3" fill="#dcd413"/>
<rect x="1213.7" y="627.5" width="14.3" height="12.3" fill="#dbd413"/>
<rect x="1227.3" y="627.5" width="14.4" height="12.3" fill="#dbd413"/>
<rect x="1241.1" y="627.5" width="14.4" height="12.3" fill="#dbd413"/>
<rect x="1254.9" y="627.5" width="14.6" height="12.3" fill="#dad312"/>
<rect x="1269.0" y="627.5" width="14.6" height="12.3" fill="#d9d211"/>
<rect x="1283.0" y="627.5" width="15.2" height="12.3" fill="#bfd810"/>
<rect x="1297.7" y="627.5" width="15.2" height="12.3" fill="#bed70f"/>
<rect x="1312.3" y="627.5" width="15.2" height="12.3" fill="#d6cf0e"/>
<rect x="1327.0" y="627.5" width="15.2" height="12.3" fill="#d5ce0d"/>
<rect x="1341.6" y="627.5" width="15.9" height="12.3" fill="#d4cd0c"/>
<rect x="1356.9" y="627.5" width="15.9" height="12.3" fill="#d3cb0b"/>
<rect x="1372.1" y="627.5" width="7.9" height="12.3" fill="#97d20a"/>
<rect x="1379.5" y="627.5" width="12.2" height="12.3" fill="#d1a909"/>
<rect x="1391.1" y="627.5" width="12.2" height="12.3" fill="#d0a808"/>
<rect x="1402.7" y="627.5" width="16.5" height="12.3" fill="#cfc807"/>
<rect x="1418.5" y="627.5" width="16.5" height="12.3" fill="#cec706"/>
<rect x="1434.4" y="627.5" width="13.2" height="12.3" fill="#b3cd06"/>
<rect x="1447.0" y="627.5" width="13.2" height="12.3" fill="#b2cc05"/>
<rect x="1459.6" y="627.5" width="13.2" height="12.3" fill="#b2cb04"/>
<rect x="1472.2" y="627.5" width="14.0" height="12.3" fill="#90cb04"/>
<rect x="1485.7" y="627.5" width="14.0" height="12.3" fill="#90ca03"/>
<rect x="1499.1" y="627.5" width="14.0" height="12.3" fill="#8fca03"/>
<rect x="1512.5" y="627.5" width="12.8" height="12.3" fill="#8fc902"/>
<rect x="1524.7" y="627.5" width="12.8" height="12.3" fill="#8ec902"/>
<rect x="1536.9" y="627.5" width="12.8" height="12.3" fill="#8ec802"/>
<rect x="1549.2" y="627.5" width="17.1" height="12.3" fill="#2bc801"/>
<rect x="1565.6" y="627.5" width="17.1" height="12.3" fill="#2bc801"/>
<rect x="1582.1" y="627.5" width="15.9" height="12.3" fill="#4cc701"/>
<rect x="1597.4" y="627.5" width="15.9" height="12.3" fill="#4bc701"/>
<rect x="1612.6" y="627.5" width="31.1" height="12.3" fill="#00c738"/>
<rect x="1643.2" y="627.5" width="29.9" height="12.3" fill="#00c738"/>
<rect x="1672.5" y="627.5" width="28.7" height="12.3" fill="#00c638"/>
<rect x="1700.5" y="627.5" width="29.9" height="12.3" fill="#00c638"/>
<rect x="1729.8" y="627.5" width="29.9" height="12.3" fill="#00c679"/>
<rect x="1759.1" y="627.5" width="27.5" height="12.3" fill="#00c679"/>
<rect x="1786.0" y="627.5" width="27.9" height="12.3" fill="#00c658"/>
<rect x="1813.3" y="627.5" width="28.2" height="12.3" fill="#00c679"/>
<rect x="1840.9" y="627.5" width="28.7" height="12.3" fill="#00c699"/>
<rect x="1869.0" y="627.5" width="29.9" height="12.3" fill="#00b1c6"/>
<rect x="1898.3" y="627.5" width="29.9" height="12.3" fill="#004fc6"/>
<rect x="1927.6" y="627.5" width="31.1" height="12.3" fill="#004fc6"/>
<rect x="1958.1" y="627.5" width="7.9" height="12.3" fill="#004fc6"/>
<rect x="1965.5" y="627.5" width="23.8" height="12.3" fill="#004fc6"/>
<rect x="1988.7" y="627.5" width="32.3" height="12.3" fill="#004fc6"/>
<rect x="2020.4" y="627.5" width="38.4" height="12.3" fill="#004fc6"/>
<rect x="2058.2" y="627.5" width="40.9" height="12.3" fill="#004fc6"/>
<rect x="2098.5" y="627.5" width="37.2" height="12.3" fill="#004fc6"/>
<rect x="2135.2" y="627.5" width="33.6" height="12.3" fill="#004fc6"/>
<rect x="2168.1" y="627.5" width="31.1" height="12.3" fill="#004fc6"/>
<rect x="2198.6" y="627.5" width="31.1" height="12.3" fill="#09c600"/>
<rect x="2229.2" y="627.5" width="29.9" height="12.3" fill="#09c600"/>
<rect x="2258.5" y="627.5" width="28.7" height="12.3" fill="#09c600"/>
<rect x="2286.5" y="627.5" width="29.9" height="12.3" fill="#2ac600"/>
<rect x="2315.8" y="627.5" width="29.9" height="12.3" fill="#4bc600"/>
<rect x="2345.1" y="627.5" width="27.5" height="12.3" fill="#6bc600"/>
<rect x="1200.0" y="639.2" width="14.3" height="12.4" fill="#dab211"/>
<rect x="1213.7" y="639.2" width="14.3" height="12.4" fill="#d9b111"/>
<rect x="1227.3" y="639.2" width="14.4" height="12.4" fill="#d9b111"/>
<rect x="1241.1" y="639.2" width="14.4" height="12.4" fill="#d9b111"/>
<rect x="1254.9" y="639.2" width="14.6" height="12.4" fill="#d8b010"/>
<rect x="1269.0" y="639.2" width="14.6" height="12.4" fill="#d8af0f"/>
<rect x="1283.0" y="639.2" width="15.2" height="12.4" fill="#bdd70f"/>
<rect x="1297.7" y="639.2" width="15.2" height="12.4" fill="#bcd60e"/>
<rect x="1312.3" y="639.2" width="15.2" height="12.4" fill="#d5ad0d"/>
<rect x="1327.0" y="639.2" width="15.2" height="12.4" fill="#d4ac0c"/>
<rect x="1341.6" y="639.2" width="15.9" height="12.4" fill="#d3ab0b"/>
<rect x="1356.9" y="639.2" width="15.9" height="12.4" fill="#d2a90a"/>
<rect x="1372.1" y="639.2" width="7.9" height="12.4" fill="#96d109"/>
<rect x="1379.5" y="639.2" width="12.2" height="12.4" fill="#d0a808"/>
<rect x="1391.1" y="639.2" width="12.2" height="12.4" fill="#cfa708"/>
<rect x="1402.7" y="639.2" width="16.5" height="12.4" fill="#cea607"/>
<rect x="1418.5" y="639.2" width="16.5" height="12.4" fill="#cda506"/>
<rect x="1434.4" y="639.2" width="13.2" height="12.4" fill="#cca405"/>
<rect x="1447.0" y="639.2" width="13.2" height="12.4" fill="#cca404"/>
<rect x="1459.6" y="639.2" width="13.2" height="12.4" fill="#cba304"/>
<rect x="1472.2" y="639.2" width="14.0" height="12.4" fill="#cac303"/>
<rect x="1485.7" y="639.2" width="14.0" height="12.4" fill="#cac303"/>
<rect x="1499.1" y="639.2" width="14.0" height="12.4" fill="#c9c202"/>
<rect x="1512.5" y="639.2" width="12.8" height="12.4" fill="#c9c202"/>
<rect x="1524.7" y="639.2" width="12.8" height="12.4" fill="#c9c102"/>
<rect x="1536.9" y="639.2" width="12.8" height="12.4" fill="#c8c101"/>
<rect x="1549.2" y="639.2" width="17.1" height="12.4" fill="#aec801"/>
<rect x="1565.6" y="639.2" width="17.1" height="12.4" fill="#aec801"/>
<rect x="1582.1" y="639.2" width="15.9" height="12.4" fill="#aec701"/>
<rect x="1597.4" y="639.2" width="15.9" height="12.4" fill="#adc701"/>
<rect x="1612.6" y="639.2" width="31.1" height="12.4" fill="#8dc700"/>
<rect x="1643.2" y="639.2" width="29.9" height="12.4" fill="#8cc700"/>
<rect x="1672.5" y="639.2" width="28.7" height="12.4" fill="#4bc600"/>
<rect x="1700.5" y="639.2" width="29.9" height="12.4" fill="#4bc600"/>
<rect x="1729.8" y="639.2" width="29.9" height="12.4" fill="#2ac600"/>
<rect x="1759.1" y="639.2" width="27.5" height="12.4" fill="#00c617"/>
<rect x="1786.0" y="639.2" width="27.9" height="12.4" fill="#00c617"/>
<rect x="1813.3" y="639.2" width="28.2" height="12.4" fill="#09c600"/>
<rect x="1840.9" y="639.2" width="28.7" height="12.4" fill="#09c600"/>
<rect x="1869.0" y="639.2" width="29.9" height="12.4" fill="#09c600"/>
<rect x="1898.3" y="639.2" width="29.9" height="12.4" fill="#09c600"/>
<rect x="1927.6" y="639.2" width="31.1" height="12.4" fill="#09c600"/>
<rect x="1958.1" y="639.2" width="7.9" height="12.4" fill="#09c600"/>
<rect x="1965.5" y="639.2" width="23.8" height="12.4" fill="#09c600"/>
<rect x="1988.7" y="639.2" width="32.3" height="12.4" fill="#09c600"/>
<rect x="2020.4" y="639.2" width="38.4" height="12.4" fill="#09c600"/>
<rect x="2058.2" y="639.2" width="40.9" height="12.4" fill="#09c600"/>
<rect x="2098.5" y="639.2" width="37.2" height="12.4" fill="#09c600"/>
<rect x="2135.2" y="639.2" width="33.6" height="12.4" fill="#09c600"/>
<rect x="2168.1" y="639.2" width="31.1" height="12.4" fill="#09c600"/>
<rect x="2198.6" y="639.2" width="31.1" height="12.4" fill="#09c600"/>
<rect x="2229.2" y="639.2" width="29.9" height="12.4" fill="#2ac600"/>
<rect x="2258.5" y="639.2" width="28.7" height="12.4" fill="#6bc600"/>
<rect x="2286.5" y="639.2" width="29.9" height="12.4" fill="#8cc600"/>
<rect x="2315.8" y="639.2" width="29.9" height="12.4" fill="#acc600"/>
<rect x="2345.1" y="639.2" width="27.5" height="12.4" fill="#c69e00"/>
<rect x="1200.0" y="651.0" width="14.3" height="13.1" fill="#d86e10"/>
<rect x="1213.7" y="651.0" width="14.3" height="13.1" fill="#d86e0f"/>
<rect x="1227.3" y="651.0" width="14.4" height="13.1" fill="#d76d0f"/>
<rect x="1241.1" y="651.0" width="14.4" height="13.1" fill="#d76d0f"/>
<rect x="1254.9" y="651.0" width="14.6" height="13.1" fill="#d66c0e"/>
<rect x="1269.0" y="651.0" width="14.6" height="13.1" fill="#d66c0e"/>
<rect x="1283.0" y="651.0" width="15.2" height="13.1" fill="#d56b0d"/>
<rect x="1297.7" y="651.0" width="15.2" height="13.1" fill="#d46a0c"/>
<rect x="1312.3" y="651.0" width="15.2" height="13.1" fill="#d3490b"/>
<rect x="1327.0" y="651.0" width="15.2" height="13.1" fill="#d2480b"/>
<rect x="1341.6" y="651.0" width="15.9" height="13.1" fill="#d1470a"/>
<rect x="1356.9" y="651.0" width="15.9" height="13.1" fill="#d04609"/>
<rect x="1372.1" y="651.0" width="7.9" height="13.1" fill="#d04508"/>
<rect x="1379.5" y="651.0" width="12.2" height="13.1" fill="#cf6507"/>
<rect x="1391.1" y="651.0" width="12.2" height="13.1" fill="#ce6507"/>
<rect x="1402.7" y="651.0" width="16.5" height="13.1" fill="#ce4306"/>
<rect x="1418.5" y="651.0" width="16.5" height="13.1" fill="#cd4205"/>
<rect x="1434.4" y="651.0" width="13.2" height="13.1" fill="#cc6204"/>
<rect x="1447.0" y="651.0" width="13.2" height="13.1" fill="#cb6204"/>
<rect x="1459.6" y="651.0" width="13.2" height="13.1" fill="#cb6103"/>
<rect x="1472.2" y="651.0" width="14.0" height="13.1" fill="#ca8103"/>
<rect x="1485.7" y="651.0" width="14.0" height="13.1" fill="#ca8102"/>
<rect x="1499.1" y="651.0" width="14.0" height="13.1" fill="#c98002"/>
<rect x="1512.5" y="651.0" width="12.8" height="13.1" fill="#c98002"/>
<rect x="1524.7" y="651.0" width="12.8" height="13.1" fill="#c88001"/>
<rect x="1536.9" y="651.0" width="12.8" height="13.1" fill="#c87f01"/>
<rect x="1549.2" y="651.0" width="17.1" height="13.1" fill="#c87f01"/>
<rect x="1565.6" y="651.0" width="17.1" height="13.1" fill="#c77f01"/>
<rect x="1582.1" y="651.0" width="15.9" height="13.1" fill="#c79f01"/>
<rect x="1597.4" y="651.0" width="15.9" height="13.1" fill="#c79f00"/>
<rect x="1612.6" y="651.0" width="31.1" height="13.1" fill="#8cc700"/>
<rect x="1643.2" y="651.0" width="29.9" height="13.1" fill="#8cc600"/>
<rect x="1672.5" y="651.0" width="28.7" height="13.1" fill="#4bc600"/>
<rect x="1700.5" y="651.0" width="29.9" height="13.1" fill="#4bc600"/>
<rect x="1729.8" y="651.0" width="29.9" height="13.1" fill="#4bc600"/>
<rect x="1759.1" y="651.0" width="27.5" height="13.1" fill="#09c600"/>
<rect x="1786.0" y="651.0" width="27.9" height="13.1" fill="#2ac600"/>
<rect x="1813.3" y="651.0" width="28.2" height="13.1" fill="#09c600"/>
<rect x="1840.9" y="651.0" width="28.7" height="13.1" fill="#09c600"/>
<rect x="1869.0" y="651.0" width="29.9" height="13.1" fill="#09c600"/>
<rect x="1898.3" y="651.0" width="29.9" height="13.1" fill="#09c600"/>
<rect x="1927.6" y="651.0" width="31.1" height="13.1" fill="#09c600"/>
<rect x="1958.1" y="651.0" width="7.9" height="13.1" fill="#09c600"/>
<rect x="1965.5" y="651.0" width="23.8" height="13.1" fill="#09c600"/>
<rect x="1988.7" y="651.0" width="32.3" height="13.1" fill="#09c600"/>
<rect x="2020.4" y="651.0" width="38.4" height="13.1" fill="#09c600"/>
<rect x="2058.2" y="651.0" width="40.9" height="13.1" fill="#2ac600"/>
<rect x="2098.5" y="651.0" width="37.2" height="13.1" fill="#4bc600"/>
<rect x="2135.2" y="651.0" width="33.6" height="13.1" fill="#6bc600"/>
<rect x="2168.1" y="651.0" width="31.1" height="13.1" fill="#8cc600"/>
<rect x="2198.6" y="651.0" width="31.1" height="13.1" fill="#c6bf00"/>
<rect x="2229.2" y="651.0" width="29.9" height="13.1" fill="#c6bf00"/>
<rect x="2258.5" y="651.0" width="28.7" height="13.1" fill="#c69e00"/>
<rect x="2286.5" y="651.0" width="29.9" height="13.1" fill="#c69e00"/>
<rect x="2315.8" y="651.0" width="29.9" height="13.1" fill="#c67d00"/>
<rect x="2345.1" y="651.0" width="27.5" height="13.1" fill="#c67d00"/>
<rect x="1200.0" y="663.5" width="14.3" height="12.7" fill="#d62a0e"/>
<rect x="1213.7" y="663.5" width="14.3" height="12.7" fill="#d62a0e"/>
<rect x="1227.3" y="663.5" width="14.4" height="12.7" fill="#d62a0d"/>
<rect x="1241.1" y="663.5" width="14.4" height="12.7" fill="#d5290d"/>
<rect x="1254.9" y="663.5" width="14.6" height="12.7" fill="#d5290d"/>
<rect x="1269.0" y="663.5" width="14.6" height="12.7" fill="#d4280c"/>
<rect x="1283.0" y="663.5" width="15.2" height="12.7" fill="#d40b0b"/>
<rect x="1297.7" y="663.5" width="15.2" height="12.7" fill="#d30b0b"/>
<rect x="1312.3" y="663.5" width="15.2" height="12.7" fill="#d2260a"/>
<rect x="1327.0" y="663.5" width="15.2" height="12.7" fill="#d12509"/>
<rect x="1341.6" y="663.5" width="15.9" height="12.7" fill="#d02508"/>
<rect x="1356.9" y="663.5" width="15.9" height="12.7" fill="#cf2408"/>
<rect x="1372.1" y="663.5" width="7.9" height="12.7" fill="#cf2307"/>
<rect x="1379.5" y="663.5" width="12.2" height="12.7" fill="#ce6407"/>
<rect x="1391.1" y="663.5" width="12.2" height="12.7" fill="#ce6406"/>
<rect x="1402.7" y="663.5" width="16.5" height="12.7" fill="#cd4205"/>
<rect x="1418.5" y="663.5" width="16.5" height="12.7" fill="#cc4105"/>
<rect x="1434.4" y="663.5" width="13.2" height="12.7" fill="#cb6204"/>
<rect x="1447.0" y="663.5" width="13.2" height="12.7" fill="#cb6103"/>
<rect x="1459.6" y="663.5" width="13.2" height="12.7" fill="#ca6103"/>
<rect x="1472.2" y="663.5" width="14.0" height="12.7" fill="#ca8103"/>
<rect x="1485.7" y="663.5" width="14.0" height="12.7" fill="#c98102"/>
<rect x="1499.1" y="663.5" width="14.0" height="12.7" fill="#c98002"/>
<rect x="1512.5" y="663.5" width="12.8" height="12.7" fill="#c98002"/>
<rect x="1524.7" y="663.5" width="12.8" height="12.7" fill="#c88001"/>
<rect x="1536.9" y="663.5" width="12.8" height="12.7" fill="#c87f01"/>
<rect x="1549.2" y="663.5" width="17.1" height="12.7" fill="#c87f01"/>
<rect x="1565.6" y="663.5" width="17.1" height="12.7" fill="#c77f01"/>
<rect x="1582.1" y="663.5" width="15.9" height="12.7" fill="#c79f01"/>
<rect x="1597.4" y="663.5" width="15.9" height="12.7" fill="#c79f00"/>
<rect x="1612.6" y="663.5" width="31.1" height="12.7" fill="#c79f00"/>
<rect x="1643.2" y="663.5" width="29.9" height="12.7" fill="#c69f00"/>
<rect x="1672.5" y="663.5" width="28.7" height="12.7" fill="#c6bf00"/>
<rect x="1700.5" y="663.5" width="29.9" height="12.7" fill="#c69e00"/>
<rect x="1729.8" y="663.5" width="29.9" height="12.7" fill="#c6bf00"/>
<rect x="1759.1" y="663.5" width="27.5" height="12.7" fill="#c69e00"/>
<rect x="1786.0" y="663.5" width="27.9" height="12.7" fill="#c67e00"/>
<rect x="1813.3" y="663.5" width="28.2" height="12.7" fill="#c61c00"/>
<rect x="1840.9" y="663.5" width="28.7" height="12.7" fill="#c69e00"/>
<rect x="1869.0" y="663.5" width="29.9" height="12.7" fill="#c6bf00"/>
<rect x="1898.3" y="663.5" width="29.9" height="12.7" fill="#c6bf00"/>
<rect x="1927.6" y="663.5" width="31.1" height="12.7" fill="#c6bf00"/>
<rect x="1958.1" y="663.5" width="7.9" height="12.7" fill="#c6bf00"/>
<rect x="1965.5" y="663.5" width="23.8" height="12.7" fill="#c6bf00"/>
<rect x="1988.7" y="663.5" width="32.3" height="12.7" fill="#acc600"/>
<rect x="2020.4" y="663.5" width="38.4" height="12.7" fill="#acc600"/>
<rect x="2058.2" y="663.5" width="40.9" height="12.7" fill="#c6bf00"/>
<rect x="2098.5" y="663.5" width="37.2" height="12.7" fill="#c69e00"/>
<rect x="2135.2" y="663.5" width="33.6" height="12.7" fill="#c67d00"/>
<rect x="2168.1" y="663.5" width="31.1" height="12.7" fill="#c67d00"/>
<rect x="2198.6" y="663.5" width="31.1" height="12.7" fill="#c65d00"/>
<rect x="2229.2" y="663.5" width="29.9" height="12.7" fill="#c65d00"/>
<rect x="2258.5" y="663.5" width="28.7" height="12.7" fill="#c63c00"/>
<rect x="2286.5" y="663.5" width="29.9" height="12.7" fill="#c63c00"/>
<rect x="2315.8" y="663.5" width="29.9" height="12.7" fill="#c63c00"/>
<rect x="2345.1" y="663.5" width="27.5" height="12.7" fill="#c63c00"/>
<rect x="1200.0" y="675.6" width="14.3" height="5.0" fill="#d5290d"/>
<rect x="1213.7" y="675.6" width="14.3" height="5.0" fill="#d5290c"/>
<rect x="1227.3" y="675.6" width="14.4" height="5.0" fill="#d4280c"/>
<rect x="1241.1" y="675.6" width="14.4" height="5.0" fill="#d4280c"/>
<rect x="1254.9" y="675.6" width="14.6" height="5.0" fill="#d4280c"/>
<rect x="1269.0" y="675.6" width="14.6" height="5.0" fill="#d3270b"/>
<rect x="1283.0" y="675.6" width="15.2" height="5.0" fill="#d3480b"/>
<rect x="1297.7" y="675.6" width="15.2" height="5.0" fill="#d2470a"/>
<rect x="1312.3" y="675.6" width="15.2" height="5.0" fill="#d14609"/>
<rect x="1327.0" y="675.6" width="15.2" height="5.0" fill="#d04609"/>
<rect x="1341.6" y="675.6" width="15.9" height="5.0" fill="#d08708"/>
<rect x="1356.9" y="675.6" width="15.9" height="5.0" fill="#cf8607"/>
<rect x="1372.1" y="675.6" width="7.9" height="5.0" fill="#cea606"/>
<rect x="1379.5" y="675.6" width="12.2" height="5.0" fill="#cea606"/>
<rect x="1391.1" y="675.6" width="12.2" height="5.0" fill="#cda505"/>
<rect x="1402.7" y="675.6" width="16.5" height="5.0" fill="#cca405"/>
<rect x="1418.5" y="675.6" width="16.5" height="5.0" fill="#cca404"/>
<rect x="1434.4" y="675.6" width="13.2" height="5.0" fill="#cba304"/>
<rect x="1447.0" y="675.6" width="13.2" height="5.0" fill="#caa303"/>
<rect x="1459.6" y="675.6" width="13.2" height="5.0" fill="#caa203"/>
<rect x="1472.2" y="675.6" width="14.0" height="5.0" fill="#caa202"/>
<rect x="1485.7" y="675.6" width="14.0" height="5.0" fill="#c9a102"/>
<rect x="1499.1" y="675.6" width="14.0" height="5.0" fill="#c9a102"/>
<rect x="1512.5" y="675.6" width="12.8" height="5.0" fill="#c85f01"/>
<rect x="1524.7" y="675.6" width="12.8" height="5.0" fill="#c85f01"/>
<rect x="1536.9" y="675.6" width="12.8" height="5.0" fill="#c85e01"/>
<rect x="1549.2" y="675.6" width="17.1" height="5.0" fill="#c85e01"/>
<rect x="1565.6" y="675.6" width="17.1" height="5.0" fill="#c75e01"/>
<rect x="1582.1" y="675.6" width="15.9" height="5.0" fill="#c75e00"/>
<rect x="1597.4" y="675.6" width="15.9" height="5.0" fill="#c75e00"/>
<rect x="1612.6" y="675.6" width="31.1" height="5.0" fill="#c77e00"/>
<rect x="1643.2" y="675.6" width="29.9" height="5.0" fill="#c67e00"/>
<rect x="1672.5" y="675.6" width="28.7" height="5.0" fill="#c67e00"/>
<rect x="1700.5" y="675.6" width="29.9" height="5.0" fill="#c67e00"/>
<rect x="1729.8" y="675.6" width="29.9" height="5.0" fill="#c67e00"/>
<rect x="1759.1" y="675.6" width="27.5" height="5.0" fill="#c67e00"/>
<rect x="1786.0" y="675.6" width="27.9" height="5.0" fill="#c67e00"/>
<rect x="1813.3" y="675.6" width="28.2" height="5.0" fill="#c67e00"/>
<rect x="1840.9" y="675.6" width="28.7" height="5.0" fill="#c67e00"/>
<rect x="1869.0" y="675.6" width="29.9" height="5.0" fill="#c67e00"/>
<rect x="1898.3" y="675.6" width="29.9" height="5.0" fill="#c67e00"/>
<rect x="1927.6" y="675.6" width="31.1" height="5.0" fill="#c67e00"/>
<rect x="1958.1" y="675.6" width="7.9" height="5.0" fill="#c67e00"/>
<rect x="1965.5" y="675.6" width="23.8" height="5.0" fill="#c67e00"/>
<rect x="1988.7" y="675.6" width="32.3" height="5.0" fill="#c67e00"/>
<rect x="2020.4" y="675.6" width="38.4" height="5.0" fill="#c65d00"/>
<rect x="2058.2" y="675.6" width="40.9" height="5.0" fill="#c65d00"/>
<rect x="2098.5" y="675.6" width="37.2" height="5.0" fill="#c60000"/>
<rect x="2135.2" y="675.6" width="33.6" height="5.0" fill="#c60000"/>
<rect x="2168.1" y="675.6" width="31.1" height="5.0" fill="#c61c00"/>
<rect x="2198.6" y="675.6" width="31.1" height="5.0" fill="#c61c00"/>
<rect x="2229.2" y="675.6" width="29.9" height="5.0" fill="#c61c00"/>
<rect x="2258.5" y="675.6" width="28.7" height="5.0" fill="#c61c00"/>
<rect x="2286.5" y="675.6" width="29.9" height="5.0" fill="#c61c00"/>
<rect x="2315.8" y="675.6" width="29.9" height="5.0" fill="#c61c00"/>
<rect x="2345.1" y="675.6" width="27.5" height="5.0" fill="#c61c00"/>
<rect x="1605.6" y="594.0" width="8.4" height="45.2" fill="#0ac701"/>
<rect x="1605.6" y="639.2" width="8.4" height="11.8" fill="#6cc700"/>
<rect x="1965.4" y="322.5" width="23.4" height="12.0" fill="#00c617"/>
<rect x="1965.4" y="334.5" width="23.4" height="11.5" fill="#00c679"/>
<rect x="2017.7" y="311.0" width="4.8" height="34.5" fill="#09c600"/>
<rect x="1786.0" y="322.5" width="27.4" height="12.0" fill="#00c6ba"/>
<rect x="1786.0" y="334.5" width="27.4" height="11.5" fill="#002fc6"/>
<rect x="1813.3" y="322.5" width="27.7" height="12.0" fill="#00c679"/>
<rect x="1813.3" y="334.5" width="27.7" height="11.5" fill="#0070c6"/>
<rect x="1300.1" y="627.5" width="12.5" height="11.7" fill="#d7d00f"/>
<rect x="1300.1" y="639.2" width="12.5" height="11.8" fill="#d6ae0e"/>
<rect x="1989.0" y="661.5" width="70.0" height="2.1" fill="#acc600"/>
<rect x="1869.0" y="663.4" width="120.0" height="2.8" fill="#09c600"/>
<rect x="1786.0" y="651.0" width="17.0" height="4.0" fill="#09c600"/>
<rect x="1786.0" y="655.0" width="17.0" height="5.6" fill="#c6bf00"/>
<rect x="1786.0" y="660.6" width="14.0" height="14.9" fill="#c69e00"/>
<rect x="1800.0" y="662.0" width="13.4" height="13.5" fill="#c65d00"/>
</g>
<g>
<rect x="0" y="290" width="2400" height="17.0" fill="#fff"/>
<rect x="0" y="679.7" width="2400" height="30" fill="#fff"/>
<rect x="0" y="299.5" width="28.0" height="126.0" fill="#fff"/>
<rect x="0" y="424.5" width="41.0" height="34.5" fill="#fff"/>
<rect x="0" y="458.0" width="55.0" height="23.5" fill="#fff"/>
<rect x="0" y="480.5" width="83.0" height="46.5" fill="#fff"/>
<rect x="0" y="526.0" width="28.0" height="74.5" fill="#fff"/>
<rect x="0" y="599.5" width="41.0" height="28.0" fill="#fff"/>
<rect x="0" y="626.5" width="55.0" height="50.5" fill="#fff"/>
<rect x="0" y="676.0" width="41.0" height="14.5" fill="#fff"/>
<rect x="2359.0" y="299.5" width="41.0" height="10.5" fill="#fff"/>
<rect x="2345.0" y="309.0" width="55.0" height="14.5" fill="#fff"/>
<rect x="2317.0" y="322.5" width="83.0" height="69.0" fill="#fff"/>
<rect x="2345.0" y="390.5" width="55.0" height="24.5" fill="#fff"/>
<rect x="2359.0" y="414.0" width="41.0" height="26.5" fill="#fff"/>
<rect x="2372.0" y="439.5" width="28.0" height="64.0" fill="#fff"/>
<rect x="2317.0" y="502.5" width="83.0" height="70.0" fill="#fff"/>
<rect x="2345.0" y="571.5" width="55.0" height="25.0" fill="#fff"/>
<rect x="2359.0" y="595.5" width="41.0" height="20.0" fill="#fff"/>
<rect x="2372.0" y="614.5" width="28.0" height="48.0" fill="#fff"/>
<rect x="2345.0" y="661.5" width="55.0" height="15.5" fill="#fff"/>
<rect x="2359.0" y="676.0" width="41.0" height="14.5" fill="#fff"/>
<path d="M26.0,585.5 L26.0,598.0 L33.5,595.2 L30.0,591.0Z" fill="#fff"/>
<path d="M26.0,409.0 L26.0,424.0 L34.0,421.0 L30.0,416.0Z" fill="#fff"/>
<path d="M-1714.0,651.0 L-1711.0,646.0 L-1704.0,642.3 L-1691.5,639.8 L-1619.0,636.9 L-1556.5,633.0 L-1494.0,629.2 L-1444.0,625.0 L-1294.0,611.0 L-1144.0,595.2 L-994.0,577.5 L-694.0,537.5 L-544.0,515.2 L-374.0,490.0 L28.0,421.8 L328.0,367.5 L428.0,348.0 L503.0,333.2 L553.0,324.0 L564.0,322.8 L574.0,322.8 L584.0,324.6 L592.0,327.8 L598.0,331.2 L602.0,335.0 L599.0,340.0 L593.0,344.2 L584.0,346.9 L530.5,357.7 L529.0,361.3 L515.0,361.6 L469.0,369.6 L409.0,381.9 L328.0,396.9 L28.0,450.2 L-206.0,490.0 L-544.0,543.9 L-694.0,565.6 L-994.0,605.4 L-1144.0,622.5 L-1294.0,638.5 L-1444.0,650.6 L-1494.0,654.7 L-1544.0,658.0 L-1594.0,661.2 L-1644.0,663.5 L-1675.0,664.0 L-1691.5,662.6 L-1700.0,661.0 L-1706.5,658.8 L-1712.0,655.0 L-1714.0,651.0Z" fill="#fff"/>
<path d="M-1715.2,638.8 L-1708.0,643.6 L-1711.5,647.0Z" fill="#fff"/>
<path d="M467.0,370.2 L471.5,369.2 L469.0,373.6Z" fill="#fff"/>
<path d="M407.0,382.6 L411.5,381.6 L408.6,385.8Z" fill="#fff"/>
<path d="M-1301.0,612.0 L-1297.5,607.8 L-1287.0,609.4 L-1285.0,611.0Z" fill="#fff"/>
<path d="M-614.5,526.0 L-612.5,522.0 L-595.0,523.1 L-591.0,522.3Z" fill="#fff"/>
<path d="M-354.0,487.2 L-350.5,483.2 L-328.0,480.6 L-312.0,479.4Z" fill="#fff"/>
<path d="M-110.0,472.5 L-103.0,473.4 L-86.5,475.2 L-83.5,470.6 L-83.0,468.0Z" fill="#fff"/>
<path d="M-1075.0,589.0 L-1072.0,583.2 L-1061.0,585.0 L-1039.0,581.3 L-1038.5,577.5 L-1035.0,577.0 L-1032.0,581.5 L-1031.0,586.0Z" fill="#fff"/>
<path d="M-542.0,651.0 L-539.0,646.0 L-532.0,642.3 L-519.5,639.8 L-447.0,636.9 L-384.5,633.0 L-322.0,629.2 L-272.0,625.0 L-122.0,611.0 L28.0,595.2 L178.0,577.5 L478.0,537.5 L628.0,515.2 L798.0,490.0 L1200.0,421.8 L1500.0,367.5 L1600.0,348.0 L1675.0,333.2 L1725.0,324.0 L1736.0,322.8 L1746.0,322.8 L1756.0,324.6 L1764.0,327.8 L1770.0,331.2 L1774.0,335.0 L1771.0,340.0 L1765.0,344.2 L1756.0,346.9 L1702.5,357.7 L1701.0,361.3 L1687.0,361.6 L1641.0,369.6 L1581.0,381.9 L1500.0,396.9 L1200.0,450.2 L966.0,490.0 L628.0,543.9 L478.0,565.6 L178.0,605.4 L28.0,622.5 L-122.0,638.5 L-272.0,650.6 L-322.0,654.7 L-372.0,658.0 L-422.0,661.2 L-472.0,663.5 L-503.0,664.0 L-519.5,662.6 L-528.0,661.0 L-534.5,658.8 L-540.0,655.0 L-542.0,651.0Z" fill="#fff"/>
<path d="M-543.2,638.8 L-536.0,643.6 L-539.5,647.0Z" fill="#fff"/>
<path d="M1639.0,370.2 L1643.5,369.2 L1641.0,373.6Z" fill="#fff"/>
<path d="M1579.0,382.6 L1583.5,381.6 L1580.6,385.8Z" fill="#fff"/>
<path d="M-129.0,612.0 L-125.5,607.8 L-115.0,609.4 L-113.0,611.0Z" fill="#fff"/>
<path d="M557.5,526.0 L559.5,522.0 L577.0,523.1 L581.0,522.3Z" fill="#fff"/>
<path d="M818.0,487.2 L821.5,483.2 L844.0,480.6 L860.0,479.4Z" fill="#fff"/>
<path d="M1062.0,472.5 L1069.0,473.4 L1085.5,475.2 L1088.5,470.6 L1089.0,468.0Z" fill="#fff"/>
<path d="M97.0,589.0 L100.0,583.2 L111.0,585.0 L133.0,581.3 L133.5,577.5 L137.0,577.0 L140.0,581.5 L141.0,586.0Z" fill="#fff"/>
<path d="M630.0,651.0 L633.0,646.0 L640.0,642.3 L652.5,639.8 L725.0,636.9 L787.5,633.0 L850.0,629.2 L900.0,625.0 L1050.0,611.0 L1200.0,595.2 L1350.0,577.5 L1650.0,537.5 L1800.0,515.2 L1970.0,490.0 L2372.0,421.8 L2672.0,367.5 L2772.0,348.0 L2847.0,333.2 L2897.0,324.0 L2908.0,322.8 L2918.0,322.8 L2928.0,324.6 L2936.0,327.8 L2942.0,331.2 L2946.0,335.0 L2943.0,340.0 L2937.0,344.2 L2928.0,346.9 L2874.5,357.7 L2873.0,361.3 L2859.0,361.6 L2813.0,369.6 L2753.0,381.9 L2672.0,396.9 L2372.0,450.2 L2138.0,490.0 L1800.0,543.9 L1650.0,565.6 L1350.0,605.4 L1200.0,622.5 L1050.0,638.5 L900.0,650.6 L850.0,654.7 L800.0,658.0 L750.0,661.2 L700.0,663.5 L669.0,664.0 L652.5,662.6 L644.0,661.0 L637.5,658.8 L632.0,655.0 L630.0,651.0Z" fill="#fff"/>
<path d="M628.8,638.8 L636.0,643.6 L632.5,647.0Z" fill="#fff"/>
<path d="M2811.0,370.2 L2815.5,369.2 L2813.0,373.6Z" fill="#fff"/>
<path d="M2751.0,382.6 L2755.5,381.6 L2752.6,385.8Z" fill="#fff"/>
<path d="M1043.0,612.0 L1046.5,607.8 L1057.0,609.4 L1059.0,611.0Z" fill="#fff"/>
<path d="M1729.5,526.0 L1731.5,522.0 L1749.0,523.1 L1753.0,522.3Z" fill="#fff"/>
<path d="M1990.0,487.2 L1993.5,483.2 L2016.0,480.6 L2032.0,479.4Z" fill="#fff"/>
<path d="M2234.0,472.5 L2241.0,473.4 L2257.5,475.2 L2260.5,470.6 L2261.0,468.0Z" fill="#fff"/>
<path d="M1269.0,589.0 L1272.0,583.2 L1283.0,585.0 L1305.0,581.3 L1305.5,577.5 L1309.0,577.0 L1312.0,581.5 L1313.0,586.0Z" fill="#fff"/>
<path d="M1802.0,651.0 L1805.0,646.0 L1812.0,642.3 L1824.5,639.8 L1897.0,636.9 L1959.5,633.0 L2022.0,629.2 L2072.0,625.0 L2222.0,611.0 L2372.0,595.2 L2522.0,577.5 L2822.0,537.5 L2972.0,515.2 L3142.0,490.0 L3544.0,421.8 L3844.0,367.5 L3944.0,348.0 L4019.0,333.2 L4069.0,324.0 L4080.0,322.8 L4090.0,322.8 L4100.0,324.6 L4108.0,327.8 L4114.0,331.2 L4118.0,335.0 L4115.0,340.0 L4109.0,344.2 L4100.0,346.9 L4046.5,357.7 L4045.0,361.3 L4031.0,361.6 L3985.0,369.6 L3925.0,381.9 L3844.0,396.9 L3544.0,450.2 L3310.0,490.0 L2972.0,543.9 L2822.0,565.6 L2522.0,605.4 L2372.0,622.5 L2222.0,638.5 L2072.0,650.6 L2022.0,654.7 L1972.0,658.0 L1922.0,661.2 L1872.0,663.5 L1841.0,664.0 L1824.5,662.6 L1816.0,661.0 L1809.5,658.8 L1804.0,655.0 L1802.0,651.0Z" fill="#fff"/>
<path d="M1800.8,638.8 L1808.0,643.6 L1804.5,647.0Z" fill="#fff"/>
<path d="M3983.0,370.2 L3987.5,369.2 L3985.0,373.6Z" fill="#fff"/>
<path d="M3923.0,382.6 L3927.5,381.6 L3924.6,385.8Z" fill="#fff"/>
<path d="M2215.0,612.0 L2218.5,607.8 L2229.0,609.4 L2231.0,611.0Z" fill="#fff"/>
<path d="M2901.5,526.0 L2903.5,522.0 L2921.0,523.1 L2925.0,522.3Z" fill="#fff"/>
<path d="M3162.0,487.2 L3165.5,483.2 L3188.0,480.6 L3204.0,479.4Z" fill="#fff"/>
<path d="M3406.0,472.5 L3413.0,473.4 L3429.5,475.2 L3432.5,470.6 L3433.0,468.0Z" fill="#fff"/>
<path d="M2441.0,589.0 L2444.0,583.2 L2455.0,585.0 L2477.0,581.3 L2477.5,577.5 L2481.0,577.0 L2484.0,581.5 L2485.0,586.0Z" fill="#fff"/>
</g>
<defs><linearGradient id="cb" x1="0" x2="1" y1="0" y2="0"><stop offset="0.0000" stop-color="#0000ff"/><stop offset="0.0417" stop-color="#002bff"/><stop offset="0.0833" stop-color="#0055ff"/><stop offset="0.1250" stop-color="#0080ff"/><stop offset="0.1667" stop-color="#00aaff"/><stop offset="0.2083" stop-color="#00d4ff"/><stop offset="0.2500" stop-color="#00ffff"/><stop offset="0.2917" stop-color="#00ffd4"/><stop offset="0.3333" stop-color="#00ffaa"/><stop offset="0.3750" stop-color="#00ff80"/><stop offset="0.4167" stop-color="#00ff55"/><stop offset="0.4583" stop-color="#00ff2b"/><stop offset="0.5000" stop-color="#00ff00"/><stop offset="0.5417" stop-color="#2aff00"/><stop offset="0.5833" stop-color="#55ff00"/><stop offset="0.6250" stop-color="#80ff00"/><stop offset="0.6667" stop-color="#aaff00"/><stop offset="0.7083" stop-color="#d5ff00"/><stop offset="0.7500" stop-color="#ffff00"/><stop offset="0.7917" stop-color="#ffd400"/><stop offset="0.8333" stop-color="#ffaa00"/><stop offset="0.8750" stop-color="#ff8000"/><stop offset="0.9167" stop-color="#ff5500"/><stop offset="0.9583" stop-color="#ff2a00"/><stop offset="1.0000" stop-color="#ff0000"/></linearGradient></defs>
<rect x="1195" y="84" width="1200" height="31" fill="url(#cb)"/>
<rect x="1216" y="72" width="1" height="16.8" fill="#000" shape-rendering="crispEdges"/>
<text x="1216.50" y="63" class="tk">0.5</text>
<rect x="1314" y="72" width="1" height="16.8" fill="#000" shape-rendering="crispEdges"/>
<text x="1314.50" y="63" class="tk">1</text>
<rect x="1413" y="72" width="1" height="16.8" fill="#000" shape-rendering="crispEdges"/>
<text x="1413.50" y="63" class="tk">1.5</text>
<rect x="1512" y="72" width="1" height="16.8" fill="#000" shape-rendering="crispEdges"/>
<text x="1512.50" y="63" class="tk">2</text>
<rect x="1611" y="72" width="1" height="16.8" fill="#000" shape-rendering="crispEdges"/>
<text x="1611.50" y="63" class="tk">2.5</text>
<rect x="1710" y="72" width="1" height="16.8" fill="#000" shape-rendering="crispEdges"/>
<text x="1710.50" y="63" class="tk">3</text>
<rect x="1808" y="72" width="1" height="16.8" fill="#000" shape-rendering="crispEdges"/>
<text x="1808.50" y="63" class="tk">3.5</text>
<rect x="1907" y="72" width="1" height="16.8" fill="#000" shape-rendering="crispEdges"/>
<text x="1907.50" y="63" class="tk">4</text>
<rect x="2006" y="72" width="1" height="16.8" fill="#000" shape-rendering="crispEdges"/>
<text x="2006.50" y="63" class="tk">4.5</text>
<rect x="2105" y="72" width="1" height="16.8" fill="#000" shape-rendering="crispEdges"/>
<text x="2105.50" y="63" class="tk">5</text>
<rect x="2204" y="72" width="1" height="16.8" fill="#000" shape-rendering="crispEdges"/>
<text x="2204.50" y="63" class="tk">5.5</text>
<rect x="2303" y="72" width="1" height="16.8" fill="#000" shape-rendering="crispEdges"/>
<text x="2303.50" y="63" class="tk">6</text>
<text x="1795.2" y="30.2" class="ttl" text-anchor="middle">URel Magnitude</text>
<text x="24.6" y="33.2" class="ttl" style="letter-spacing:-0.1px">Point 2, span 0.5</text>
<g>
<text x="103.5" y="696" font-size="12" fill="#eef6ff" font-style="italic" class="ax">Z</text>
<text x="148" y="697.5" font-size="12" fill="#eef6ff" font-style="italic" class="ax">X</text>
<line x1="99.8" y1="696" x2="99.8" y2="655" stroke="#ffe000" stroke-width="1.4"/>
<path d="M99.8,645 L103.6,655.7 L96,655.7 Z" fill="#e8d800" stroke="#222" stroke-width="0.6"/>
<text x="102.3" y="655.6" font-size="15" fill="#fff" class="ax">Y</text>
<line x1="113" y1="700.3" x2="146" y2="700" stroke="#f01818" stroke-width="1.1"/>
<path d="M155,700 L144.4,696.3 L144.4,703.7 Z" fill="#e00000" stroke="#222" stroke-width="0.6"/>
<circle cx="100" cy="700" r="5" fill="#005a00"/>
</g>
</svg>
</body></html>
